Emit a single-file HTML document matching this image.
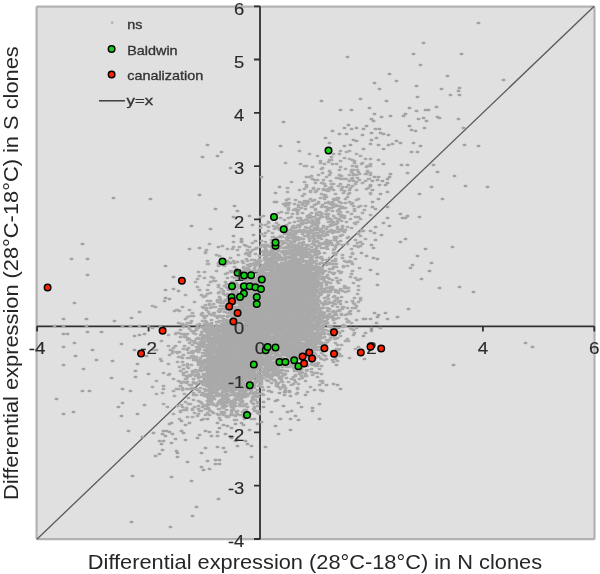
<!DOCTYPE html>
<html><head><meta charset="utf-8"><style>
html,body{margin:0;padding:0;background:#fff;width:600px;height:574px;overflow:hidden}
svg{display:block;will-change:transform}
text{font-family:"Liberation Sans", sans-serif}
</style></head><body>
<svg width="600" height="574" viewBox="0 0 600 574">
<rect x="36.6" y="6.6" width="557.9" height="532.6" rx="1" fill="#e0e0e0" stroke="#b2b2b2" stroke-width="2.2"/>
<g stroke="#303030" stroke-width="1.8" fill="none">
<path d="M260 6.3V539.2M254 539.0H260M254 485.7H260M254 432.4H260M254 379.2H260M254 325.9H260M254 272.6H260M254 219.4H260M254 166.1H260M254 112.8H260M254 59.5H260M254 6.3H260"/>
<path d="M36.9 326.3H594.2M37.1 326.3V331.5M148.6 326.3V331.5M260.0 326.3V331.5M371.4 326.3V331.5M482.9 326.3V331.5M594.3 326.3V331.5"/>
</g>
<path d="M36.9 539.2L594.2 6.3" stroke="#5a5a5a" stroke-width="1.3"/>
<path d="M298.9 151h1.2M339.9 151h1.2M348.9 151h1.2M327.9 152h1.2M345.9 152h1.2M308.9 154h1.2M332.9 154h1.2M338.9 154h1.2M355.9 154h1.2M316.9 156h1.2M359.9 156h1.2M330.9 157h1.2M343.9 158h1.2M348.9 159h1.2M364.9 159h1.2M369.9 159h1.2M328.9 160h1.2M330.9 160h1.2M351.9 160h1.2M319.9 161h1.2M339.9 161h1.2M353.9 161h1.2M327.9 162h1.2M353.9 162h1.2M284.9 163h1.2M319.9 163h1.2M353.9 163h1.2M361.9 163h1.2M299.9 164h1.2M323.9 164h1.2M331.9 164h1.2M335.9 164h1.2M360.9 164h1.2M369.9 164h1.2M303.9 166h1.2M305.9 166h1.2M351.9 166h1.2M355.9 166h1.2M366.9 166h1.2M368.9 166h1.2M369.9 166h1.2M311.9 167h1.2M339.9 167h1.2M355.9 167h1.2M365.9 167h1.2M321.9 168h1.2M320.9 169h1.2M344.9 169h1.2M338.9 170h1.2M350.9 170h1.2M352.9 170h1.2M356.9 170h1.2M328.9 171h1.2M366.9 171h1.2M350.9 172h1.2M357.9 172h1.2M366.9 172h1.2M321.9 173h1.2M329.9 173h1.2M369.9 173h1.2M352.9 174h1.2M358.9 174h1.2M364.9 174h1.2M365.9 174h1.2M317.9 175h1.2M328.9 175h1.2M338.9 175h1.2M348.9 175h1.2M352.9 175h1.2M355.9 175h1.2M369.9 175h1.2M310.9 176h1.2M340.9 176h1.2M305.9 177h1.2M308.9 177h1.2M325.9 177h1.2M335.9 178h1.2M337.9 178h1.2M351.9 178h1.2M356.9 178h1.2M311.9 179h1.2M339.9 179h1.2M342.9 179h1.2M344.9 179h1.2M345.9 179h1.2M350.9 179h1.2M351.9 179h1.2M367.9 179h1.2M368.9 179h1.2M313.9 180h1.2M316.9 180h1.2M322.9 180h1.2M358.9 180h1.2M329.9 181h1.2M348.9 181h1.2M352.9 181h1.2M364.9 181h1.2M290.9 182h1.2M303.9 182h1.2M355.9 182h1.2M314.9 183h1.2M320.9 183h1.2M321.9 183h1.2M361.9 183h1.2M323.9 184h1.2M330.9 184h1.2M332.9 184h1.2M339.9 184h1.2M354.9 184h1.2M305.9 185h1.2M347.9 185h1.2M369.9 185h1.2M305.9 186h1.2M324.9 186h1.2M337.9 186h1.2M351.9 186h1.2M305.9 187h1.2M330.9 187h1.2M341.9 187h1.2M345.9 187h1.2M286.9 188h1.2M312.9 188h1.2M328.9 188h1.2M329.9 188h1.2M349.9 188h1.2M367.9 188h1.2M303.9 189h1.2M312.9 189h1.2M317.9 189h1.2M322.9 189h1.2M327.9 189h1.2M330.9 189h1.2M340.9 189h1.2M365.9 189h1.2M298.9 190h1.2M322.9 190h1.2M325.9 190h1.2M332.9 190h1.2M340.9 190h1.2M348.9 190h1.2M355.9 190h1.2M309.9 191h1.2M315.9 191h1.2M326.9 191h1.2M327.9 191h1.2M343.9 191h1.2M286.9 192h1.2M309.9 192h1.2M314.9 192h1.2M342.9 193h1.2M348.9 193h1.2M369.9 193h1.2M303.9 194h1.2M320.9 194h1.2M334.9 194h1.2M347.9 194h1.2M369.9 194h1.2M323.9 195h1.2M324.9 195h1.2M301.9 196h1.2M323.9 197h1.2M325.9 197h1.2M346.9 197h1.2M319.9 198h1.2M336.9 198h1.2M337.9 198h1.2M287.9 199h1.2M309.9 199h1.2M323.9 199h1.2M332.9 199h1.2M334.9 199h1.2M344.9 199h1.2M357.9 199h1.2M285.9 200h1.2M294.9 200h1.2M313.9 200h1.2M333.9 200h1.2M335.9 200h1.2M336.9 200h1.2M355.9 200h1.2M303.9 201h1.2M306.9 201h1.2M311.9 201h1.2M298.9 202h1.2M307.9 202h1.2M317.9 202h1.2M327.9 202h1.2M331.9 202h1.2M338.9 202h1.2M348.9 202h1.2M285.9 203h1.2M288.9 203h1.2M301.9 203h1.2M303.9 203h1.2M306.9 203h1.2M317.9 203h1.2M324.9 203h1.2M327.9 203h1.2M328.9 203h1.2M340.9 203h1.2M344.9 203h1.2M351.9 203h1.2M282.9 204h1.2M293.9 204h1.2M306.9 204h1.2M315.9 204h1.2M329.9 204h1.2M330.9 204h1.2M332.9 204h1.2M350.9 204h1.2M284.9 205h1.2M287.9 205h1.2M297.9 205h1.2M301.9 205h1.2M313.9 205h1.2M321.9 205h1.2M331.9 205h1.2M335.9 205h1.2M284.9 206h1.2M304.9 206h1.2M321.9 206h1.2M335.9 206h1.2M338.9 206h1.2M352.9 206h1.2M359.9 206h1.2M364.9 206h1.2M297.9 207h1.2M310.9 207h1.2M311.9 207h1.2M320.9 207h1.2M324.9 207h1.2M325.9 207h1.2M332.9 207h1.2M341.9 207h1.2M357.9 207h1.2M287.9 208h1.2M300.9 208h1.2M326.9 208h1.2M327.9 208h1.2M330.9 208h1.2M340.9 208h1.2M342.9 208h1.2M344.9 208h1.2M294.9 209h1.2M304.9 209h1.2M314.9 209h1.2M338.9 209h1.2M353.9 209h1.2M287.9 210h1.2M292.9 210h1.2M294.9 210h1.2M297.9 210h1.2M314.9 210h1.2M326.9 210h1.2M327.9 210h1.2M337.9 210h1.2M363.9 210h1.2M325.9 211h1.2M331.9 211h1.2M336.9 211h1.2M353.9 211h1.2M280.9 212h1.2M296.9 212h1.2M318.9 212h1.2M339.9 212h1.2M346.9 212h1.2M277.9 213h1.2M285.9 213h1.2M286.9 213h1.2M301.9 213h1.2M310.9 213h1.2M315.9 213h1.2M320.9 213h1.2M361.9 213h1.2M291.9 214h1.2M296.9 214h1.2M324.9 214h1.2M325.9 214h1.2M327.9 214h1.2M337.9 214h1.2M350.9 214h1.2M274.9 215h1.2M308.9 215h1.2M315.9 215h1.2M318.9 215h1.2M320.9 215h1.2M340.9 215h1.2M369.9 215h1.2M262.9 216h1.2M306.9 216h1.2M307.9 216h1.2M309.9 216h1.2M326.9 216h1.2M332.9 216h1.2M339.9 216h1.2M342.9 216h1.2M343.9 216h1.2M259.9 217h1.2M271.9 217h1.2M272.9 217h1.2M290.9 217h1.2M310.9 217h1.2M313.9 217h1.2M320.9 217h1.2M321.9 217h1.2M325.9 217h1.2M341.9 217h1.2M354.9 217h1.2M357.9 217h1.2M279.9 218h1.2M287.9 218h1.2M296.9 218h1.2M299.9 218h1.2M306.9 218h1.2M308.9 218h1.2M318.9 218h1.2M327.9 218h1.2M334.9 218h1.2M343.9 218h1.2M315.9 219h1.2M326.9 219h1.2M329.9 219h1.2M337.9 219h1.2M338.9 219h1.2M349.9 219h1.2M359.9 219h1.2M283.9 220h1.2M300.9 220h1.2M304.9 220h1.2M305.9 220h1.2M311.9 220h1.2M317.9 220h1.2M330.9 220h1.2M297.9 221h1.2M301.9 221h1.2M307.9 221h1.2M315.9 221h1.2M336.9 221h1.2M340.9 221h1.2M267.9 222h1.2M293.9 222h1.2M308.9 222h1.2M312.9 222h1.2M317.9 222h1.2M327.9 222h1.2M329.9 222h1.2M332.9 222h1.2M345.9 222h1.2M356.9 222h1.2M267.9 223h1.2M275.9 223h1.2M288.9 223h1.2M300.9 223h1.2M303.9 223h1.2M305.9 223h1.2M310.9 223h1.2M316.9 223h1.2M317.9 223h1.2M331.9 223h1.2M336.9 223h1.2M353.9 223h1.2M259.9 224h1.2M301.9 224h1.2M312.9 224h1.2M314.9 224h1.2M315.9 224h1.2M335.9 224h1.2M354.9 224h1.2M260.9 225h1.2M264.9 225h1.2M277.9 225h1.2M285.9 225h1.2M297.9 225h1.2M299.9 225h1.2M314.9 225h1.2M316.9 225h1.2M329.9 225h1.2M332.9 225h1.2M272.9 226h1.2M284.9 226h1.2M285.9 226h1.2M292.9 226h1.2M296.9 226h1.2M310.9 226h1.2M322.9 226h1.2M329.9 226h1.2M341.9 226h1.2M267.9 227h1.2M275.9 227h1.2M291.9 227h1.2M298.9 227h1.2M304.9 227h1.2M316.9 227h1.2M322.9 227h1.2M326.9 227h1.2M336.9 227h1.2M346.9 227h1.2M259.9 228h1.2M274.9 228h1.2M277.9 228h1.2M280.9 228h1.2M283.9 228h1.2M294.9 228h1.2M305.9 228h1.2M307.9 228h1.2M308.9 228h1.2M313.9 228h1.2M341.9 228h1.2M350.9 228h1.2M273.9 229h1.2M279.9 229h1.2M283.9 229h1.2M285.9 229h1.2M290.9 229h1.2M316.9 229h1.2M317.9 229h1.2M320.9 229h1.2M325.9 229h1.2M336.9 229h1.2M340.9 229h1.2M278.9 230h1.2M280.9 230h1.2M289.9 230h1.2M298.9 230h1.2M302.9 230h1.2M310.9 230h1.2M312.9 230h1.2M315.9 230h1.2M318.9 230h1.2M330.9 230h1.2M338.9 230h1.2M344.9 230h1.2M360.9 230h1.2M267.9 231h1.2M286.9 231h1.2M291.9 231h1.2M292.9 231h1.2M294.9 231h1.2M296.9 231h1.2M299.9 231h1.2M305.9 231h1.2M307.9 231h1.2M310.9 231h1.2M311.9 231h1.2M322.9 231h1.2M328.9 231h1.2M331.9 231h1.2M333.9 231h1.2M341.9 231h1.2M360.9 231h1.2M362.9 231h1.2M284.9 232h1.2M285.9 232h1.2M293.9 232h1.2M294.9 232h1.2M297.9 232h1.2M301.9 232h1.2M302.9 232h1.2M304.9 232h1.2M308.9 232h1.2M319.9 232h1.2M326.9 232h1.2M327.9 232h1.2M334.9 232h1.2M337.9 232h1.2M343.9 232h1.2M264.9 233h1.2M271.9 233h1.2M289.9 233h1.2M306.9 233h1.2M308.9 233h1.2M310.9 233h1.2M314.9 233h1.2M316.9 233h1.2M322.9 233h1.2M331.9 233h1.2M357.9 233h1.2M260.9 234h1.2M283.9 234h1.2M286.9 234h1.2M287.9 234h1.2M288.9 234h1.2M290.9 234h1.2M292.9 234h1.2M294.9 234h1.2M301.9 234h1.2M312.9 234h1.2M325.9 234h1.2M357.9 234h1.2M287.9 235h1.2M290.9 235h1.2M293.9 235h1.2M307.9 235h1.2M317.9 235h1.2M320.9 235h1.2M326.9 235h1.2M340.9 235h1.2M341.9 235h1.2M263.9 236h1.2M279.9 236h1.2M291.9 236h1.2M303.9 236h1.2M304.9 236h1.2M311.9 236h1.2M312.9 236h1.2M313.9 236h1.2M314.9 236h1.2M323.9 236h1.2M339.9 236h1.2M359.9 236h1.2M271.9 237h1.2M272.9 237h1.2M278.9 237h1.2M281.9 237h1.2M286.9 237h1.2M291.9 237h1.2M294.9 237h1.2M296.9 237h1.2M307.9 237h1.2M311.9 237h1.2M317.9 237h1.2M319.9 237h1.2M333.9 237h1.2M334.9 237h1.2M335.9 237h1.2M347.9 237h1.2M275.9 238h1.2M285.9 238h1.2M287.9 238h1.2M288.9 238h1.2M289.9 238h1.2M298.9 238h1.2M299.9 238h1.2M311.9 238h1.2M312.9 238h1.2M317.9 238h1.2M333.9 238h1.2M335.9 238h1.2M346.9 238h1.2M292.9 239h1.2M294.9 239h1.2M296.9 239h1.2M298.9 239h1.2M299.9 239h1.2M300.9 239h1.2M302.9 239h1.2M308.9 239h1.2M313.9 239h1.2M320.9 239h1.2M364.9 239h1.2M270.9 240h1.2M275.9 240h1.2M276.9 240h1.2M285.9 240h1.2M286.9 240h1.2M295.9 240h1.2M297.9 240h1.2M325.9 240h1.2M333.9 240h1.2M334.9 240h1.2M354.9 240h1.2M240.9 241h1.2M260.9 241h1.2M279.9 241h1.2M280.9 241h1.2M281.9 241h1.2M287.9 241h1.2M288.9 241h1.2M292.9 241h1.2M293.9 241h1.2M308.9 241h1.2M312.9 241h1.2M316.9 241h1.2M328.9 241h1.2M329.9 241h1.2M339.9 241h1.2M232.9 242h1.2M264.9 242h1.2M272.9 242h1.2M273.9 242h1.2M281.9 242h1.2M282.9 242h1.2M293.9 242h1.2M302.9 242h1.2M313.9 242h1.2M314.9 242h1.2M315.9 242h1.2M324.9 242h1.2M326.9 242h1.2M336.9 242h1.2M359.9 242h1.2M251.9 243h1.2M270.9 243h1.2M271.9 243h1.2M274.9 243h1.2M277.9 243h1.2M284.9 243h1.2M290.9 243h1.2M298.9 243h1.2M299.9 243h1.2M312.9 243h1.2M318.9 243h1.2M322.9 243h1.2M327.9 243h1.2M330.9 243h1.2M356.9 243h1.2M208.9 244h1.2M281.9 244h1.2M287.9 244h1.2M302.9 244h1.2M311.9 244h1.2M312.9 244h1.2M321.9 244h1.2M324.9 244h1.2M326.9 244h1.2M329.9 244h1.2M337.9 244h1.2M345.9 244h1.2M346.9 244h1.2M361.9 244h1.2M260.9 245h1.2M262.9 245h1.2M265.9 245h1.2M266.9 245h1.2M274.9 245h1.2M287.9 245h1.2M288.9 245h1.2M292.9 245h1.2M293.9 245h1.2M295.9 245h1.2M296.9 245h1.2M301.9 245h1.2M305.9 245h1.2M307.9 245h1.2M313.9 245h1.2M318.9 245h1.2M331.9 245h1.2M335.9 245h1.2M341.9 245h1.2M221.9 246h1.2M245.9 246h1.2M267.9 246h1.2M269.9 246h1.2M270.9 246h1.2M273.9 246h1.2M274.9 246h1.2M279.9 246h1.2M289.9 246h1.2M293.9 246h1.2M297.9 246h1.2M300.9 246h1.2M306.9 246h1.2M315.9 246h1.2M318.9 246h1.2M326.9 246h1.2M353.9 246h1.2M355.9 246h1.2M359.9 246h1.2M232.9 247h1.2M238.9 247h1.2M248.9 247h1.2M259.9 247h1.2M263.9 247h1.2M264.9 247h1.2M269.9 247h1.2M276.9 247h1.2M277.9 247h1.2M284.9 247h1.2M286.9 247h1.2M291.9 247h1.2M292.9 247h1.2M300.9 247h1.2M305.9 247h1.2M310.9 247h1.2M325.9 247h1.2M334.9 247h1.2M357.9 247h1.2M255.9 248h1.2M264.9 248h1.2M275.9 248h1.2M277.9 248h1.2M278.9 248h1.2M282.9 248h1.2M285.9 248h1.2M287.9 248h1.2M288.9 248h1.2M292.9 248h1.2M295.9 248h1.2M298.9 248h1.2M300.9 248h1.2M302.9 248h1.2M304.9 248h1.2M315.9 248h1.2M320.9 248h1.2M323.9 248h1.2M325.9 248h1.2M226.9 249h1.2M231.9 249h1.2M254.9 249h1.2M271.9 249h1.2M273.9 249h1.2M277.9 249h1.2M293.9 249h1.2M298.9 249h1.2M301.9 249h1.2M304.9 249h1.2M307.9 249h1.2M314.9 249h1.2M326.9 249h1.2M333.9 249h1.2M350.9 249h1.2M205.9 250h1.2M236.9 250h1.2M246.9 250h1.2M251.9 250h1.2M264.9 250h1.2M265.9 250h1.2M270.9 250h1.2M274.9 250h1.2M289.9 250h1.2M291.9 250h1.2M292.9 250h1.2M293.9 250h1.2M294.9 250h1.2M295.9 250h1.2M302.9 250h1.2M305.9 250h1.2M309.9 250h1.2M310.9 250h1.2M312.9 250h1.2M332.9 250h1.2M262.9 251h1.2M272.9 251h1.2M277.9 251h1.2M281.9 251h1.2M284.9 251h1.2M285.9 251h1.2M287.9 251h1.2M288.9 251h1.2M290.9 251h1.2M292.9 251h1.2M293.9 251h1.2M295.9 251h1.2M298.9 251h1.2M301.9 251h1.2M313.9 251h1.2M316.9 251h1.2M317.9 251h1.2M204.9 252h1.2M249.9 252h1.2M261.9 252h1.2M262.9 252h1.2M263.9 252h1.2M265.9 252h1.2M266.9 252h1.2M268.9 252h1.2M269.9 252h1.2M270.9 252h1.2M280.9 252h1.2M281.9 252h1.2M285.9 252h1.2M286.9 252h1.2M287.9 252h1.2M292.9 252h1.2M297.9 252h1.2M301.9 252h1.2M304.9 252h1.2M305.9 252h1.2M309.9 252h1.2M312.9 252h1.2M313.9 252h1.2M316.9 252h1.2M204.9 253h1.2M245.9 253h1.2M246.9 253h1.2M263.9 253h1.2M267.9 253h1.2M270.9 253h1.2M273.9 253h1.2M274.9 253h1.2M275.9 253h1.2M282.9 253h1.2M285.9 253h1.2M286.9 253h1.2M287.9 253h1.2M288.9 253h1.2M291.9 253h1.2M292.9 253h1.2M293.9 253h1.2M294.9 253h1.2M296.9 253h1.2M300.9 253h1.2M303.9 253h1.2M306.9 253h1.2M307.9 253h1.2M314.9 253h1.2M317.9 253h1.2M318.9 253h1.2M323.9 253h1.2M332.9 253h1.2M335.9 253h1.2M351.9 253h1.2M244.9 254h1.2M248.9 254h1.2M254.9 254h1.2M269.9 254h1.2M272.9 254h1.2M273.9 254h1.2M276.9 254h1.2M284.9 254h1.2M286.9 254h1.2M287.9 254h1.2M288.9 254h1.2M290.9 254h1.2M291.9 254h1.2M294.9 254h1.2M298.9 254h1.2M306.9 254h1.2M314.9 254h1.2M316.9 254h1.2M317.9 254h1.2M351.9 254h1.2M215.9 255h1.2M237.9 255h1.2M247.9 255h1.2M262.9 255h1.2M264.9 255h1.2M265.9 255h1.2M267.9 255h1.2M270.9 255h1.2M271.9 255h1.2M273.9 255h1.2M278.9 255h1.2M283.9 255h1.2M292.9 255h1.2M295.9 255h1.2M297.9 255h1.2M300.9 255h1.2M303.9 255h1.2M307.9 255h1.2M309.9 255h1.2M313.9 255h1.2M315.9 255h1.2M334.9 255h1.2M341.9 255h1.2M218.9 256h1.2M248.9 256h1.2M258.9 256h1.2M264.9 256h1.2M271.9 256h1.2M274.9 256h1.2M278.9 256h1.2M290.9 256h1.2M294.9 256h1.2M299.9 256h1.2M301.9 256h1.2M303.9 256h1.2M304.9 256h1.2M305.9 256h1.2M306.9 256h1.2M265.9 257h1.2M273.9 257h1.2M275.9 257h1.2M277.9 257h1.2M278.9 257h1.2M279.9 257h1.2M284.9 257h1.2M286.9 257h1.2M288.9 257h1.2M291.9 257h1.2M292.9 257h1.2M294.9 257h1.2M300.9 257h1.2M303.9 257h1.2M304.9 257h1.2M305.9 257h1.2M306.9 257h1.2M310.9 257h1.2M311.9 257h1.2M316.9 257h1.2M320.9 257h1.2M349.9 257h1.2M229.9 258h1.2M263.9 258h1.2M265.9 258h1.2M269.9 258h1.2M272.9 258h1.2M276.9 258h1.2M279.9 258h1.2M282.9 258h1.2M284.9 258h1.2M285.9 258h1.2M286.9 258h1.2M287.9 258h1.2M288.9 258h1.2M291.9 258h1.2M300.9 258h1.2M309.9 258h1.2M310.9 258h1.2M315.9 258h1.2M319.9 258h1.2M328.9 258h1.2M341.9 258h1.2M245.9 259h1.2M258.9 259h1.2M264.9 259h1.2M266.9 259h1.2M268.9 259h1.2M269.9 259h1.2M275.9 259h1.2M278.9 259h1.2M280.9 259h1.2M281.9 259h1.2M283.9 259h1.2M291.9 259h1.2M292.9 259h1.2M294.9 259h1.2M296.9 259h1.2M299.9 259h1.2M301.9 259h1.2M309.9 259h1.2M321.9 259h1.2M334.9 259h1.2M354.9 259h1.2M250.9 260h1.2M251.9 260h1.2M253.9 260h1.2M258.9 260h1.2M263.9 260h1.2M266.9 260h1.2M267.9 260h1.2M268.9 260h1.2M269.9 260h1.2M272.9 260h1.2M277.9 260h1.2M278.9 260h1.2M279.9 260h1.2M281.9 260h1.2M283.9 260h1.2M284.9 260h1.2M290.9 260h1.2M291.9 260h1.2M292.9 260h1.2M295.9 260h1.2M296.9 260h1.2M297.9 260h1.2M299.9 260h1.2M300.9 260h1.2M311.9 260h1.2M321.9 260h1.2M325.9 260h1.2M206.9 261h1.2M223.9 261h1.2M226.9 261h1.2M232.9 261h1.2M241.9 261h1.2M246.9 261h1.2M255.9 261h1.2M258.9 261h1.2M259.9 261h1.2M265.9 261h1.2M267.9 261h1.2M268.9 261h1.2M270.9 261h1.2M273.9 261h1.2M288.9 261h1.2M289.9 261h1.2M291.9 261h1.2M294.9 261h1.2M295.9 261h1.2M299.9 261h1.2M303.9 261h1.2M304.9 261h1.2M307.9 261h1.2M310.9 261h1.2M315.9 261h1.2M331.9 261h1.2M334.9 261h1.2M343.9 261h1.2M348.9 261h1.2M227.9 262h1.2M236.9 262h1.2M241.9 262h1.2M257.9 262h1.2M267.9 262h1.2M272.9 262h1.2M274.9 262h1.2M275.9 262h1.2M285.9 262h1.2M288.9 262h1.2M292.9 262h1.2M293.9 262h1.2M294.9 262h1.2M295.9 262h1.2M297.9 262h1.2M298.9 262h1.2M299.9 262h1.2M301.9 262h1.2M306.9 262h1.2M313.9 262h1.2M345.9 262h1.2M348.9 262h1.2M350.9 262h1.2M217.9 263h1.2M229.9 263h1.2M233.9 263h1.2M242.9 263h1.2M253.9 263h1.2M256.9 263h1.2M258.9 263h1.2M264.9 263h1.2M266.9 263h1.2M269.9 263h1.2M270.9 263h1.2M272.9 263h1.2M273.9 263h1.2M274.9 263h1.2M280.9 263h1.2M282.9 263h1.2M284.9 263h1.2M285.9 263h1.2M288.9 263h1.2M290.9 263h1.2M291.9 263h1.2M293.9 263h1.2M294.9 263h1.2M296.9 263h1.2M297.9 263h1.2M299.9 263h1.2M305.9 263h1.2M306.9 263h1.2M309.9 263h1.2M310.9 263h1.2M311.9 263h1.2M319.9 263h1.2M321.9 263h1.2M322.9 263h1.2M328.9 263h1.2M206.9 264h1.2M207.9 264h1.2M223.9 264h1.2M225.9 264h1.2M249.9 264h1.2M251.9 264h1.2M271.9 264h1.2M275.9 264h1.2M276.9 264h1.2M281.9 264h1.2M282.9 264h1.2M283.9 264h1.2M284.9 264h1.2M285.9 264h1.2M286.9 264h1.2M288.9 264h1.2M290.9 264h1.2M294.9 264h1.2M295.9 264h1.2M298.9 264h1.2M305.9 264h1.2M309.9 264h1.2M310.9 264h1.2M315.9 264h1.2M316.9 264h1.2M317.9 264h1.2M318.9 264h1.2M326.9 264h1.2M329.9 264h1.2M330.9 264h1.2M332.9 264h1.2M333.9 264h1.2M335.9 264h1.2M351.9 264h1.2M217.9 265h1.2M246.9 265h1.2M248.9 265h1.2M253.9 265h1.2M254.9 265h1.2M257.9 265h1.2M261.9 265h1.2M264.9 265h1.2M266.9 265h1.2M269.9 265h1.2M275.9 265h1.2M277.9 265h1.2M280.9 265h1.2M283.9 265h1.2M286.9 265h1.2M287.9 265h1.2M290.9 265h1.2M292.9 265h1.2M294.9 265h1.2M297.9 265h1.2M299.9 265h1.2M302.9 265h1.2M306.9 265h1.2M307.9 265h1.2M308.9 265h1.2M309.9 265h1.2M310.9 265h1.2M325.9 265h1.2M217.9 266h1.2M223.9 266h1.2M248.9 266h1.2M249.9 266h1.2M254.9 266h1.2M261.9 266h1.2M263.9 266h1.2M264.9 266h1.2M268.9 266h1.2M269.9 266h1.2M270.9 266h1.2M271.9 266h1.2M274.9 266h1.2M275.9 266h1.2M276.9 266h1.2M277.9 266h1.2M279.9 266h1.2M283.9 266h1.2M284.9 266h1.2M285.9 266h1.2M286.9 266h1.2M287.9 266h1.2M291.9 266h1.2M297.9 266h1.2M299.9 266h1.2M300.9 266h1.2M303.9 266h1.2M305.9 266h1.2M308.9 266h1.2M309.9 266h1.2M310.9 266h1.2M314.9 266h1.2M342.9 266h1.2M346.9 266h1.2M233.9 267h1.2M242.9 267h1.2M260.9 267h1.2M262.9 267h1.2M265.9 267h1.2M267.9 267h1.2M268.9 267h1.2M269.9 267h1.2M279.9 267h1.2M281.9 267h1.2M282.9 267h1.2M283.9 267h1.2M284.9 267h1.2M285.9 267h1.2M287.9 267h1.2M288.9 267h1.2M292.9 267h1.2M293.9 267h1.2M294.9 267h1.2M296.9 267h1.2M297.9 267h1.2M298.9 267h1.2M302.9 267h1.2M303.9 267h1.2M304.9 267h1.2M306.9 267h1.2M310.9 267h1.2M313.9 267h1.2M315.9 267h1.2M317.9 267h1.2M321.9 267h1.2M332.9 267h1.2M335.9 267h1.2M342.9 267h1.2M242.9 268h1.2M244.9 268h1.2M245.9 268h1.2M247.9 268h1.2M253.9 268h1.2M258.9 268h1.2M261.9 268h1.2M262.9 268h1.2M264.9 268h1.2M268.9 268h1.2M269.9 268h1.2M270.9 268h1.2M271.9 268h1.2M275.9 268h1.2M277.9 268h1.2M278.9 268h1.2M279.9 268h1.2M280.9 268h1.2M281.9 268h1.2M284.9 268h1.2M286.9 268h1.2M288.9 268h1.2M290.9 268h1.2M292.9 268h1.2M293.9 268h1.2M295.9 268h1.2M297.9 268h1.2M299.9 268h1.2M300.9 268h1.2M301.9 268h1.2M302.9 268h1.2M305.9 268h1.2M308.9 268h1.2M310.9 268h1.2M314.9 268h1.2M316.9 268h1.2M319.9 268h1.2M320.9 268h1.2M358.9 268h1.2M235.9 269h1.2M244.9 269h1.2M246.9 269h1.2M247.9 269h1.2M253.9 269h1.2M258.9 269h1.2M264.9 269h1.2M265.9 269h1.2M267.9 269h1.2M269.9 269h1.2M270.9 269h1.2M272.9 269h1.2M276.9 269h1.2M277.9 269h1.2M278.9 269h1.2M282.9 269h1.2M284.9 269h1.2M286.9 269h1.2M288.9 269h1.2M289.9 269h1.2M291.9 269h1.2M292.9 269h1.2M294.9 269h1.2M295.9 269h1.2M297.9 269h1.2M299.9 269h1.2M300.9 269h1.2M301.9 269h1.2M302.9 269h1.2M304.9 269h1.2M307.9 269h1.2M309.9 269h1.2M310.9 269h1.2M311.9 269h1.2M312.9 269h1.2M313.9 269h1.2M328.9 269h1.2M331.9 269h1.2M235.9 270h1.2M244.9 270h1.2M246.9 270h1.2M247.9 270h1.2M248.9 270h1.2M253.9 270h1.2M259.9 270h1.2M262.9 270h1.2M263.9 270h1.2M264.9 270h1.2M267.9 270h1.2M270.9 270h1.2M280.9 270h1.2M281.9 270h1.2M282.9 270h1.2M284.9 270h1.2M286.9 270h1.2M288.9 270h1.2M290.9 270h1.2M292.9 270h1.2M294.9 270h1.2M296.9 270h1.2M298.9 270h1.2M303.9 270h1.2M310.9 270h1.2M312.9 270h1.2M316.9 270h1.2M317.9 270h1.2M319.9 270h1.2M321.9 270h1.2M215.9 271h1.2M229.9 271h1.2M230.9 271h1.2M238.9 271h1.2M241.9 271h1.2M248.9 271h1.2M250.9 271h1.2M253.9 271h1.2M256.9 271h1.2M259.9 271h1.2M262.9 271h1.2M274.9 271h1.2M275.9 271h1.2M276.9 271h1.2M279.9 271h1.2M281.9 271h1.2M282.9 271h1.2M283.9 271h1.2M284.9 271h1.2M285.9 271h1.2M286.9 271h1.2M289.9 271h1.2M291.9 271h1.2M293.9 271h1.2M295.9 271h1.2M300.9 271h1.2M302.9 271h1.2M304.9 271h1.2M306.9 271h1.2M308.9 271h1.2M315.9 271h1.2M316.9 271h1.2M322.9 271h1.2M324.9 271h1.2M337.9 271h1.2M351.9 271h1.2M197.9 272h1.2M203.9 272h1.2M230.9 272h1.2M236.9 272h1.2M246.9 272h1.2M248.9 272h1.2M249.9 272h1.2M251.9 272h1.2M259.9 272h1.2M261.9 272h1.2M270.9 272h1.2M272.9 272h1.2M273.9 272h1.2M274.9 272h1.2M275.9 272h1.2M276.9 272h1.2M277.9 272h1.2M279.9 272h1.2M280.9 272h1.2M282.9 272h1.2M283.9 272h1.2M285.9 272h1.2M286.9 272h1.2M287.9 272h1.2M288.9 272h1.2M289.9 272h1.2M290.9 272h1.2M293.9 272h1.2M294.9 272h1.2M297.9 272h1.2M298.9 272h1.2M299.9 272h1.2M301.9 272h1.2M302.9 272h1.2M303.9 272h1.2M305.9 272h1.2M309.9 272h1.2M315.9 272h1.2M316.9 272h1.2M319.9 272h1.2M322.9 272h1.2M328.9 272h1.2M340.9 272h1.2M226.9 273h1.2M234.9 273h1.2M247.9 273h1.2M248.9 273h1.2M258.9 273h1.2M263.9 273h1.2M265.9 273h1.2M266.9 273h1.2M268.9 273h1.2M269.9 273h1.2M272.9 273h1.2M273.9 273h1.2M274.9 273h1.2M275.9 273h1.2M277.9 273h1.2M278.9 273h1.2M280.9 273h1.2M281.9 273h1.2M282.9 273h1.2M283.9 273h1.2M284.9 273h1.2M285.9 273h1.2M286.9 273h1.2M292.9 273h1.2M295.9 273h1.2M297.9 273h1.2M298.9 273h1.2M299.9 273h1.2M300.9 273h1.2M304.9 273h1.2M305.9 273h1.2M307.9 273h1.2M308.9 273h1.2M309.9 273h1.2M310.9 273h1.2M311.9 273h1.2M313.9 273h1.2M315.9 273h1.2M316.9 273h1.2M319.9 273h1.2M331.9 273h1.2M333.9 273h1.2M339.9 273h1.2M224.9 274h1.2M240.9 274h1.2M246.9 274h1.2M247.9 274h1.2M250.9 274h1.2M256.9 274h1.2M262.9 274h1.2M264.9 274h1.2M266.9 274h1.2M269.9 274h1.2M270.9 274h1.2M271.9 274h1.2M276.9 274h1.2M277.9 274h1.2M278.9 274h1.2M281.9 274h1.2M283.9 274h1.2M284.9 274h1.2M286.9 274h1.2M287.9 274h1.2M288.9 274h1.2M289.9 274h1.2M290.9 274h1.2M291.9 274h1.2M293.9 274h1.2M294.9 274h1.2M295.9 274h1.2M296.9 274h1.2M297.9 274h1.2M298.9 274h1.2M300.9 274h1.2M301.9 274h1.2M303.9 274h1.2M305.9 274h1.2M308.9 274h1.2M312.9 274h1.2M313.9 274h1.2M315.9 274h1.2M321.9 274h1.2M332.9 274h1.2M350.9 274h1.2M235.9 275h1.2M243.9 275h1.2M245.9 275h1.2M246.9 275h1.2M258.9 275h1.2M261.9 275h1.2M263.9 275h1.2M266.9 275h1.2M271.9 275h1.2M272.9 275h1.2M277.9 275h1.2M278.9 275h1.2M280.9 275h1.2M281.9 275h1.2M282.9 275h1.2M283.9 275h1.2M284.9 275h1.2M286.9 275h1.2M287.9 275h1.2M288.9 275h1.2M289.9 275h1.2M290.9 275h1.2M292.9 275h1.2M293.9 275h1.2M296.9 275h1.2M298.9 275h1.2M300.9 275h1.2M302.9 275h1.2M304.9 275h1.2M311.9 275h1.2M312.9 275h1.2M313.9 275h1.2M314.9 275h1.2M316.9 275h1.2M326.9 275h1.2M198.9 276h1.2M246.9 276h1.2M248.9 276h1.2M256.9 276h1.2M262.9 276h1.2M265.9 276h1.2M267.9 276h1.2M269.9 276h1.2M270.9 276h1.2M271.9 276h1.2M273.9 276h1.2M274.9 276h1.2M276.9 276h1.2M279.9 276h1.2M280.9 276h1.2M282.9 276h1.2M287.9 276h1.2M288.9 276h1.2M290.9 276h1.2M291.9 276h1.2M293.9 276h1.2M294.9 276h1.2M295.9 276h1.2M296.9 276h1.2M297.9 276h1.2M298.9 276h1.2M300.9 276h1.2M301.9 276h1.2M302.9 276h1.2M303.9 276h1.2M304.9 276h1.2M305.9 276h1.2M306.9 276h1.2M309.9 276h1.2M310.9 276h1.2M311.9 276h1.2M312.9 276h1.2M313.9 276h1.2M314.9 276h1.2M318.9 276h1.2M210.9 277h1.2M231.9 277h1.2M245.9 277h1.2M248.9 277h1.2M256.9 277h1.2M259.9 277h1.2M261.9 277h1.2M262.9 277h1.2M267.9 277h1.2M268.9 277h1.2M270.9 277h1.2M272.9 277h1.2M274.9 277h1.2M275.9 277h1.2M278.9 277h1.2M280.9 277h1.2M282.9 277h1.2M283.9 277h1.2M284.9 277h1.2M291.9 277h1.2M292.9 277h1.2M294.9 277h1.2M295.9 277h1.2M296.9 277h1.2M297.9 277h1.2M298.9 277h1.2M299.9 277h1.2M300.9 277h1.2M301.9 277h1.2M302.9 277h1.2M303.9 277h1.2M306.9 277h1.2M307.9 277h1.2M308.9 277h1.2M310.9 277h1.2M312.9 277h1.2M313.9 277h1.2M314.9 277h1.2M321.9 277h1.2M322.9 277h1.2M325.9 277h1.2M349.9 277h1.2M203.9 278h1.2M212.9 278h1.2M226.9 278h1.2M233.9 278h1.2M237.9 278h1.2M240.9 278h1.2M253.9 278h1.2M259.9 278h1.2M262.9 278h1.2M266.9 278h1.2M270.9 278h1.2M271.9 278h1.2M274.9 278h1.2M275.9 278h1.2M276.9 278h1.2M278.9 278h1.2M279.9 278h1.2M281.9 278h1.2M282.9 278h1.2M283.9 278h1.2M284.9 278h1.2M285.9 278h1.2M287.9 278h1.2M288.9 278h1.2M289.9 278h1.2M291.9 278h1.2M292.9 278h1.2M293.9 278h1.2M294.9 278h1.2M295.9 278h1.2M299.9 278h1.2M300.9 278h1.2M302.9 278h1.2M303.9 278h1.2M304.9 278h1.2M306.9 278h1.2M307.9 278h1.2M308.9 278h1.2M309.9 278h1.2M310.9 278h1.2M314.9 278h1.2M316.9 278h1.2M321.9 278h1.2M323.9 278h1.2M327.9 278h1.2M335.9 278h1.2M354.9 278h1.2M196.9 279h1.2M240.9 279h1.2M245.9 279h1.2M250.9 279h1.2M251.9 279h1.2M253.9 279h1.2M256.9 279h1.2M262.9 279h1.2M263.9 279h1.2M264.9 279h1.2M265.9 279h1.2M266.9 279h1.2M271.9 279h1.2M272.9 279h1.2M273.9 279h1.2M275.9 279h1.2M276.9 279h1.2M279.9 279h1.2M280.9 279h1.2M281.9 279h1.2M283.9 279h1.2M284.9 279h1.2M285.9 279h1.2M286.9 279h1.2M287.9 279h1.2M288.9 279h1.2M289.9 279h1.2M291.9 279h1.2M292.9 279h1.2M294.9 279h1.2M295.9 279h1.2M296.9 279h1.2M302.9 279h1.2M303.9 279h1.2M304.9 279h1.2M305.9 279h1.2M306.9 279h1.2M308.9 279h1.2M309.9 279h1.2M310.9 279h1.2M311.9 279h1.2M313.9 279h1.2M315.9 279h1.2M319.9 279h1.2M320.9 279h1.2M328.9 279h1.2M359.9 279h1.2M239.9 280h1.2M240.9 280h1.2M244.9 280h1.2M245.9 280h1.2M248.9 280h1.2M249.9 280h1.2M256.9 280h1.2M257.9 280h1.2M260.9 280h1.2M268.9 280h1.2M269.9 280h1.2M270.9 280h1.2M273.9 280h1.2M274.9 280h1.2M275.9 280h1.2M276.9 280h1.2M278.9 280h1.2M280.9 280h1.2M282.9 280h1.2M285.9 280h1.2M286.9 280h1.2M287.9 280h1.2M288.9 280h1.2M291.9 280h1.2M292.9 280h1.2M294.9 280h1.2M295.9 280h1.2M297.9 280h1.2M298.9 280h1.2M300.9 280h1.2M303.9 280h1.2M304.9 280h1.2M305.9 280h1.2M307.9 280h1.2M310.9 280h1.2M311.9 280h1.2M312.9 280h1.2M313.9 280h1.2M322.9 280h1.2M331.9 280h1.2M339.9 280h1.2M356.9 280h1.2M357.9 280h1.2M212.9 281h1.2M214.9 281h1.2M245.9 281h1.2M251.9 281h1.2M252.9 281h1.2M255.9 281h1.2M257.9 281h1.2M260.9 281h1.2M261.9 281h1.2M264.9 281h1.2M265.9 281h1.2M267.9 281h1.2M268.9 281h1.2M270.9 281h1.2M272.9 281h1.2M273.9 281h1.2M274.9 281h1.2M278.9 281h1.2M279.9 281h1.2M281.9 281h1.2M282.9 281h1.2M284.9 281h1.2M287.9 281h1.2M288.9 281h1.2M289.9 281h1.2M290.9 281h1.2M291.9 281h1.2M294.9 281h1.2M295.9 281h1.2M296.9 281h1.2M297.9 281h1.2M299.9 281h1.2M300.9 281h1.2M301.9 281h1.2M302.9 281h1.2M303.9 281h1.2M304.9 281h1.2M305.9 281h1.2M306.9 281h1.2M307.9 281h1.2M308.9 281h1.2M313.9 281h1.2M316.9 281h1.2M323.9 281h1.2M336.9 281h1.2M194.9 282h1.2M209.9 282h1.2M224.9 282h1.2M230.9 282h1.2M232.9 282h1.2M245.9 282h1.2M251.9 282h1.2M253.9 282h1.2M254.9 282h1.2M256.9 282h1.2M257.9 282h1.2M259.9 282h1.2M260.9 282h1.2M265.9 282h1.2M266.9 282h1.2M269.9 282h1.2M271.9 282h1.2M272.9 282h1.2M273.9 282h1.2M275.9 282h1.2M277.9 282h1.2M278.9 282h1.2M281.9 282h1.2M283.9 282h1.2M284.9 282h1.2M287.9 282h1.2M290.9 282h1.2M291.9 282h1.2M293.9 282h1.2M297.9 282h1.2M298.9 282h1.2M299.9 282h1.2M300.9 282h1.2M302.9 282h1.2M303.9 282h1.2M304.9 282h1.2M305.9 282h1.2M306.9 282h1.2M307.9 282h1.2M308.9 282h1.2M309.9 282h1.2M310.9 282h1.2M311.9 282h1.2M313.9 282h1.2M316.9 282h1.2M317.9 282h1.2M324.9 282h1.2M326.9 282h1.2M233.9 283h1.2M235.9 283h1.2M245.9 283h1.2M251.9 283h1.2M252.9 283h1.2M254.9 283h1.2M255.9 283h1.2M256.9 283h1.2M257.9 283h1.2M258.9 283h1.2M259.9 283h1.2M262.9 283h1.2M265.9 283h1.2M271.9 283h1.2M272.9 283h1.2M276.9 283h1.2M277.9 283h1.2M279.9 283h1.2M280.9 283h1.2M283.9 283h1.2M285.9 283h1.2M287.9 283h1.2M288.9 283h1.2M291.9 283h1.2M294.9 283h1.2M296.9 283h1.2M298.9 283h1.2M299.9 283h1.2M300.9 283h1.2M301.9 283h1.2M302.9 283h1.2M304.9 283h1.2M306.9 283h1.2M307.9 283h1.2M308.9 283h1.2M310.9 283h1.2M314.9 283h1.2M317.9 283h1.2M320.9 283h1.2M325.9 283h1.2M329.9 283h1.2M337.9 283h1.2M352.9 283h1.2M225.9 284h1.2M244.9 284h1.2M247.9 284h1.2M248.9 284h1.2M249.9 284h1.2M254.9 284h1.2M256.9 284h1.2M257.9 284h1.2M259.9 284h1.2M260.9 284h1.2M261.9 284h1.2M263.9 284h1.2M264.9 284h1.2M265.9 284h1.2M266.9 284h1.2M268.9 284h1.2M269.9 284h1.2M270.9 284h1.2M271.9 284h1.2M276.9 284h1.2M278.9 284h1.2M283.9 284h1.2M284.9 284h1.2M285.9 284h1.2M286.9 284h1.2M288.9 284h1.2M289.9 284h1.2M290.9 284h1.2M291.9 284h1.2M292.9 284h1.2M293.9 284h1.2M294.9 284h1.2M295.9 284h1.2M297.9 284h1.2M298.9 284h1.2M299.9 284h1.2M301.9 284h1.2M302.9 284h1.2M305.9 284h1.2M306.9 284h1.2M310.9 284h1.2M311.9 284h1.2M312.9 284h1.2M314.9 284h1.2M316.9 284h1.2M320.9 284h1.2M325.9 284h1.2M207.9 285h1.2M217.9 285h1.2M235.9 285h1.2M236.9 285h1.2M239.9 285h1.2M240.9 285h1.2M243.9 285h1.2M255.9 285h1.2M256.9 285h1.2M257.9 285h1.2M264.9 285h1.2M265.9 285h1.2M267.9 285h1.2M271.9 285h1.2M272.9 285h1.2M273.9 285h1.2M274.9 285h1.2M275.9 285h1.2M277.9 285h1.2M278.9 285h1.2M280.9 285h1.2M282.9 285h1.2M283.9 285h1.2M284.9 285h1.2M286.9 285h1.2M287.9 285h1.2M291.9 285h1.2M295.9 285h1.2M297.9 285h1.2M298.9 285h1.2M299.9 285h1.2M301.9 285h1.2M302.9 285h1.2M304.9 285h1.2M305.9 285h1.2M308.9 285h1.2M313.9 285h1.2M317.9 285h1.2M325.9 285h1.2M223.9 286h1.2M229.9 286h1.2M231.9 286h1.2M235.9 286h1.2M247.9 286h1.2M248.9 286h1.2M250.9 286h1.2M253.9 286h1.2M256.9 286h1.2M257.9 286h1.2M258.9 286h1.2M259.9 286h1.2M261.9 286h1.2M263.9 286h1.2M264.9 286h1.2M265.9 286h1.2M266.9 286h1.2M268.9 286h1.2M269.9 286h1.2M270.9 286h1.2M273.9 286h1.2M274.9 286h1.2M276.9 286h1.2M277.9 286h1.2M278.9 286h1.2M280.9 286h1.2M281.9 286h1.2M282.9 286h1.2M283.9 286h1.2M286.9 286h1.2M288.9 286h1.2M290.9 286h1.2M291.9 286h1.2M292.9 286h1.2M293.9 286h1.2M295.9 286h1.2M296.9 286h1.2M297.9 286h1.2M298.9 286h1.2M300.9 286h1.2M301.9 286h1.2M302.9 286h1.2M303.9 286h1.2M304.9 286h1.2M306.9 286h1.2M309.9 286h1.2M311.9 286h1.2M314.9 286h1.2M315.9 286h1.2M320.9 286h1.2M343.9 286h1.2M357.9 286h1.2M196.9 287h1.2M217.9 287h1.2M225.9 287h1.2M229.9 287h1.2M236.9 287h1.2M239.9 287h1.2M240.9 287h1.2M244.9 287h1.2M248.9 287h1.2M249.9 287h1.2M250.9 287h1.2M251.9 287h1.2M252.9 287h1.2M254.9 287h1.2M256.9 287h1.2M257.9 287h1.2M258.9 287h1.2M261.9 287h1.2M262.9 287h1.2M263.9 287h1.2M264.9 287h1.2M267.9 287h1.2M268.9 287h1.2M270.9 287h1.2M271.9 287h1.2M272.9 287h1.2M273.9 287h1.2M276.9 287h1.2M277.9 287h1.2M279.9 287h1.2M282.9 287h1.2M284.9 287h1.2M286.9 287h1.2M287.9 287h1.2M288.9 287h1.2M289.9 287h1.2M290.9 287h1.2M291.9 287h1.2M293.9 287h1.2M295.9 287h1.2M296.9 287h1.2M298.9 287h1.2M300.9 287h1.2M301.9 287h1.2M304.9 287h1.2M310.9 287h1.2M312.9 287h1.2M315.9 287h1.2M316.9 287h1.2M329.9 287h1.2M331.9 287h1.2M344.9 287h1.2M226.9 288h1.2M237.9 288h1.2M241.9 288h1.2M246.9 288h1.2M248.9 288h1.2M251.9 288h1.2M252.9 288h1.2M253.9 288h1.2M254.9 288h1.2M257.9 288h1.2M258.9 288h1.2M259.9 288h1.2M261.9 288h1.2M264.9 288h1.2M265.9 288h1.2M266.9 288h1.2M267.9 288h1.2M269.9 288h1.2M273.9 288h1.2M276.9 288h1.2M277.9 288h1.2M278.9 288h1.2M279.9 288h1.2M280.9 288h1.2M282.9 288h1.2M283.9 288h1.2M284.9 288h1.2M285.9 288h1.2M286.9 288h1.2M291.9 288h1.2M292.9 288h1.2M293.9 288h1.2M294.9 288h1.2M299.9 288h1.2M301.9 288h1.2M302.9 288h1.2M303.9 288h1.2M305.9 288h1.2M307.9 288h1.2M310.9 288h1.2M311.9 288h1.2M313.9 288h1.2M314.9 288h1.2M320.9 288h1.2M325.9 288h1.2M327.9 288h1.2M343.9 288h1.2M346.9 288h1.2M347.9 288h1.2M220.9 289h1.2M228.9 289h1.2M242.9 289h1.2M243.9 289h1.2M248.9 289h1.2M249.9 289h1.2M250.9 289h1.2M251.9 289h1.2M252.9 289h1.2M254.9 289h1.2M255.9 289h1.2M258.9 289h1.2M260.9 289h1.2M261.9 289h1.2M263.9 289h1.2M264.9 289h1.2M266.9 289h1.2M267.9 289h1.2M268.9 289h1.2M270.9 289h1.2M271.9 289h1.2M272.9 289h1.2M274.9 289h1.2M277.9 289h1.2M278.9 289h1.2M281.9 289h1.2M282.9 289h1.2M284.9 289h1.2M285.9 289h1.2M286.9 289h1.2M288.9 289h1.2M289.9 289h1.2M294.9 289h1.2M295.9 289h1.2M296.9 289h1.2M299.9 289h1.2M301.9 289h1.2M302.9 289h1.2M303.9 289h1.2M304.9 289h1.2M305.9 289h1.2M307.9 289h1.2M308.9 289h1.2M309.9 289h1.2M310.9 289h1.2M312.9 289h1.2M313.9 289h1.2M314.9 289h1.2M319.9 289h1.2M323.9 289h1.2M329.9 289h1.2M330.9 289h1.2M331.9 289h1.2M339.9 289h1.2M198.9 290h1.2M206.9 290h1.2M227.9 290h1.2M234.9 290h1.2M235.9 290h1.2M240.9 290h1.2M241.9 290h1.2M245.9 290h1.2M248.9 290h1.2M250.9 290h1.2M253.9 290h1.2M255.9 290h1.2M257.9 290h1.2M259.9 290h1.2M260.9 290h1.2M264.9 290h1.2M265.9 290h1.2M267.9 290h1.2M268.9 290h1.2M269.9 290h1.2M271.9 290h1.2M272.9 290h1.2M273.9 290h1.2M274.9 290h1.2M276.9 290h1.2M278.9 290h1.2M279.9 290h1.2M280.9 290h1.2M281.9 290h1.2M282.9 290h1.2M283.9 290h1.2M284.9 290h1.2M287.9 290h1.2M288.9 290h1.2M289.9 290h1.2M290.9 290h1.2M291.9 290h1.2M292.9 290h1.2M293.9 290h1.2M297.9 290h1.2M299.9 290h1.2M300.9 290h1.2M301.9 290h1.2M302.9 290h1.2M305.9 290h1.2M306.9 290h1.2M307.9 290h1.2M308.9 290h1.2M311.9 290h1.2M316.9 290h1.2M321.9 290h1.2M323.9 290h1.2M330.9 290h1.2M334.9 290h1.2M357.9 290h1.2M222.9 291h1.2M231.9 291h1.2M233.9 291h1.2M242.9 291h1.2M244.9 291h1.2M245.9 291h1.2M247.9 291h1.2M248.9 291h1.2M252.9 291h1.2M260.9 291h1.2M261.9 291h1.2M262.9 291h1.2M263.9 291h1.2M267.9 291h1.2M268.9 291h1.2M271.9 291h1.2M272.9 291h1.2M274.9 291h1.2M275.9 291h1.2M276.9 291h1.2M278.9 291h1.2M279.9 291h1.2M281.9 291h1.2M282.9 291h1.2M283.9 291h1.2M286.9 291h1.2M290.9 291h1.2M291.9 291h1.2M292.9 291h1.2M293.9 291h1.2M296.9 291h1.2M298.9 291h1.2M299.9 291h1.2M300.9 291h1.2M302.9 291h1.2M303.9 291h1.2M304.9 291h1.2M307.9 291h1.2M308.9 291h1.2M310.9 291h1.2M312.9 291h1.2M313.9 291h1.2M322.9 291h1.2M325.9 291h1.2M328.9 291h1.2M337.9 291h1.2M341.9 291h1.2M347.9 291h1.2M218.9 292h1.2M231.9 292h1.2M234.9 292h1.2M235.9 292h1.2M236.9 292h1.2M248.9 292h1.2M252.9 292h1.2M253.9 292h1.2M255.9 292h1.2M258.9 292h1.2M259.9 292h1.2M261.9 292h1.2M262.9 292h1.2M265.9 292h1.2M267.9 292h1.2M271.9 292h1.2M272.9 292h1.2M273.9 292h1.2M274.9 292h1.2M275.9 292h1.2M277.9 292h1.2M278.9 292h1.2M281.9 292h1.2M283.9 292h1.2M287.9 292h1.2M288.9 292h1.2M289.9 292h1.2M290.9 292h1.2M292.9 292h1.2M294.9 292h1.2M295.9 292h1.2M296.9 292h1.2M297.9 292h1.2M299.9 292h1.2M300.9 292h1.2M302.9 292h1.2M303.9 292h1.2M304.9 292h1.2M305.9 292h1.2M306.9 292h1.2M307.9 292h1.2M308.9 292h1.2M311.9 292h1.2M313.9 292h1.2M315.9 292h1.2M316.9 292h1.2M319.9 292h1.2M322.9 292h1.2M324.9 292h1.2M327.9 292h1.2M329.9 292h1.2M334.9 292h1.2M344.9 292h1.2M209.9 293h1.2M217.9 293h1.2M222.9 293h1.2M234.9 293h1.2M237.9 293h1.2M240.9 293h1.2M241.9 293h1.2M245.9 293h1.2M246.9 293h1.2M247.9 293h1.2M249.9 293h1.2M250.9 293h1.2M252.9 293h1.2M253.9 293h1.2M254.9 293h1.2M255.9 293h1.2M256.9 293h1.2M257.9 293h1.2M258.9 293h1.2M259.9 293h1.2M260.9 293h1.2M262.9 293h1.2M263.9 293h1.2M267.9 293h1.2M269.9 293h1.2M270.9 293h1.2M271.9 293h1.2M272.9 293h1.2M277.9 293h1.2M278.9 293h1.2M279.9 293h1.2M283.9 293h1.2M284.9 293h1.2M285.9 293h1.2M286.9 293h1.2M287.9 293h1.2M288.9 293h1.2M290.9 293h1.2M291.9 293h1.2M294.9 293h1.2M296.9 293h1.2M297.9 293h1.2M298.9 293h1.2M300.9 293h1.2M301.9 293h1.2M302.9 293h1.2M303.9 293h1.2M304.9 293h1.2M305.9 293h1.2M307.9 293h1.2M308.9 293h1.2M310.9 293h1.2M314.9 293h1.2M318.9 293h1.2M337.9 293h1.2M206.9 294h1.2M222.9 294h1.2M226.9 294h1.2M232.9 294h1.2M242.9 294h1.2M244.9 294h1.2M246.9 294h1.2M247.9 294h1.2M249.9 294h1.2M250.9 294h1.2M251.9 294h1.2M252.9 294h1.2M254.9 294h1.2M255.9 294h1.2M257.9 294h1.2M258.9 294h1.2M259.9 294h1.2M261.9 294h1.2M262.9 294h1.2M264.9 294h1.2M265.9 294h1.2M267.9 294h1.2M268.9 294h1.2M269.9 294h1.2M270.9 294h1.2M271.9 294h1.2M272.9 294h1.2M273.9 294h1.2M277.9 294h1.2M278.9 294h1.2M281.9 294h1.2M282.9 294h1.2M284.9 294h1.2M286.9 294h1.2M287.9 294h1.2M288.9 294h1.2M290.9 294h1.2M294.9 294h1.2M295.9 294h1.2M296.9 294h1.2M297.9 294h1.2M298.9 294h1.2M299.9 294h1.2M300.9 294h1.2M302.9 294h1.2M303.9 294h1.2M304.9 294h1.2M305.9 294h1.2M306.9 294h1.2M308.9 294h1.2M311.9 294h1.2M320.9 294h1.2M356.9 294h1.2M184.9 295h1.2M200.9 295h1.2M224.9 295h1.2M228.9 295h1.2M232.9 295h1.2M235.9 295h1.2M241.9 295h1.2M246.9 295h1.2M247.9 295h1.2M250.9 295h1.2M252.9 295h1.2M253.9 295h1.2M254.9 295h1.2M255.9 295h1.2M256.9 295h1.2M259.9 295h1.2M261.9 295h1.2M264.9 295h1.2M266.9 295h1.2M267.9 295h1.2M268.9 295h1.2M270.9 295h1.2M274.9 295h1.2M275.9 295h1.2M276.9 295h1.2M277.9 295h1.2M278.9 295h1.2M280.9 295h1.2M281.9 295h1.2M285.9 295h1.2M286.9 295h1.2M287.9 295h1.2M289.9 295h1.2M293.9 295h1.2M295.9 295h1.2M298.9 295h1.2M300.9 295h1.2M302.9 295h1.2M303.9 295h1.2M304.9 295h1.2M306.9 295h1.2M307.9 295h1.2M308.9 295h1.2M310.9 295h1.2M311.9 295h1.2M313.9 295h1.2M314.9 295h1.2M318.9 295h1.2M319.9 295h1.2M327.9 295h1.2M204.9 296h1.2M226.9 296h1.2M235.9 296h1.2M237.9 296h1.2M238.9 296h1.2M241.9 296h1.2M247.9 296h1.2M252.9 296h1.2M253.9 296h1.2M254.9 296h1.2M255.9 296h1.2M257.9 296h1.2M258.9 296h1.2M259.9 296h1.2M260.9 296h1.2M261.9 296h1.2M262.9 296h1.2M263.9 296h1.2M265.9 296h1.2M266.9 296h1.2M267.9 296h1.2M270.9 296h1.2M271.9 296h1.2M274.9 296h1.2M276.9 296h1.2M277.9 296h1.2M278.9 296h1.2M279.9 296h1.2M280.9 296h1.2M281.9 296h1.2M282.9 296h1.2M283.9 296h1.2M284.9 296h1.2M285.9 296h1.2M286.9 296h1.2M288.9 296h1.2M289.9 296h1.2M290.9 296h1.2M291.9 296h1.2M292.9 296h1.2M295.9 296h1.2M297.9 296h1.2M299.9 296h1.2M301.9 296h1.2M303.9 296h1.2M306.9 296h1.2M307.9 296h1.2M308.9 296h1.2M312.9 296h1.2M313.9 296h1.2M333.9 296h1.2M202.9 297h1.2M218.9 297h1.2M234.9 297h1.2M236.9 297h1.2M244.9 297h1.2M247.9 297h1.2M248.9 297h1.2M250.9 297h1.2M251.9 297h1.2M252.9 297h1.2M253.9 297h1.2M254.9 297h1.2M255.9 297h1.2M256.9 297h1.2M258.9 297h1.2M259.9 297h1.2M260.9 297h1.2M261.9 297h1.2M262.9 297h1.2M263.9 297h1.2M264.9 297h1.2M267.9 297h1.2M268.9 297h1.2M269.9 297h1.2M270.9 297h1.2M271.9 297h1.2M272.9 297h1.2M274.9 297h1.2M276.9 297h1.2M277.9 297h1.2M280.9 297h1.2M281.9 297h1.2M284.9 297h1.2M285.9 297h1.2M286.9 297h1.2M287.9 297h1.2M288.9 297h1.2M289.9 297h1.2M291.9 297h1.2M292.9 297h1.2M295.9 297h1.2M296.9 297h1.2M297.9 297h1.2M299.9 297h1.2M302.9 297h1.2M303.9 297h1.2M305.9 297h1.2M306.9 297h1.2M307.9 297h1.2M308.9 297h1.2M310.9 297h1.2M316.9 297h1.2M317.9 297h1.2M326.9 297h1.2M332.9 297h1.2M340.9 297h1.2M235.9 298h1.2M241.9 298h1.2M242.9 298h1.2M245.9 298h1.2M247.9 298h1.2M249.9 298h1.2M256.9 298h1.2M257.9 298h1.2M260.9 298h1.2M263.9 298h1.2M264.9 298h1.2M265.9 298h1.2M266.9 298h1.2M267.9 298h1.2M268.9 298h1.2M269.9 298h1.2M271.9 298h1.2M274.9 298h1.2M275.9 298h1.2M276.9 298h1.2M277.9 298h1.2M278.9 298h1.2M279.9 298h1.2M280.9 298h1.2M281.9 298h1.2M283.9 298h1.2M284.9 298h1.2M285.9 298h1.2M286.9 298h1.2M287.9 298h1.2M288.9 298h1.2M289.9 298h1.2M290.9 298h1.2M292.9 298h1.2M294.9 298h1.2M295.9 298h1.2M296.9 298h1.2M299.9 298h1.2M301.9 298h1.2M303.9 298h1.2M304.9 298h1.2M305.9 298h1.2M309.9 298h1.2M312.9 298h1.2M316.9 298h1.2M323.9 298h1.2M336.9 298h1.2M353.9 298h1.2M359.9 298h1.2M219.9 299h1.2M226.9 299h1.2M229.9 299h1.2M234.9 299h1.2M241.9 299h1.2M244.9 299h1.2M246.9 299h1.2M250.9 299h1.2M252.9 299h1.2M253.9 299h1.2M254.9 299h1.2M256.9 299h1.2M258.9 299h1.2M259.9 299h1.2M263.9 299h1.2M265.9 299h1.2M268.9 299h1.2M269.9 299h1.2M270.9 299h1.2M274.9 299h1.2M275.9 299h1.2M276.9 299h1.2M277.9 299h1.2M280.9 299h1.2M281.9 299h1.2M282.9 299h1.2M283.9 299h1.2M284.9 299h1.2M286.9 299h1.2M289.9 299h1.2M290.9 299h1.2M291.9 299h1.2M292.9 299h1.2M293.9 299h1.2M294.9 299h1.2M295.9 299h1.2M296.9 299h1.2M297.9 299h1.2M298.9 299h1.2M301.9 299h1.2M303.9 299h1.2M304.9 299h1.2M305.9 299h1.2M308.9 299h1.2M311.9 299h1.2M313.9 299h1.2M327.9 299h1.2M335.9 299h1.2M216.9 300h1.2M224.9 300h1.2M226.9 300h1.2M231.9 300h1.2M232.9 300h1.2M234.9 300h1.2M237.9 300h1.2M242.9 300h1.2M245.9 300h1.2M248.9 300h1.2M249.9 300h1.2M252.9 300h1.2M254.9 300h1.2M256.9 300h1.2M257.9 300h1.2M258.9 300h1.2M259.9 300h1.2M260.9 300h1.2M265.9 300h1.2M266.9 300h1.2M267.9 300h1.2M269.9 300h1.2M271.9 300h1.2M273.9 300h1.2M274.9 300h1.2M275.9 300h1.2M278.9 300h1.2M280.9 300h1.2M283.9 300h1.2M284.9 300h1.2M285.9 300h1.2M286.9 300h1.2M287.9 300h1.2M289.9 300h1.2M291.9 300h1.2M292.9 300h1.2M294.9 300h1.2M295.9 300h1.2M296.9 300h1.2M297.9 300h1.2M298.9 300h1.2M299.9 300h1.2M302.9 300h1.2M303.9 300h1.2M305.9 300h1.2M307.9 300h1.2M312.9 300h1.2M314.9 300h1.2M317.9 300h1.2M359.9 300h1.2M163.9 301h1.2M206.9 301h1.2M209.9 301h1.2M219.9 301h1.2M223.9 301h1.2M224.9 301h1.2M244.9 301h1.2M247.9 301h1.2M249.9 301h1.2M251.9 301h1.2M252.9 301h1.2M254.9 301h1.2M255.9 301h1.2M258.9 301h1.2M261.9 301h1.2M263.9 301h1.2M265.9 301h1.2M267.9 301h1.2M268.9 301h1.2M269.9 301h1.2M271.9 301h1.2M272.9 301h1.2M273.9 301h1.2M275.9 301h1.2M277.9 301h1.2M281.9 301h1.2M282.9 301h1.2M283.9 301h1.2M286.9 301h1.2M287.9 301h1.2M292.9 301h1.2M293.9 301h1.2M294.9 301h1.2M296.9 301h1.2M300.9 301h1.2M302.9 301h1.2M306.9 301h1.2M307.9 301h1.2M310.9 301h1.2M315.9 301h1.2M318.9 301h1.2M324.9 301h1.2M333.9 301h1.2M337.9 301h1.2M339.9 301h1.2M351.9 301h1.2M193.9 302h1.2M216.9 302h1.2M227.9 302h1.2M229.9 302h1.2M233.9 302h1.2M234.9 302h1.2M235.9 302h1.2M237.9 302h1.2M240.9 302h1.2M243.9 302h1.2M244.9 302h1.2M245.9 302h1.2M248.9 302h1.2M249.9 302h1.2M251.9 302h1.2M252.9 302h1.2M254.9 302h1.2M255.9 302h1.2M256.9 302h1.2M257.9 302h1.2M262.9 302h1.2M263.9 302h1.2M266.9 302h1.2M269.9 302h1.2M271.9 302h1.2M276.9 302h1.2M279.9 302h1.2M281.9 302h1.2M284.9 302h1.2M285.9 302h1.2M286.9 302h1.2M287.9 302h1.2M288.9 302h1.2M291.9 302h1.2M292.9 302h1.2M293.9 302h1.2M294.9 302h1.2M295.9 302h1.2M297.9 302h1.2M298.9 302h1.2M299.9 302h1.2M300.9 302h1.2M301.9 302h1.2M302.9 302h1.2M307.9 302h1.2M310.9 302h1.2M312.9 302h1.2M314.9 302h1.2M324.9 302h1.2M328.9 302h1.2M337.9 302h1.2M338.9 302h1.2M345.9 302h1.2M357.9 302h1.2M219.9 303h1.2M222.9 303h1.2M232.9 303h1.2M235.9 303h1.2M236.9 303h1.2M237.9 303h1.2M239.9 303h1.2M242.9 303h1.2M243.9 303h1.2M246.9 303h1.2M250.9 303h1.2M253.9 303h1.2M255.9 303h1.2M257.9 303h1.2M258.9 303h1.2M260.9 303h1.2M261.9 303h1.2M262.9 303h1.2M264.9 303h1.2M265.9 303h1.2M266.9 303h1.2M267.9 303h1.2M270.9 303h1.2M271.9 303h1.2M272.9 303h1.2M273.9 303h1.2M274.9 303h1.2M275.9 303h1.2M277.9 303h1.2M278.9 303h1.2M279.9 303h1.2M280.9 303h1.2M288.9 303h1.2M290.9 303h1.2M291.9 303h1.2M293.9 303h1.2M295.9 303h1.2M296.9 303h1.2M299.9 303h1.2M300.9 303h1.2M303.9 303h1.2M304.9 303h1.2M306.9 303h1.2M307.9 303h1.2M308.9 303h1.2M309.9 303h1.2M311.9 303h1.2M314.9 303h1.2M316.9 303h1.2M320.9 303h1.2M322.9 303h1.2M328.9 303h1.2M331.9 303h1.2M332.9 303h1.2M352.9 303h1.2M208.9 304h1.2M212.9 304h1.2M230.9 304h1.2M233.9 304h1.2M238.9 304h1.2M240.9 304h1.2M241.9 304h1.2M243.9 304h1.2M245.9 304h1.2M247.9 304h1.2M248.9 304h1.2M249.9 304h1.2M251.9 304h1.2M252.9 304h1.2M253.9 304h1.2M254.9 304h1.2M256.9 304h1.2M257.9 304h1.2M260.9 304h1.2M261.9 304h1.2M263.9 304h1.2M265.9 304h1.2M269.9 304h1.2M270.9 304h1.2M273.9 304h1.2M275.9 304h1.2M279.9 304h1.2M280.9 304h1.2M281.9 304h1.2M282.9 304h1.2M285.9 304h1.2M290.9 304h1.2M291.9 304h1.2M293.9 304h1.2M294.9 304h1.2M295.9 304h1.2M297.9 304h1.2M298.9 304h1.2M302.9 304h1.2M304.9 304h1.2M305.9 304h1.2M306.9 304h1.2M307.9 304h1.2M308.9 304h1.2M309.9 304h1.2M311.9 304h1.2M316.9 304h1.2M322.9 304h1.2M323.9 304h1.2M325.9 304h1.2M326.9 304h1.2M333.9 304h1.2M334.9 304h1.2M339.9 304h1.2M353.9 304h1.2M204.9 305h1.2M208.9 305h1.2M229.9 305h1.2M238.9 305h1.2M239.9 305h1.2M240.9 305h1.2M242.9 305h1.2M243.9 305h1.2M248.9 305h1.2M250.9 305h1.2M251.9 305h1.2M252.9 305h1.2M253.9 305h1.2M256.9 305h1.2M257.9 305h1.2M259.9 305h1.2M260.9 305h1.2M262.9 305h1.2M263.9 305h1.2M264.9 305h1.2M265.9 305h1.2M266.9 305h1.2M267.9 305h1.2M268.9 305h1.2M269.9 305h1.2M270.9 305h1.2M276.9 305h1.2M277.9 305h1.2M279.9 305h1.2M283.9 305h1.2M284.9 305h1.2M285.9 305h1.2M287.9 305h1.2M288.9 305h1.2M293.9 305h1.2M294.9 305h1.2M296.9 305h1.2M298.9 305h1.2M299.9 305h1.2M300.9 305h1.2M301.9 305h1.2M303.9 305h1.2M304.9 305h1.2M305.9 305h1.2M306.9 305h1.2M307.9 305h1.2M309.9 305h1.2M310.9 305h1.2M311.9 305h1.2M314.9 305h1.2M316.9 305h1.2M317.9 305h1.2M322.9 305h1.2M151.9 306h1.2M219.9 306h1.2M222.9 306h1.2M225.9 306h1.2M241.9 306h1.2M244.9 306h1.2M246.9 306h1.2M248.9 306h1.2M252.9 306h1.2M253.9 306h1.2M255.9 306h1.2M256.9 306h1.2M258.9 306h1.2M261.9 306h1.2M262.9 306h1.2M264.9 306h1.2M266.9 306h1.2M268.9 306h1.2M269.9 306h1.2M270.9 306h1.2M272.9 306h1.2M273.9 306h1.2M277.9 306h1.2M279.9 306h1.2M280.9 306h1.2M283.9 306h1.2M284.9 306h1.2M285.9 306h1.2M286.9 306h1.2M287.9 306h1.2M288.9 306h1.2M290.9 306h1.2M292.9 306h1.2M294.9 306h1.2M296.9 306h1.2M297.9 306h1.2M298.9 306h1.2M299.9 306h1.2M300.9 306h1.2M301.9 306h1.2M303.9 306h1.2M305.9 306h1.2M308.9 306h1.2M309.9 306h1.2M310.9 306h1.2M313.9 306h1.2M317.9 306h1.2M331.9 306h1.2M355.9 306h1.2M154.9 307h1.2M181.9 307h1.2M201.9 307h1.2M211.9 307h1.2M214.9 307h1.2M225.9 307h1.2M231.9 307h1.2M232.9 307h1.2M234.9 307h1.2M235.9 307h1.2M238.9 307h1.2M242.9 307h1.2M246.9 307h1.2M248.9 307h1.2M250.9 307h1.2M252.9 307h1.2M253.9 307h1.2M254.9 307h1.2M257.9 307h1.2M258.9 307h1.2M260.9 307h1.2M261.9 307h1.2M262.9 307h1.2M263.9 307h1.2M265.9 307h1.2M268.9 307h1.2M271.9 307h1.2M274.9 307h1.2M276.9 307h1.2M277.9 307h1.2M280.9 307h1.2M281.9 307h1.2M282.9 307h1.2M283.9 307h1.2M284.9 307h1.2M286.9 307h1.2M287.9 307h1.2M289.9 307h1.2M291.9 307h1.2M292.9 307h1.2M293.9 307h1.2M297.9 307h1.2M298.9 307h1.2M300.9 307h1.2M302.9 307h1.2M303.9 307h1.2M305.9 307h1.2M308.9 307h1.2M309.9 307h1.2M310.9 307h1.2M311.9 307h1.2M312.9 307h1.2M336.9 307h1.2M341.9 307h1.2M342.9 307h1.2M202.9 308h1.2M203.9 308h1.2M205.9 308h1.2M209.9 308h1.2M224.9 308h1.2M232.9 308h1.2M235.9 308h1.2M237.9 308h1.2M238.9 308h1.2M239.9 308h1.2M240.9 308h1.2M242.9 308h1.2M246.9 308h1.2M251.9 308h1.2M253.9 308h1.2M254.9 308h1.2M255.9 308h1.2M256.9 308h1.2M257.9 308h1.2M259.9 308h1.2M260.9 308h1.2M262.9 308h1.2M264.9 308h1.2M265.9 308h1.2M266.9 308h1.2M267.9 308h1.2M268.9 308h1.2M269.9 308h1.2M271.9 308h1.2M273.9 308h1.2M276.9 308h1.2M277.9 308h1.2M279.9 308h1.2M280.9 308h1.2M281.9 308h1.2M284.9 308h1.2M286.9 308h1.2M287.9 308h1.2M288.9 308h1.2M290.9 308h1.2M292.9 308h1.2M293.9 308h1.2M295.9 308h1.2M296.9 308h1.2M299.9 308h1.2M300.9 308h1.2M301.9 308h1.2M302.9 308h1.2M303.9 308h1.2M305.9 308h1.2M306.9 308h1.2M308.9 308h1.2M312.9 308h1.2M315.9 308h1.2M316.9 308h1.2M318.9 308h1.2M320.9 308h1.2M322.9 308h1.2M326.9 308h1.2M346.9 308h1.2M351.9 308h1.2M354.9 308h1.2M218.9 309h1.2M219.9 309h1.2M221.9 309h1.2M222.9 309h1.2M225.9 309h1.2M228.9 309h1.2M230.9 309h1.2M232.9 309h1.2M236.9 309h1.2M237.9 309h1.2M246.9 309h1.2M247.9 309h1.2M248.9 309h1.2M250.9 309h1.2M251.9 309h1.2M255.9 309h1.2M257.9 309h1.2M259.9 309h1.2M260.9 309h1.2M263.9 309h1.2M264.9 309h1.2M266.9 309h1.2M268.9 309h1.2M269.9 309h1.2M270.9 309h1.2M271.9 309h1.2M272.9 309h1.2M273.9 309h1.2M278.9 309h1.2M281.9 309h1.2M282.9 309h1.2M283.9 309h1.2M284.9 309h1.2M285.9 309h1.2M287.9 309h1.2M290.9 309h1.2M292.9 309h1.2M293.9 309h1.2M294.9 309h1.2M295.9 309h1.2M296.9 309h1.2M298.9 309h1.2M299.9 309h1.2M300.9 309h1.2M301.9 309h1.2M302.9 309h1.2M303.9 309h1.2M307.9 309h1.2M309.9 309h1.2M311.9 309h1.2M319.9 309h1.2M327.9 309h1.2M328.9 309h1.2M341.9 309h1.2M175.9 310h1.2M176.9 310h1.2M188.9 310h1.2M205.9 310h1.2M226.9 310h1.2M229.9 310h1.2M230.9 310h1.2M232.9 310h1.2M236.9 310h1.2M238.9 310h1.2M239.9 310h1.2M240.9 310h1.2M242.9 310h1.2M244.9 310h1.2M245.9 310h1.2M247.9 310h1.2M249.9 310h1.2M250.9 310h1.2M251.9 310h1.2M252.9 310h1.2M253.9 310h1.2M254.9 310h1.2M255.9 310h1.2M257.9 310h1.2M259.9 310h1.2M260.9 310h1.2M261.9 310h1.2M262.9 310h1.2M264.9 310h1.2M267.9 310h1.2M268.9 310h1.2M269.9 310h1.2M270.9 310h1.2M271.9 310h1.2M275.9 310h1.2M276.9 310h1.2M277.9 310h1.2M279.9 310h1.2M280.9 310h1.2M282.9 310h1.2M284.9 310h1.2M285.9 310h1.2M287.9 310h1.2M288.9 310h1.2M291.9 310h1.2M292.9 310h1.2M293.9 310h1.2M294.9 310h1.2M296.9 310h1.2M299.9 310h1.2M300.9 310h1.2M302.9 310h1.2M303.9 310h1.2M306.9 310h1.2M308.9 310h1.2M309.9 310h1.2M311.9 310h1.2M313.9 310h1.2M315.9 310h1.2M317.9 310h1.2M318.9 310h1.2M338.9 310h1.2M173.9 311h1.2M178.9 311h1.2M217.9 311h1.2M219.9 311h1.2M230.9 311h1.2M234.9 311h1.2M242.9 311h1.2M243.9 311h1.2M244.9 311h1.2M245.9 311h1.2M246.9 311h1.2M247.9 311h1.2M248.9 311h1.2M251.9 311h1.2M252.9 311h1.2M253.9 311h1.2M254.9 311h1.2M255.9 311h1.2M256.9 311h1.2M257.9 311h1.2M258.9 311h1.2M259.9 311h1.2M260.9 311h1.2M261.9 311h1.2M262.9 311h1.2M263.9 311h1.2M265.9 311h1.2M266.9 311h1.2M268.9 311h1.2M269.9 311h1.2M270.9 311h1.2M274.9 311h1.2M275.9 311h1.2M276.9 311h1.2M278.9 311h1.2M281.9 311h1.2M285.9 311h1.2M286.9 311h1.2M287.9 311h1.2M288.9 311h1.2M289.9 311h1.2M291.9 311h1.2M295.9 311h1.2M296.9 311h1.2M297.9 311h1.2M298.9 311h1.2M299.9 311h1.2M300.9 311h1.2M301.9 311h1.2M302.9 311h1.2M303.9 311h1.2M305.9 311h1.2M306.9 311h1.2M307.9 311h1.2M308.9 311h1.2M309.9 311h1.2M312.9 311h1.2M315.9 311h1.2M326.9 311h1.2M327.9 311h1.2M332.9 311h1.2M336.9 311h1.2M338.9 311h1.2M349.9 311h1.2M357.9 311h1.2M207.9 312h1.2M218.9 312h1.2M223.9 312h1.2M229.9 312h1.2M231.9 312h1.2M234.9 312h1.2M238.9 312h1.2M240.9 312h1.2M241.9 312h1.2M242.9 312h1.2M244.9 312h1.2M245.9 312h1.2M246.9 312h1.2M249.9 312h1.2M251.9 312h1.2M254.9 312h1.2M256.9 312h1.2M257.9 312h1.2M258.9 312h1.2M260.9 312h1.2M261.9 312h1.2M264.9 312h1.2M265.9 312h1.2M266.9 312h1.2M267.9 312h1.2M269.9 312h1.2M270.9 312h1.2M271.9 312h1.2M272.9 312h1.2M274.9 312h1.2M279.9 312h1.2M281.9 312h1.2M282.9 312h1.2M283.9 312h1.2M284.9 312h1.2M286.9 312h1.2M288.9 312h1.2M291.9 312h1.2M292.9 312h1.2M293.9 312h1.2M294.9 312h1.2M296.9 312h1.2M297.9 312h1.2M298.9 312h1.2M300.9 312h1.2M301.9 312h1.2M304.9 312h1.2M305.9 312h1.2M306.9 312h1.2M308.9 312h1.2M309.9 312h1.2M310.9 312h1.2M311.9 312h1.2M314.9 312h1.2M319.9 312h1.2M320.9 312h1.2M321.9 312h1.2M331.9 312h1.2M333.9 312h1.2M348.9 312h1.2M191.9 313h1.2M201.9 313h1.2M212.9 313h1.2M213.9 313h1.2M226.9 313h1.2M229.9 313h1.2M230.9 313h1.2M233.9 313h1.2M235.9 313h1.2M236.9 313h1.2M240.9 313h1.2M241.9 313h1.2M242.9 313h1.2M243.9 313h1.2M245.9 313h1.2M246.9 313h1.2M247.9 313h1.2M248.9 313h1.2M249.9 313h1.2M251.9 313h1.2M253.9 313h1.2M254.9 313h1.2M256.9 313h1.2M257.9 313h1.2M258.9 313h1.2M259.9 313h1.2M260.9 313h1.2M261.9 313h1.2M262.9 313h1.2M263.9 313h1.2M264.9 313h1.2M266.9 313h1.2M267.9 313h1.2M268.9 313h1.2M269.9 313h1.2M270.9 313h1.2M271.9 313h1.2M272.9 313h1.2M273.9 313h1.2M275.9 313h1.2M276.9 313h1.2M277.9 313h1.2M279.9 313h1.2M280.9 313h1.2M281.9 313h1.2M284.9 313h1.2M285.9 313h1.2M288.9 313h1.2M289.9 313h1.2M290.9 313h1.2M291.9 313h1.2M292.9 313h1.2M295.9 313h1.2M296.9 313h1.2M297.9 313h1.2M298.9 313h1.2M299.9 313h1.2M300.9 313h1.2M302.9 313h1.2M304.9 313h1.2M305.9 313h1.2M306.9 313h1.2M307.9 313h1.2M308.9 313h1.2M309.9 313h1.2M310.9 313h1.2M312.9 313h1.2M313.9 313h1.2M314.9 313h1.2M315.9 313h1.2M316.9 313h1.2M321.9 313h1.2M323.9 313h1.2M334.9 313h1.2M200.9 314h1.2M208.9 314h1.2M212.9 314h1.2M230.9 314h1.2M232.9 314h1.2M236.9 314h1.2M238.9 314h1.2M241.9 314h1.2M242.9 314h1.2M243.9 314h1.2M246.9 314h1.2M247.9 314h1.2M248.9 314h1.2M249.9 314h1.2M250.9 314h1.2M251.9 314h1.2M252.9 314h1.2M253.9 314h1.2M254.9 314h1.2M255.9 314h1.2M256.9 314h1.2M257.9 314h1.2M258.9 314h1.2M260.9 314h1.2M262.9 314h1.2M268.9 314h1.2M269.9 314h1.2M271.9 314h1.2M272.9 314h1.2M273.9 314h1.2M277.9 314h1.2M278.9 314h1.2M281.9 314h1.2M282.9 314h1.2M284.9 314h1.2M285.9 314h1.2M286.9 314h1.2M287.9 314h1.2M288.9 314h1.2M289.9 314h1.2M291.9 314h1.2M292.9 314h1.2M293.9 314h1.2M294.9 314h1.2M296.9 314h1.2M298.9 314h1.2M301.9 314h1.2M302.9 314h1.2M304.9 314h1.2M305.9 314h1.2M307.9 314h1.2M309.9 314h1.2M310.9 314h1.2M311.9 314h1.2M319.9 314h1.2M328.9 314h1.2M340.9 314h1.2M346.9 314h1.2M348.9 314h1.2M349.9 314h1.2M200.9 315h1.2M210.9 315h1.2M211.9 315h1.2M233.9 315h1.2M242.9 315h1.2M246.9 315h1.2M248.9 315h1.2M250.9 315h1.2M251.9 315h1.2M254.9 315h1.2M255.9 315h1.2M256.9 315h1.2M257.9 315h1.2M258.9 315h1.2M260.9 315h1.2M261.9 315h1.2M262.9 315h1.2M264.9 315h1.2M265.9 315h1.2M266.9 315h1.2M267.9 315h1.2M268.9 315h1.2M269.9 315h1.2M270.9 315h1.2M272.9 315h1.2M276.9 315h1.2M278.9 315h1.2M279.9 315h1.2M281.9 315h1.2M282.9 315h1.2M283.9 315h1.2M284.9 315h1.2M288.9 315h1.2M289.9 315h1.2M290.9 315h1.2M291.9 315h1.2M293.9 315h1.2M297.9 315h1.2M299.9 315h1.2M300.9 315h1.2M302.9 315h1.2M304.9 315h1.2M306.9 315h1.2M309.9 315h1.2M313.9 315h1.2M318.9 315h1.2M320.9 315h1.2M322.9 315h1.2M327.9 315h1.2M333.9 315h1.2M335.9 315h1.2M340.9 315h1.2M344.9 315h1.2M189.9 316h1.2M192.9 316h1.2M202.9 316h1.2M205.9 316h1.2M214.9 316h1.2M217.9 316h1.2M219.9 316h1.2M222.9 316h1.2M226.9 316h1.2M228.9 316h1.2M233.9 316h1.2M234.9 316h1.2M238.9 316h1.2M239.9 316h1.2M240.9 316h1.2M241.9 316h1.2M244.9 316h1.2M245.9 316h1.2M246.9 316h1.2M248.9 316h1.2M249.9 316h1.2M252.9 316h1.2M254.9 316h1.2M256.9 316h1.2M258.9 316h1.2M260.9 316h1.2M261.9 316h1.2M263.9 316h1.2M264.9 316h1.2M266.9 316h1.2M267.9 316h1.2M269.9 316h1.2M270.9 316h1.2M271.9 316h1.2M272.9 316h1.2M273.9 316h1.2M274.9 316h1.2M275.9 316h1.2M276.9 316h1.2M277.9 316h1.2M281.9 316h1.2M283.9 316h1.2M286.9 316h1.2M290.9 316h1.2M293.9 316h1.2M294.9 316h1.2M295.9 316h1.2M297.9 316h1.2M298.9 316h1.2M299.9 316h1.2M300.9 316h1.2M301.9 316h1.2M303.9 316h1.2M304.9 316h1.2M305.9 316h1.2M306.9 316h1.2M308.9 316h1.2M309.9 316h1.2M310.9 316h1.2M313.9 316h1.2M316.9 316h1.2M318.9 316h1.2M319.9 316h1.2M321.9 316h1.2M322.9 316h1.2M325.9 316h1.2M331.9 316h1.2M186.9 317h1.2M203.9 317h1.2M220.9 317h1.2M226.9 317h1.2M231.9 317h1.2M232.9 317h1.2M238.9 317h1.2M249.9 317h1.2M250.9 317h1.2M251.9 317h1.2M252.9 317h1.2M253.9 317h1.2M254.9 317h1.2M255.9 317h1.2M256.9 317h1.2M257.9 317h1.2M258.9 317h1.2M259.9 317h1.2M261.9 317h1.2M262.9 317h1.2M264.9 317h1.2M265.9 317h1.2M266.9 317h1.2M270.9 317h1.2M271.9 317h1.2M272.9 317h1.2M273.9 317h1.2M274.9 317h1.2M275.9 317h1.2M277.9 317h1.2M278.9 317h1.2M280.9 317h1.2M281.9 317h1.2M282.9 317h1.2M283.9 317h1.2M285.9 317h1.2M286.9 317h1.2M290.9 317h1.2M291.9 317h1.2M292.9 317h1.2M293.9 317h1.2M295.9 317h1.2M299.9 317h1.2M301.9 317h1.2M305.9 317h1.2M306.9 317h1.2M307.9 317h1.2M310.9 317h1.2M317.9 317h1.2M322.9 317h1.2M324.9 317h1.2M326.9 317h1.2M328.9 317h1.2M203.9 318h1.2M216.9 318h1.2M232.9 318h1.2M236.9 318h1.2M237.9 318h1.2M241.9 318h1.2M244.9 318h1.2M245.9 318h1.2M248.9 318h1.2M251.9 318h1.2M252.9 318h1.2M253.9 318h1.2M256.9 318h1.2M258.9 318h1.2M259.9 318h1.2M260.9 318h1.2M263.9 318h1.2M267.9 318h1.2M268.9 318h1.2M269.9 318h1.2M271.9 318h1.2M272.9 318h1.2M273.9 318h1.2M276.9 318h1.2M277.9 318h1.2M279.9 318h1.2M280.9 318h1.2M281.9 318h1.2M282.9 318h1.2M284.9 318h1.2M285.9 318h1.2M286.9 318h1.2M289.9 318h1.2M290.9 318h1.2M291.9 318h1.2M292.9 318h1.2M293.9 318h1.2M295.9 318h1.2M296.9 318h1.2M298.9 318h1.2M301.9 318h1.2M302.9 318h1.2M304.9 318h1.2M306.9 318h1.2M312.9 318h1.2M313.9 318h1.2M314.9 318h1.2M315.9 318h1.2M317.9 318h1.2M318.9 318h1.2M322.9 318h1.2M331.9 318h1.2M332.9 318h1.2M337.9 318h1.2M184.9 319h1.2M222.9 319h1.2M233.9 319h1.2M236.9 319h1.2M241.9 319h1.2M243.9 319h1.2M244.9 319h1.2M246.9 319h1.2M247.9 319h1.2M249.9 319h1.2M254.9 319h1.2M256.9 319h1.2M257.9 319h1.2M258.9 319h1.2M259.9 319h1.2M260.9 319h1.2M262.9 319h1.2M267.9 319h1.2M268.9 319h1.2M269.9 319h1.2M271.9 319h1.2M272.9 319h1.2M273.9 319h1.2M274.9 319h1.2M275.9 319h1.2M277.9 319h1.2M278.9 319h1.2M279.9 319h1.2M280.9 319h1.2M281.9 319h1.2M284.9 319h1.2M285.9 319h1.2M288.9 319h1.2M291.9 319h1.2M292.9 319h1.2M295.9 319h1.2M296.9 319h1.2M297.9 319h1.2M298.9 319h1.2M299.9 319h1.2M301.9 319h1.2M302.9 319h1.2M303.9 319h1.2M304.9 319h1.2M305.9 319h1.2M306.9 319h1.2M307.9 319h1.2M308.9 319h1.2M312.9 319h1.2M314.9 319h1.2M316.9 319h1.2M317.9 319h1.2M319.9 319h1.2M326.9 319h1.2M334.9 319h1.2M345.9 319h1.2M210.9 320h1.2M224.9 320h1.2M225.9 320h1.2M229.9 320h1.2M231.9 320h1.2M236.9 320h1.2M237.9 320h1.2M239.9 320h1.2M240.9 320h1.2M241.9 320h1.2M244.9 320h1.2M245.9 320h1.2M246.9 320h1.2M247.9 320h1.2M251.9 320h1.2M252.9 320h1.2M253.9 320h1.2M254.9 320h1.2M256.9 320h1.2M257.9 320h1.2M258.9 320h1.2M260.9 320h1.2M261.9 320h1.2M263.9 320h1.2M264.9 320h1.2M265.9 320h1.2M270.9 320h1.2M271.9 320h1.2M273.9 320h1.2M274.9 320h1.2M275.9 320h1.2M277.9 320h1.2M278.9 320h1.2M279.9 320h1.2M281.9 320h1.2M283.9 320h1.2M285.9 320h1.2M288.9 320h1.2M290.9 320h1.2M291.9 320h1.2M292.9 320h1.2M293.9 320h1.2M295.9 320h1.2M296.9 320h1.2M297.9 320h1.2M299.9 320h1.2M302.9 320h1.2M305.9 320h1.2M306.9 320h1.2M308.9 320h1.2M309.9 320h1.2M312.9 320h1.2M316.9 320h1.2M320.9 320h1.2M332.9 320h1.2M355.9 320h1.2M190.9 321h1.2M201.9 321h1.2M204.9 321h1.2M218.9 321h1.2M221.9 321h1.2M225.9 321h1.2M226.9 321h1.2M229.9 321h1.2M230.9 321h1.2M232.9 321h1.2M233.9 321h1.2M234.9 321h1.2M235.9 321h1.2M237.9 321h1.2M239.9 321h1.2M240.9 321h1.2M242.9 321h1.2M248.9 321h1.2M249.9 321h1.2M254.9 321h1.2M255.9 321h1.2M256.9 321h1.2M258.9 321h1.2M259.9 321h1.2M260.9 321h1.2M261.9 321h1.2M262.9 321h1.2M265.9 321h1.2M266.9 321h1.2M268.9 321h1.2M270.9 321h1.2M271.9 321h1.2M272.9 321h1.2M273.9 321h1.2M274.9 321h1.2M276.9 321h1.2M277.9 321h1.2M278.9 321h1.2M279.9 321h1.2M280.9 321h1.2M281.9 321h1.2M282.9 321h1.2M286.9 321h1.2M287.9 321h1.2M288.9 321h1.2M290.9 321h1.2M291.9 321h1.2M292.9 321h1.2M293.9 321h1.2M294.9 321h1.2M295.9 321h1.2M296.9 321h1.2M297.9 321h1.2M298.9 321h1.2M299.9 321h1.2M300.9 321h1.2M301.9 321h1.2M302.9 321h1.2M303.9 321h1.2M305.9 321h1.2M308.9 321h1.2M309.9 321h1.2M310.9 321h1.2M311.9 321h1.2M312.9 321h1.2M313.9 321h1.2M314.9 321h1.2M315.9 321h1.2M316.9 321h1.2M318.9 321h1.2M319.9 321h1.2M322.9 321h1.2M325.9 321h1.2M347.9 321h1.2M205.9 322h1.2M215.9 322h1.2M217.9 322h1.2M227.9 322h1.2M228.9 322h1.2M236.9 322h1.2M237.9 322h1.2M244.9 322h1.2M247.9 322h1.2M249.9 322h1.2M250.9 322h1.2M251.9 322h1.2M254.9 322h1.2M255.9 322h1.2M257.9 322h1.2M259.9 322h1.2M261.9 322h1.2M262.9 322h1.2M267.9 322h1.2M269.9 322h1.2M270.9 322h1.2M271.9 322h1.2M272.9 322h1.2M273.9 322h1.2M274.9 322h1.2M276.9 322h1.2M279.9 322h1.2M282.9 322h1.2M283.9 322h1.2M287.9 322h1.2M291.9 322h1.2M292.9 322h1.2M295.9 322h1.2M296.9 322h1.2M297.9 322h1.2M300.9 322h1.2M301.9 322h1.2M302.9 322h1.2M303.9 322h1.2M306.9 322h1.2M308.9 322h1.2M310.9 322h1.2M315.9 322h1.2M317.9 322h1.2M320.9 322h1.2M321.9 322h1.2M323.9 322h1.2M346.9 322h1.2M177.9 323h1.2M186.9 323h1.2M189.9 323h1.2M205.9 323h1.2M210.9 323h1.2M223.9 323h1.2M225.9 323h1.2M227.9 323h1.2M228.9 323h1.2M229.9 323h1.2M230.9 323h1.2M232.9 323h1.2M235.9 323h1.2M236.9 323h1.2M237.9 323h1.2M239.9 323h1.2M245.9 323h1.2M246.9 323h1.2M247.9 323h1.2M249.9 323h1.2M251.9 323h1.2M252.9 323h1.2M253.9 323h1.2M254.9 323h1.2M255.9 323h1.2M257.9 323h1.2M259.9 323h1.2M260.9 323h1.2M261.9 323h1.2M262.9 323h1.2M263.9 323h1.2M266.9 323h1.2M267.9 323h1.2M269.9 323h1.2M271.9 323h1.2M273.9 323h1.2M274.9 323h1.2M275.9 323h1.2M278.9 323h1.2M283.9 323h1.2M286.9 323h1.2M287.9 323h1.2M288.9 323h1.2M289.9 323h1.2M290.9 323h1.2M295.9 323h1.2M296.9 323h1.2M297.9 323h1.2M298.9 323h1.2M299.9 323h1.2M301.9 323h1.2M303.9 323h1.2M305.9 323h1.2M306.9 323h1.2M308.9 323h1.2M309.9 323h1.2M318.9 323h1.2M319.9 323h1.2M325.9 323h1.2M326.9 323h1.2M333.9 323h1.2M350.9 323h1.2M180.9 324h1.2M181.9 324h1.2M198.9 324h1.2M203.9 324h1.2M207.9 324h1.2M209.9 324h1.2M210.9 324h1.2M220.9 324h1.2M223.9 324h1.2M224.9 324h1.2M226.9 324h1.2M227.9 324h1.2M228.9 324h1.2M231.9 324h1.2M232.9 324h1.2M234.9 324h1.2M235.9 324h1.2M237.9 324h1.2M239.9 324h1.2M240.9 324h1.2M241.9 324h1.2M244.9 324h1.2M245.9 324h1.2M247.9 324h1.2M248.9 324h1.2M249.9 324h1.2M250.9 324h1.2M251.9 324h1.2M253.9 324h1.2M254.9 324h1.2M255.9 324h1.2M256.9 324h1.2M258.9 324h1.2M259.9 324h1.2M262.9 324h1.2M263.9 324h1.2M264.9 324h1.2M266.9 324h1.2M267.9 324h1.2M269.9 324h1.2M270.9 324h1.2M272.9 324h1.2M273.9 324h1.2M274.9 324h1.2M276.9 324h1.2M278.9 324h1.2M280.9 324h1.2M281.9 324h1.2M283.9 324h1.2M284.9 324h1.2M289.9 324h1.2M291.9 324h1.2M292.9 324h1.2M293.9 324h1.2M294.9 324h1.2M295.9 324h1.2M297.9 324h1.2M298.9 324h1.2M299.9 324h1.2M300.9 324h1.2M301.9 324h1.2M303.9 324h1.2M304.9 324h1.2M306.9 324h1.2M308.9 324h1.2M309.9 324h1.2M311.9 324h1.2M313.9 324h1.2M314.9 324h1.2M317.9 324h1.2M324.9 324h1.2M184.9 325h1.2M196.9 325h1.2M205.9 325h1.2M207.9 325h1.2M215.9 325h1.2M221.9 325h1.2M227.9 325h1.2M228.9 325h1.2M230.9 325h1.2M233.9 325h1.2M235.9 325h1.2M236.9 325h1.2M249.9 325h1.2M250.9 325h1.2M254.9 325h1.2M255.9 325h1.2M258.9 325h1.2M259.9 325h1.2M260.9 325h1.2M261.9 325h1.2M262.9 325h1.2M265.9 325h1.2M267.9 325h1.2M268.9 325h1.2M269.9 325h1.2M271.9 325h1.2M274.9 325h1.2M277.9 325h1.2M278.9 325h1.2M281.9 325h1.2M284.9 325h1.2M287.9 325h1.2M288.9 325h1.2M289.9 325h1.2M290.9 325h1.2M291.9 325h1.2M293.9 325h1.2M294.9 325h1.2M295.9 325h1.2M296.9 325h1.2M297.9 325h1.2M298.9 325h1.2M299.9 325h1.2M300.9 325h1.2M302.9 325h1.2M304.9 325h1.2M308.9 325h1.2M310.9 325h1.2M311.9 325h1.2M312.9 325h1.2M313.9 325h1.2M315.9 325h1.2M322.9 325h1.2M342.9 325h1.2M205.9 326h1.2M206.9 326h1.2M209.9 326h1.2M211.9 326h1.2M215.9 326h1.2M219.9 326h1.2M221.9 326h1.2M224.9 326h1.2M225.9 326h1.2M226.9 326h1.2M228.9 326h1.2M230.9 326h1.2M231.9 326h1.2M235.9 326h1.2M237.9 326h1.2M239.9 326h1.2M240.9 326h1.2M242.9 326h1.2M249.9 326h1.2M250.9 326h1.2M251.9 326h1.2M252.9 326h1.2M253.9 326h1.2M255.9 326h1.2M256.9 326h1.2M258.9 326h1.2M260.9 326h1.2M261.9 326h1.2M262.9 326h1.2M263.9 326h1.2M264.9 326h1.2M265.9 326h1.2M267.9 326h1.2M268.9 326h1.2M269.9 326h1.2M270.9 326h1.2M271.9 326h1.2M274.9 326h1.2M276.9 326h1.2M277.9 326h1.2M278.9 326h1.2M279.9 326h1.2M280.9 326h1.2M283.9 326h1.2M284.9 326h1.2M285.9 326h1.2M288.9 326h1.2M290.9 326h1.2M291.9 326h1.2M293.9 326h1.2M296.9 326h1.2M297.9 326h1.2M298.9 326h1.2M300.9 326h1.2M301.9 326h1.2M302.9 326h1.2M303.9 326h1.2M305.9 326h1.2M308.9 326h1.2M312.9 326h1.2M313.9 326h1.2M314.9 326h1.2M315.9 326h1.2M316.9 326h1.2M318.9 326h1.2M319.9 326h1.2M320.9 326h1.2M322.9 326h1.2M327.9 326h1.2M329.9 326h1.2M344.9 326h1.2M159.9 327h1.2M182.9 327h1.2M187.9 327h1.2M196.9 327h1.2M200.9 327h1.2M202.9 327h1.2M210.9 327h1.2M217.9 327h1.2M218.9 327h1.2M223.9 327h1.2M224.9 327h1.2M228.9 327h1.2M230.9 327h1.2M231.9 327h1.2M237.9 327h1.2M238.9 327h1.2M239.9 327h1.2M240.9 327h1.2M243.9 327h1.2M244.9 327h1.2M246.9 327h1.2M248.9 327h1.2M249.9 327h1.2M250.9 327h1.2M251.9 327h1.2M252.9 327h1.2M253.9 327h1.2M254.9 327h1.2M255.9 327h1.2M259.9 327h1.2M260.9 327h1.2M261.9 327h1.2M263.9 327h1.2M264.9 327h1.2M265.9 327h1.2M266.9 327h1.2M270.9 327h1.2M272.9 327h1.2M273.9 327h1.2M274.9 327h1.2M275.9 327h1.2M276.9 327h1.2M277.9 327h1.2M278.9 327h1.2M279.9 327h1.2M281.9 327h1.2M282.9 327h1.2M286.9 327h1.2M288.9 327h1.2M289.9 327h1.2M290.9 327h1.2M291.9 327h1.2M292.9 327h1.2M293.9 327h1.2M295.9 327h1.2M296.9 327h1.2M298.9 327h1.2M299.9 327h1.2M303.9 327h1.2M306.9 327h1.2M308.9 327h1.2M309.9 327h1.2M316.9 327h1.2M321.9 327h1.2M330.9 327h1.2M341.9 327h1.2M151.9 328h1.2M197.9 328h1.2M216.9 328h1.2M218.9 328h1.2M220.9 328h1.2M222.9 328h1.2M224.9 328h1.2M225.9 328h1.2M228.9 328h1.2M230.9 328h1.2M231.9 328h1.2M233.9 328h1.2M235.9 328h1.2M238.9 328h1.2M239.9 328h1.2M242.9 328h1.2M243.9 328h1.2M244.9 328h1.2M247.9 328h1.2M249.9 328h1.2M251.9 328h1.2M253.9 328h1.2M256.9 328h1.2M258.9 328h1.2M259.9 328h1.2M263.9 328h1.2M265.9 328h1.2M266.9 328h1.2M267.9 328h1.2M269.9 328h1.2M270.9 328h1.2M271.9 328h1.2M274.9 328h1.2M275.9 328h1.2M276.9 328h1.2M280.9 328h1.2M281.9 328h1.2M282.9 328h1.2M283.9 328h1.2M284.9 328h1.2M286.9 328h1.2M287.9 328h1.2M288.9 328h1.2M289.9 328h1.2M290.9 328h1.2M291.9 328h1.2M292.9 328h1.2M295.9 328h1.2M296.9 328h1.2M297.9 328h1.2M299.9 328h1.2M300.9 328h1.2M301.9 328h1.2M302.9 328h1.2M303.9 328h1.2M304.9 328h1.2M305.9 328h1.2M312.9 328h1.2M314.9 328h1.2M315.9 328h1.2M333.9 328h1.2M335.9 328h1.2M337.9 328h1.2M349.9 328h1.2M355.9 328h1.2M188.9 329h1.2M195.9 329h1.2M202.9 329h1.2M205.9 329h1.2M206.9 329h1.2M209.9 329h1.2M211.9 329h1.2M213.9 329h1.2M215.9 329h1.2M217.9 329h1.2M218.9 329h1.2M219.9 329h1.2M220.9 329h1.2M224.9 329h1.2M225.9 329h1.2M226.9 329h1.2M235.9 329h1.2M236.9 329h1.2M239.9 329h1.2M241.9 329h1.2M242.9 329h1.2M244.9 329h1.2M245.9 329h1.2M247.9 329h1.2M249.9 329h1.2M251.9 329h1.2M252.9 329h1.2M255.9 329h1.2M256.9 329h1.2M257.9 329h1.2M258.9 329h1.2M259.9 329h1.2M260.9 329h1.2M262.9 329h1.2M263.9 329h1.2M265.9 329h1.2M266.9 329h1.2M268.9 329h1.2M269.9 329h1.2M271.9 329h1.2M272.9 329h1.2M273.9 329h1.2M274.9 329h1.2M276.9 329h1.2M277.9 329h1.2M278.9 329h1.2M280.9 329h1.2M281.9 329h1.2M282.9 329h1.2M287.9 329h1.2M288.9 329h1.2M290.9 329h1.2M292.9 329h1.2M293.9 329h1.2M294.9 329h1.2M295.9 329h1.2M296.9 329h1.2M298.9 329h1.2M299.9 329h1.2M300.9 329h1.2M302.9 329h1.2M303.9 329h1.2M308.9 329h1.2M309.9 329h1.2M314.9 329h1.2M319.9 329h1.2M321.9 329h1.2M330.9 329h1.2M331.9 329h1.2M350.9 329h1.2M179.9 330h1.2M195.9 330h1.2M205.9 330h1.2M212.9 330h1.2M214.9 330h1.2M217.9 330h1.2M218.9 330h1.2M220.9 330h1.2M222.9 330h1.2M223.9 330h1.2M224.9 330h1.2M225.9 330h1.2M227.9 330h1.2M228.9 330h1.2M229.9 330h1.2M232.9 330h1.2M235.9 330h1.2M236.9 330h1.2M237.9 330h1.2M239.9 330h1.2M240.9 330h1.2M242.9 330h1.2M244.9 330h1.2M245.9 330h1.2M246.9 330h1.2M249.9 330h1.2M250.9 330h1.2M252.9 330h1.2M255.9 330h1.2M256.9 330h1.2M257.9 330h1.2M260.9 330h1.2M261.9 330h1.2M262.9 330h1.2M266.9 330h1.2M267.9 330h1.2M270.9 330h1.2M272.9 330h1.2M273.9 330h1.2M274.9 330h1.2M278.9 330h1.2M280.9 330h1.2M281.9 330h1.2M283.9 330h1.2M290.9 330h1.2M291.9 330h1.2M292.9 330h1.2M294.9 330h1.2M298.9 330h1.2M300.9 330h1.2M301.9 330h1.2M306.9 330h1.2M307.9 330h1.2M309.9 330h1.2M311.9 330h1.2M312.9 330h1.2M316.9 330h1.2M318.9 330h1.2M324.9 330h1.2M352.9 330h1.2M190.9 331h1.2M193.9 331h1.2M203.9 331h1.2M207.9 331h1.2M211.9 331h1.2M213.9 331h1.2M222.9 331h1.2M223.9 331h1.2M225.9 331h1.2M227.9 331h1.2M229.9 331h1.2M232.9 331h1.2M233.9 331h1.2M234.9 331h1.2M235.9 331h1.2M236.9 331h1.2M240.9 331h1.2M241.9 331h1.2M243.9 331h1.2M245.9 331h1.2M248.9 331h1.2M249.9 331h1.2M251.9 331h1.2M252.9 331h1.2M253.9 331h1.2M255.9 331h1.2M258.9 331h1.2M259.9 331h1.2M260.9 331h1.2M263.9 331h1.2M265.9 331h1.2M267.9 331h1.2M268.9 331h1.2M270.9 331h1.2M271.9 331h1.2M272.9 331h1.2M274.9 331h1.2M277.9 331h1.2M278.9 331h1.2M280.9 331h1.2M281.9 331h1.2M284.9 331h1.2M286.9 331h1.2M287.9 331h1.2M289.9 331h1.2M290.9 331h1.2M291.9 331h1.2M292.9 331h1.2M294.9 331h1.2M295.9 331h1.2M296.9 331h1.2M299.9 331h1.2M301.9 331h1.2M302.9 331h1.2M304.9 331h1.2M308.9 331h1.2M309.9 331h1.2M310.9 331h1.2M322.9 331h1.2M327.9 331h1.2M330.9 331h1.2M332.9 331h1.2M341.9 331h1.2M200.9 332h1.2M205.9 332h1.2M207.9 332h1.2M209.9 332h1.2M214.9 332h1.2M216.9 332h1.2M217.9 332h1.2M220.9 332h1.2M221.9 332h1.2M222.9 332h1.2M224.9 332h1.2M225.9 332h1.2M228.9 332h1.2M230.9 332h1.2M232.9 332h1.2M234.9 332h1.2M235.9 332h1.2M236.9 332h1.2M237.9 332h1.2M238.9 332h1.2M239.9 332h1.2M240.9 332h1.2M242.9 332h1.2M243.9 332h1.2M244.9 332h1.2M245.9 332h1.2M246.9 332h1.2M248.9 332h1.2M249.9 332h1.2M250.9 332h1.2M251.9 332h1.2M253.9 332h1.2M254.9 332h1.2M255.9 332h1.2M257.9 332h1.2M258.9 332h1.2M259.9 332h1.2M261.9 332h1.2M262.9 332h1.2M263.9 332h1.2M264.9 332h1.2M265.9 332h1.2M267.9 332h1.2M268.9 332h1.2M269.9 332h1.2M270.9 332h1.2M271.9 332h1.2M272.9 332h1.2M275.9 332h1.2M277.9 332h1.2M278.9 332h1.2M279.9 332h1.2M280.9 332h1.2M281.9 332h1.2M283.9 332h1.2M284.9 332h1.2M285.9 332h1.2M286.9 332h1.2M289.9 332h1.2M290.9 332h1.2M292.9 332h1.2M293.9 332h1.2M297.9 332h1.2M299.9 332h1.2M300.9 332h1.2M302.9 332h1.2M303.9 332h1.2M305.9 332h1.2M307.9 332h1.2M308.9 332h1.2M309.9 332h1.2M310.9 332h1.2M316.9 332h1.2M321.9 332h1.2M337.9 332h1.2M175.9 333h1.2M177.9 333h1.2M192.9 333h1.2M211.9 333h1.2M213.9 333h1.2M214.9 333h1.2M216.9 333h1.2M217.9 333h1.2M223.9 333h1.2M224.9 333h1.2M227.9 333h1.2M228.9 333h1.2M230.9 333h1.2M231.9 333h1.2M232.9 333h1.2M235.9 333h1.2M237.9 333h1.2M238.9 333h1.2M239.9 333h1.2M240.9 333h1.2M241.9 333h1.2M242.9 333h1.2M243.9 333h1.2M248.9 333h1.2M250.9 333h1.2M252.9 333h1.2M253.9 333h1.2M254.9 333h1.2M258.9 333h1.2M259.9 333h1.2M260.9 333h1.2M261.9 333h1.2M262.9 333h1.2M264.9 333h1.2M265.9 333h1.2M266.9 333h1.2M270.9 333h1.2M271.9 333h1.2M275.9 333h1.2M277.9 333h1.2M278.9 333h1.2M279.9 333h1.2M280.9 333h1.2M282.9 333h1.2M283.9 333h1.2M284.9 333h1.2M285.9 333h1.2M286.9 333h1.2M287.9 333h1.2M288.9 333h1.2M289.9 333h1.2M290.9 333h1.2M291.9 333h1.2M293.9 333h1.2M296.9 333h1.2M298.9 333h1.2M299.9 333h1.2M300.9 333h1.2M303.9 333h1.2M308.9 333h1.2M312.9 333h1.2M314.9 333h1.2M318.9 333h1.2M321.9 333h1.2M323.9 333h1.2M338.9 333h1.2M353.9 333h1.2M174.9 334h1.2M180.9 334h1.2M183.9 334h1.2M186.9 334h1.2M194.9 334h1.2M200.9 334h1.2M206.9 334h1.2M208.9 334h1.2M213.9 334h1.2M215.9 334h1.2M222.9 334h1.2M224.9 334h1.2M226.9 334h1.2M228.9 334h1.2M229.9 334h1.2M230.9 334h1.2M231.9 334h1.2M235.9 334h1.2M238.9 334h1.2M240.9 334h1.2M241.9 334h1.2M242.9 334h1.2M243.9 334h1.2M246.9 334h1.2M247.9 334h1.2M248.9 334h1.2M249.9 334h1.2M251.9 334h1.2M254.9 334h1.2M255.9 334h1.2M256.9 334h1.2M257.9 334h1.2M259.9 334h1.2M260.9 334h1.2M261.9 334h1.2M262.9 334h1.2M263.9 334h1.2M264.9 334h1.2M265.9 334h1.2M266.9 334h1.2M267.9 334h1.2M270.9 334h1.2M273.9 334h1.2M274.9 334h1.2M275.9 334h1.2M276.9 334h1.2M278.9 334h1.2M280.9 334h1.2M284.9 334h1.2M285.9 334h1.2M290.9 334h1.2M294.9 334h1.2M295.9 334h1.2M296.9 334h1.2M297.9 334h1.2M298.9 334h1.2M299.9 334h1.2M300.9 334h1.2M301.9 334h1.2M302.9 334h1.2M304.9 334h1.2M305.9 334h1.2M306.9 334h1.2M307.9 334h1.2M309.9 334h1.2M313.9 334h1.2M316.9 334h1.2M321.9 334h1.2M323.9 334h1.2M327.9 334h1.2M333.9 334h1.2M167.9 335h1.2M183.9 335h1.2M199.9 335h1.2M202.9 335h1.2M206.9 335h1.2M209.9 335h1.2M212.9 335h1.2M214.9 335h1.2M216.9 335h1.2M217.9 335h1.2M219.9 335h1.2M222.9 335h1.2M223.9 335h1.2M227.9 335h1.2M231.9 335h1.2M232.9 335h1.2M233.9 335h1.2M234.9 335h1.2M235.9 335h1.2M236.9 335h1.2M237.9 335h1.2M238.9 335h1.2M240.9 335h1.2M241.9 335h1.2M242.9 335h1.2M243.9 335h1.2M245.9 335h1.2M248.9 335h1.2M249.9 335h1.2M250.9 335h1.2M251.9 335h1.2M252.9 335h1.2M255.9 335h1.2M256.9 335h1.2M257.9 335h1.2M259.9 335h1.2M260.9 335h1.2M262.9 335h1.2M265.9 335h1.2M267.9 335h1.2M268.9 335h1.2M273.9 335h1.2M274.9 335h1.2M275.9 335h1.2M277.9 335h1.2M279.9 335h1.2M280.9 335h1.2M281.9 335h1.2M283.9 335h1.2M284.9 335h1.2M286.9 335h1.2M287.9 335h1.2M288.9 335h1.2M291.9 335h1.2M295.9 335h1.2M297.9 335h1.2M300.9 335h1.2M302.9 335h1.2M304.9 335h1.2M308.9 335h1.2M311.9 335h1.2M313.9 335h1.2M314.9 335h1.2M319.9 335h1.2M329.9 335h1.2M333.9 335h1.2M352.9 335h1.2M184.9 336h1.2M203.9 336h1.2M205.9 336h1.2M208.9 336h1.2M215.9 336h1.2M218.9 336h1.2M219.9 336h1.2M220.9 336h1.2M225.9 336h1.2M227.9 336h1.2M229.9 336h1.2M232.9 336h1.2M233.9 336h1.2M235.9 336h1.2M237.9 336h1.2M239.9 336h1.2M240.9 336h1.2M242.9 336h1.2M246.9 336h1.2M247.9 336h1.2M250.9 336h1.2M253.9 336h1.2M254.9 336h1.2M255.9 336h1.2M256.9 336h1.2M257.9 336h1.2M260.9 336h1.2M261.9 336h1.2M263.9 336h1.2M264.9 336h1.2M265.9 336h1.2M266.9 336h1.2M267.9 336h1.2M274.9 336h1.2M276.9 336h1.2M280.9 336h1.2M281.9 336h1.2M282.9 336h1.2M283.9 336h1.2M284.9 336h1.2M285.9 336h1.2M286.9 336h1.2M287.9 336h1.2M288.9 336h1.2M289.9 336h1.2M290.9 336h1.2M292.9 336h1.2M293.9 336h1.2M296.9 336h1.2M297.9 336h1.2M298.9 336h1.2M299.9 336h1.2M300.9 336h1.2M303.9 336h1.2M308.9 336h1.2M311.9 336h1.2M313.9 336h1.2M318.9 336h1.2M319.9 336h1.2M331.9 336h1.2M339.9 336h1.2M179.9 337h1.2M183.9 337h1.2M201.9 337h1.2M204.9 337h1.2M206.9 337h1.2M213.9 337h1.2M215.9 337h1.2M216.9 337h1.2M217.9 337h1.2M222.9 337h1.2M223.9 337h1.2M226.9 337h1.2M227.9 337h1.2M229.9 337h1.2M230.9 337h1.2M231.9 337h1.2M232.9 337h1.2M233.9 337h1.2M235.9 337h1.2M237.9 337h1.2M239.9 337h1.2M240.9 337h1.2M241.9 337h1.2M244.9 337h1.2M245.9 337h1.2M246.9 337h1.2M247.9 337h1.2M249.9 337h1.2M250.9 337h1.2M251.9 337h1.2M252.9 337h1.2M255.9 337h1.2M257.9 337h1.2M258.9 337h1.2M259.9 337h1.2M260.9 337h1.2M262.9 337h1.2M264.9 337h1.2M265.9 337h1.2M266.9 337h1.2M268.9 337h1.2M269.9 337h1.2M270.9 337h1.2M271.9 337h1.2M273.9 337h1.2M274.9 337h1.2M275.9 337h1.2M276.9 337h1.2M277.9 337h1.2M278.9 337h1.2M279.9 337h1.2M280.9 337h1.2M281.9 337h1.2M282.9 337h1.2M284.9 337h1.2M285.9 337h1.2M288.9 337h1.2M290.9 337h1.2M291.9 337h1.2M292.9 337h1.2M293.9 337h1.2M294.9 337h1.2M298.9 337h1.2M299.9 337h1.2M301.9 337h1.2M305.9 337h1.2M306.9 337h1.2M309.9 337h1.2M310.9 337h1.2M312.9 337h1.2M315.9 337h1.2M317.9 337h1.2M323.9 337h1.2M333.9 337h1.2M186.9 338h1.2M196.9 338h1.2M197.9 338h1.2M201.9 338h1.2M204.9 338h1.2M208.9 338h1.2M211.9 338h1.2M214.9 338h1.2M215.9 338h1.2M216.9 338h1.2M217.9 338h1.2M219.9 338h1.2M221.9 338h1.2M224.9 338h1.2M226.9 338h1.2M227.9 338h1.2M228.9 338h1.2M229.9 338h1.2M230.9 338h1.2M231.9 338h1.2M232.9 338h1.2M234.9 338h1.2M235.9 338h1.2M236.9 338h1.2M237.9 338h1.2M238.9 338h1.2M239.9 338h1.2M241.9 338h1.2M242.9 338h1.2M243.9 338h1.2M244.9 338h1.2M245.9 338h1.2M246.9 338h1.2M247.9 338h1.2M248.9 338h1.2M255.9 338h1.2M258.9 338h1.2M259.9 338h1.2M261.9 338h1.2M263.9 338h1.2M264.9 338h1.2M265.9 338h1.2M267.9 338h1.2M269.9 338h1.2M271.9 338h1.2M274.9 338h1.2M276.9 338h1.2M280.9 338h1.2M281.9 338h1.2M282.9 338h1.2M284.9 338h1.2M286.9 338h1.2M287.9 338h1.2M288.9 338h1.2M290.9 338h1.2M293.9 338h1.2M294.9 338h1.2M295.9 338h1.2M298.9 338h1.2M301.9 338h1.2M303.9 338h1.2M306.9 338h1.2M310.9 338h1.2M313.9 338h1.2M319.9 338h1.2M321.9 338h1.2M329.9 338h1.2M336.9 338h1.2M188.9 339h1.2M195.9 339h1.2M198.9 339h1.2M200.9 339h1.2M206.9 339h1.2M207.9 339h1.2M208.9 339h1.2M209.9 339h1.2M211.9 339h1.2M212.9 339h1.2M215.9 339h1.2M220.9 339h1.2M221.9 339h1.2M223.9 339h1.2M224.9 339h1.2M231.9 339h1.2M233.9 339h1.2M234.9 339h1.2M235.9 339h1.2M236.9 339h1.2M239.9 339h1.2M240.9 339h1.2M242.9 339h1.2M245.9 339h1.2M246.9 339h1.2M247.9 339h1.2M248.9 339h1.2M251.9 339h1.2M252.9 339h1.2M253.9 339h1.2M254.9 339h1.2M256.9 339h1.2M257.9 339h1.2M258.9 339h1.2M261.9 339h1.2M262.9 339h1.2M264.9 339h1.2M265.9 339h1.2M269.9 339h1.2M270.9 339h1.2M271.9 339h1.2M275.9 339h1.2M276.9 339h1.2M281.9 339h1.2M282.9 339h1.2M284.9 339h1.2M285.9 339h1.2M286.9 339h1.2M287.9 339h1.2M288.9 339h1.2M289.9 339h1.2M290.9 339h1.2M292.9 339h1.2M294.9 339h1.2M296.9 339h1.2M297.9 339h1.2M298.9 339h1.2M301.9 339h1.2M303.9 339h1.2M306.9 339h1.2M310.9 339h1.2M317.9 339h1.2M333.9 339h1.2M334.9 339h1.2M346.9 339h1.2M186.9 340h1.2M201.9 340h1.2M206.9 340h1.2M208.9 340h1.2M210.9 340h1.2M211.9 340h1.2M212.9 340h1.2M215.9 340h1.2M216.9 340h1.2M217.9 340h1.2M218.9 340h1.2M219.9 340h1.2M220.9 340h1.2M221.9 340h1.2M222.9 340h1.2M224.9 340h1.2M225.9 340h1.2M226.9 340h1.2M228.9 340h1.2M229.9 340h1.2M234.9 340h1.2M241.9 340h1.2M244.9 340h1.2M245.9 340h1.2M246.9 340h1.2M248.9 340h1.2M249.9 340h1.2M251.9 340h1.2M252.9 340h1.2M253.9 340h1.2M254.9 340h1.2M256.9 340h1.2M257.9 340h1.2M258.9 340h1.2M260.9 340h1.2M263.9 340h1.2M265.9 340h1.2M269.9 340h1.2M270.9 340h1.2M271.9 340h1.2M272.9 340h1.2M274.9 340h1.2M276.9 340h1.2M277.9 340h1.2M278.9 340h1.2M280.9 340h1.2M281.9 340h1.2M284.9 340h1.2M286.9 340h1.2M287.9 340h1.2M290.9 340h1.2M291.9 340h1.2M293.9 340h1.2M296.9 340h1.2M298.9 340h1.2M299.9 340h1.2M302.9 340h1.2M303.9 340h1.2M305.9 340h1.2M307.9 340h1.2M309.9 340h1.2M311.9 340h1.2M312.9 340h1.2M313.9 340h1.2M315.9 340h1.2M318.9 340h1.2M325.9 340h1.2M328.9 340h1.2M160.9 341h1.2M190.9 341h1.2M193.9 341h1.2M201.9 341h1.2M203.9 341h1.2M212.9 341h1.2M216.9 341h1.2M217.9 341h1.2M218.9 341h1.2M219.9 341h1.2M220.9 341h1.2M221.9 341h1.2M222.9 341h1.2M225.9 341h1.2M227.9 341h1.2M228.9 341h1.2M229.9 341h1.2M230.9 341h1.2M231.9 341h1.2M233.9 341h1.2M234.9 341h1.2M236.9 341h1.2M239.9 341h1.2M241.9 341h1.2M243.9 341h1.2M245.9 341h1.2M247.9 341h1.2M248.9 341h1.2M250.9 341h1.2M255.9 341h1.2M256.9 341h1.2M257.9 341h1.2M261.9 341h1.2M262.9 341h1.2M263.9 341h1.2M264.9 341h1.2M265.9 341h1.2M266.9 341h1.2M267.9 341h1.2M269.9 341h1.2M270.9 341h1.2M271.9 341h1.2M274.9 341h1.2M276.9 341h1.2M278.9 341h1.2M280.9 341h1.2M281.9 341h1.2M282.9 341h1.2M283.9 341h1.2M284.9 341h1.2M285.9 341h1.2M287.9 341h1.2M290.9 341h1.2M291.9 341h1.2M292.9 341h1.2M296.9 341h1.2M297.9 341h1.2M298.9 341h1.2M305.9 341h1.2M308.9 341h1.2M314.9 341h1.2M317.9 341h1.2M344.9 341h1.2M347.9 341h1.2M178.9 342h1.2M199.9 342h1.2M201.9 342h1.2M202.9 342h1.2M207.9 342h1.2M208.9 342h1.2M210.9 342h1.2M211.9 342h1.2M214.9 342h1.2M219.9 342h1.2M221.9 342h1.2M222.9 342h1.2M223.9 342h1.2M224.9 342h1.2M225.9 342h1.2M226.9 342h1.2M227.9 342h1.2M229.9 342h1.2M230.9 342h1.2M231.9 342h1.2M232.9 342h1.2M233.9 342h1.2M234.9 342h1.2M236.9 342h1.2M238.9 342h1.2M239.9 342h1.2M240.9 342h1.2M241.9 342h1.2M242.9 342h1.2M243.9 342h1.2M245.9 342h1.2M246.9 342h1.2M247.9 342h1.2M248.9 342h1.2M249.9 342h1.2M250.9 342h1.2M251.9 342h1.2M252.9 342h1.2M254.9 342h1.2M256.9 342h1.2M257.9 342h1.2M258.9 342h1.2M259.9 342h1.2M260.9 342h1.2M261.9 342h1.2M262.9 342h1.2M263.9 342h1.2M266.9 342h1.2M267.9 342h1.2M269.9 342h1.2M270.9 342h1.2M272.9 342h1.2M273.9 342h1.2M277.9 342h1.2M278.9 342h1.2M279.9 342h1.2M281.9 342h1.2M283.9 342h1.2M284.9 342h1.2M285.9 342h1.2M286.9 342h1.2M287.9 342h1.2M288.9 342h1.2M291.9 342h1.2M292.9 342h1.2M293.9 342h1.2M294.9 342h1.2M306.9 342h1.2M307.9 342h1.2M308.9 342h1.2M309.9 342h1.2M311.9 342h1.2M312.9 342h1.2M314.9 342h1.2M319.9 342h1.2M326.9 342h1.2M188.9 343h1.2M193.9 343h1.2M195.9 343h1.2M203.9 343h1.2M209.9 343h1.2M210.9 343h1.2M213.9 343h1.2M217.9 343h1.2M218.9 343h1.2M219.9 343h1.2M220.9 343h1.2M222.9 343h1.2M225.9 343h1.2M230.9 343h1.2M234.9 343h1.2M236.9 343h1.2M237.9 343h1.2M238.9 343h1.2M239.9 343h1.2M240.9 343h1.2M241.9 343h1.2M242.9 343h1.2M244.9 343h1.2M245.9 343h1.2M249.9 343h1.2M250.9 343h1.2M251.9 343h1.2M254.9 343h1.2M256.9 343h1.2M257.9 343h1.2M258.9 343h1.2M259.9 343h1.2M260.9 343h1.2M261.9 343h1.2M262.9 343h1.2M263.9 343h1.2M265.9 343h1.2M266.9 343h1.2M267.9 343h1.2M269.9 343h1.2M270.9 343h1.2M271.9 343h1.2M274.9 343h1.2M275.9 343h1.2M276.9 343h1.2M277.9 343h1.2M283.9 343h1.2M285.9 343h1.2M286.9 343h1.2M288.9 343h1.2M289.9 343h1.2M290.9 343h1.2M294.9 343h1.2M296.9 343h1.2M298.9 343h1.2M299.9 343h1.2M300.9 343h1.2M301.9 343h1.2M304.9 343h1.2M309.9 343h1.2M311.9 343h1.2M313.9 343h1.2M316.9 343h1.2M320.9 343h1.2M322.9 343h1.2M334.9 343h1.2M197.9 344h1.2M200.9 344h1.2M201.9 344h1.2M203.9 344h1.2M208.9 344h1.2M214.9 344h1.2M215.9 344h1.2M216.9 344h1.2M217.9 344h1.2M218.9 344h1.2M219.9 344h1.2M220.9 344h1.2M222.9 344h1.2M223.9 344h1.2M226.9 344h1.2M227.9 344h1.2M229.9 344h1.2M231.9 344h1.2M232.9 344h1.2M234.9 344h1.2M235.9 344h1.2M236.9 344h1.2M238.9 344h1.2M243.9 344h1.2M244.9 344h1.2M245.9 344h1.2M246.9 344h1.2M247.9 344h1.2M248.9 344h1.2M251.9 344h1.2M252.9 344h1.2M253.9 344h1.2M254.9 344h1.2M255.9 344h1.2M256.9 344h1.2M257.9 344h1.2M260.9 344h1.2M262.9 344h1.2M263.9 344h1.2M265.9 344h1.2M268.9 344h1.2M269.9 344h1.2M270.9 344h1.2M271.9 344h1.2M273.9 344h1.2M274.9 344h1.2M279.9 344h1.2M280.9 344h1.2M283.9 344h1.2M284.9 344h1.2M285.9 344h1.2M286.9 344h1.2M287.9 344h1.2M288.9 344h1.2M289.9 344h1.2M294.9 344h1.2M296.9 344h1.2M299.9 344h1.2M304.9 344h1.2M306.9 344h1.2M308.9 344h1.2M312.9 344h1.2M314.9 344h1.2M315.9 344h1.2M319.9 344h1.2M324.9 344h1.2M191.9 345h1.2M198.9 345h1.2M206.9 345h1.2M207.9 345h1.2M209.9 345h1.2M211.9 345h1.2M212.9 345h1.2M219.9 345h1.2M221.9 345h1.2M223.9 345h1.2M224.9 345h1.2M225.9 345h1.2M227.9 345h1.2M228.9 345h1.2M229.9 345h1.2M230.9 345h1.2M232.9 345h1.2M235.9 345h1.2M237.9 345h1.2M239.9 345h1.2M240.9 345h1.2M242.9 345h1.2M245.9 345h1.2M246.9 345h1.2M247.9 345h1.2M248.9 345h1.2M249.9 345h1.2M250.9 345h1.2M252.9 345h1.2M254.9 345h1.2M255.9 345h1.2M258.9 345h1.2M260.9 345h1.2M262.9 345h1.2M264.9 345h1.2M265.9 345h1.2M266.9 345h1.2M267.9 345h1.2M269.9 345h1.2M270.9 345h1.2M271.9 345h1.2M272.9 345h1.2M275.9 345h1.2M276.9 345h1.2M277.9 345h1.2M278.9 345h1.2M280.9 345h1.2M281.9 345h1.2M283.9 345h1.2M284.9 345h1.2M286.9 345h1.2M287.9 345h1.2M288.9 345h1.2M291.9 345h1.2M298.9 345h1.2M299.9 345h1.2M303.9 345h1.2M305.9 345h1.2M308.9 345h1.2M311.9 345h1.2M312.9 345h1.2M314.9 345h1.2M336.9 345h1.2M340.9 345h1.2M167.9 346h1.2M174.9 346h1.2M183.9 346h1.2M198.9 346h1.2M200.9 346h1.2M202.9 346h1.2M211.9 346h1.2M212.9 346h1.2M213.9 346h1.2M217.9 346h1.2M218.9 346h1.2M219.9 346h1.2M222.9 346h1.2M224.9 346h1.2M225.9 346h1.2M226.9 346h1.2M228.9 346h1.2M230.9 346h1.2M232.9 346h1.2M233.9 346h1.2M235.9 346h1.2M236.9 346h1.2M237.9 346h1.2M238.9 346h1.2M239.9 346h1.2M242.9 346h1.2M243.9 346h1.2M245.9 346h1.2M248.9 346h1.2M249.9 346h1.2M252.9 346h1.2M256.9 346h1.2M257.9 346h1.2M258.9 346h1.2M259.9 346h1.2M263.9 346h1.2M264.9 346h1.2M267.9 346h1.2M268.9 346h1.2M271.9 346h1.2M272.9 346h1.2M273.9 346h1.2M276.9 346h1.2M277.9 346h1.2M279.9 346h1.2M281.9 346h1.2M282.9 346h1.2M283.9 346h1.2M289.9 346h1.2M290.9 346h1.2M292.9 346h1.2M293.9 346h1.2M294.9 346h1.2M298.9 346h1.2M301.9 346h1.2M304.9 346h1.2M310.9 346h1.2M195.9 347h1.2M198.9 347h1.2M201.9 347h1.2M204.9 347h1.2M208.9 347h1.2M210.9 347h1.2M211.9 347h1.2M217.9 347h1.2M219.9 347h1.2M221.9 347h1.2M224.9 347h1.2M226.9 347h1.2M227.9 347h1.2M228.9 347h1.2M230.9 347h1.2M232.9 347h1.2M234.9 347h1.2M235.9 347h1.2M238.9 347h1.2M239.9 347h1.2M242.9 347h1.2M243.9 347h1.2M244.9 347h1.2M247.9 347h1.2M249.9 347h1.2M251.9 347h1.2M252.9 347h1.2M254.9 347h1.2M255.9 347h1.2M258.9 347h1.2M260.9 347h1.2M261.9 347h1.2M262.9 347h1.2M263.9 347h1.2M265.9 347h1.2M266.9 347h1.2M267.9 347h1.2M269.9 347h1.2M270.9 347h1.2M272.9 347h1.2M273.9 347h1.2M274.9 347h1.2M275.9 347h1.2M276.9 347h1.2M278.9 347h1.2M279.9 347h1.2M280.9 347h1.2M284.9 347h1.2M285.9 347h1.2M286.9 347h1.2M287.9 347h1.2M290.9 347h1.2M293.9 347h1.2M294.9 347h1.2M296.9 347h1.2M299.9 347h1.2M301.9 347h1.2M304.9 347h1.2M307.9 347h1.2M311.9 347h1.2M314.9 347h1.2M315.9 347h1.2M318.9 347h1.2M357.9 347h1.2M172.9 348h1.2M187.9 348h1.2M206.9 348h1.2M210.9 348h1.2M211.9 348h1.2M213.9 348h1.2M214.9 348h1.2M215.9 348h1.2M219.9 348h1.2M220.9 348h1.2M221.9 348h1.2M222.9 348h1.2M223.9 348h1.2M224.9 348h1.2M225.9 348h1.2M226.9 348h1.2M227.9 348h1.2M228.9 348h1.2M230.9 348h1.2M231.9 348h1.2M234.9 348h1.2M235.9 348h1.2M237.9 348h1.2M239.9 348h1.2M243.9 348h1.2M244.9 348h1.2M245.9 348h1.2M246.9 348h1.2M247.9 348h1.2M248.9 348h1.2M250.9 348h1.2M251.9 348h1.2M252.9 348h1.2M254.9 348h1.2M255.9 348h1.2M256.9 348h1.2M257.9 348h1.2M258.9 348h1.2M259.9 348h1.2M260.9 348h1.2M261.9 348h1.2M262.9 348h1.2M265.9 348h1.2M266.9 348h1.2M267.9 348h1.2M269.9 348h1.2M270.9 348h1.2M271.9 348h1.2M272.9 348h1.2M273.9 348h1.2M274.9 348h1.2M275.9 348h1.2M277.9 348h1.2M279.9 348h1.2M280.9 348h1.2M282.9 348h1.2M284.9 348h1.2M285.9 348h1.2M286.9 348h1.2M287.9 348h1.2M288.9 348h1.2M289.9 348h1.2M290.9 348h1.2M293.9 348h1.2M298.9 348h1.2M299.9 348h1.2M306.9 348h1.2M314.9 348h1.2M182.9 349h1.2M186.9 349h1.2M197.9 349h1.2M198.9 349h1.2M206.9 349h1.2M210.9 349h1.2M211.9 349h1.2M213.9 349h1.2M214.9 349h1.2M215.9 349h1.2M216.9 349h1.2M218.9 349h1.2M219.9 349h1.2M220.9 349h1.2M221.9 349h1.2M222.9 349h1.2M227.9 349h1.2M229.9 349h1.2M231.9 349h1.2M232.9 349h1.2M233.9 349h1.2M234.9 349h1.2M235.9 349h1.2M238.9 349h1.2M239.9 349h1.2M240.9 349h1.2M242.9 349h1.2M244.9 349h1.2M246.9 349h1.2M248.9 349h1.2M249.9 349h1.2M251.9 349h1.2M253.9 349h1.2M254.9 349h1.2M255.9 349h1.2M260.9 349h1.2M263.9 349h1.2M265.9 349h1.2M266.9 349h1.2M268.9 349h1.2M269.9 349h1.2M271.9 349h1.2M272.9 349h1.2M274.9 349h1.2M276.9 349h1.2M277.9 349h1.2M279.9 349h1.2M281.9 349h1.2M284.9 349h1.2M285.9 349h1.2M286.9 349h1.2M289.9 349h1.2M291.9 349h1.2M293.9 349h1.2M295.9 349h1.2M296.9 349h1.2M298.9 349h1.2M300.9 349h1.2M301.9 349h1.2M305.9 349h1.2M306.9 349h1.2M311.9 349h1.2M314.9 349h1.2M321.9 349h1.2M335.9 349h1.2M338.9 349h1.2M354.9 349h1.2M152.9 350h1.2M155.9 350h1.2M169.9 350h1.2M186.9 350h1.2M195.9 350h1.2M196.9 350h1.2M198.9 350h1.2M203.9 350h1.2M206.9 350h1.2M208.9 350h1.2M210.9 350h1.2M213.9 350h1.2M218.9 350h1.2M224.9 350h1.2M225.9 350h1.2M226.9 350h1.2M227.9 350h1.2M230.9 350h1.2M231.9 350h1.2M232.9 350h1.2M233.9 350h1.2M235.9 350h1.2M236.9 350h1.2M239.9 350h1.2M240.9 350h1.2M241.9 350h1.2M242.9 350h1.2M243.9 350h1.2M246.9 350h1.2M247.9 350h1.2M248.9 350h1.2M249.9 350h1.2M250.9 350h1.2M252.9 350h1.2M256.9 350h1.2M257.9 350h1.2M260.9 350h1.2M262.9 350h1.2M263.9 350h1.2M265.9 350h1.2M266.9 350h1.2M267.9 350h1.2M269.9 350h1.2M270.9 350h1.2M271.9 350h1.2M272.9 350h1.2M273.9 350h1.2M277.9 350h1.2M278.9 350h1.2M282.9 350h1.2M283.9 350h1.2M285.9 350h1.2M290.9 350h1.2M293.9 350h1.2M298.9 350h1.2M299.9 350h1.2M302.9 350h1.2M303.9 350h1.2M307.9 350h1.2M311.9 350h1.2M314.9 350h1.2M316.9 350h1.2M318.9 350h1.2M319.9 350h1.2M320.9 350h1.2M322.9 350h1.2M337.9 350h1.2M171.9 351h1.2M191.9 351h1.2M195.9 351h1.2M196.9 351h1.2M205.9 351h1.2M208.9 351h1.2M209.9 351h1.2M212.9 351h1.2M214.9 351h1.2M215.9 351h1.2M216.9 351h1.2M217.9 351h1.2M219.9 351h1.2M220.9 351h1.2M223.9 351h1.2M224.9 351h1.2M225.9 351h1.2M226.9 351h1.2M227.9 351h1.2M228.9 351h1.2M229.9 351h1.2M230.9 351h1.2M231.9 351h1.2M233.9 351h1.2M234.9 351h1.2M235.9 351h1.2M239.9 351h1.2M240.9 351h1.2M242.9 351h1.2M243.9 351h1.2M245.9 351h1.2M247.9 351h1.2M248.9 351h1.2M250.9 351h1.2M251.9 351h1.2M252.9 351h1.2M253.9 351h1.2M254.9 351h1.2M255.9 351h1.2M258.9 351h1.2M263.9 351h1.2M265.9 351h1.2M266.9 351h1.2M268.9 351h1.2M269.9 351h1.2M271.9 351h1.2M272.9 351h1.2M273.9 351h1.2M274.9 351h1.2M278.9 351h1.2M280.9 351h1.2M281.9 351h1.2M282.9 351h1.2M284.9 351h1.2M285.9 351h1.2M287.9 351h1.2M291.9 351h1.2M294.9 351h1.2M297.9 351h1.2M298.9 351h1.2M299.9 351h1.2M304.9 351h1.2M308.9 351h1.2M309.9 351h1.2M311.9 351h1.2M322.9 351h1.2M175.9 352h1.2M178.9 352h1.2M190.9 352h1.2M191.9 352h1.2M192.9 352h1.2M197.9 352h1.2M205.9 352h1.2M207.9 352h1.2M215.9 352h1.2M216.9 352h1.2M220.9 352h1.2M221.9 352h1.2M222.9 352h1.2M223.9 352h1.2M225.9 352h1.2M228.9 352h1.2M229.9 352h1.2M231.9 352h1.2M233.9 352h1.2M241.9 352h1.2M242.9 352h1.2M244.9 352h1.2M247.9 352h1.2M248.9 352h1.2M249.9 352h1.2M251.9 352h1.2M253.9 352h1.2M254.9 352h1.2M258.9 352h1.2M259.9 352h1.2M260.9 352h1.2M263.9 352h1.2M264.9 352h1.2M265.9 352h1.2M266.9 352h1.2M267.9 352h1.2M268.9 352h1.2M269.9 352h1.2M270.9 352h1.2M273.9 352h1.2M275.9 352h1.2M280.9 352h1.2M281.9 352h1.2M282.9 352h1.2M283.9 352h1.2M284.9 352h1.2M285.9 352h1.2M286.9 352h1.2M289.9 352h1.2M292.9 352h1.2M293.9 352h1.2M295.9 352h1.2M299.9 352h1.2M301.9 352h1.2M302.9 352h1.2M310.9 352h1.2M171.9 353h1.2M176.9 353h1.2M187.9 353h1.2M191.9 353h1.2M201.9 353h1.2M202.9 353h1.2M208.9 353h1.2M209.9 353h1.2M211.9 353h1.2M213.9 353h1.2M214.9 353h1.2M215.9 353h1.2M216.9 353h1.2M218.9 353h1.2M219.9 353h1.2M221.9 353h1.2M223.9 353h1.2M225.9 353h1.2M229.9 353h1.2M230.9 353h1.2M231.9 353h1.2M232.9 353h1.2M233.9 353h1.2M237.9 353h1.2M240.9 353h1.2M241.9 353h1.2M242.9 353h1.2M246.9 353h1.2M247.9 353h1.2M249.9 353h1.2M250.9 353h1.2M251.9 353h1.2M253.9 353h1.2M255.9 353h1.2M256.9 353h1.2M257.9 353h1.2M258.9 353h1.2M259.9 353h1.2M260.9 353h1.2M262.9 353h1.2M263.9 353h1.2M264.9 353h1.2M265.9 353h1.2M268.9 353h1.2M270.9 353h1.2M273.9 353h1.2M274.9 353h1.2M276.9 353h1.2M283.9 353h1.2M284.9 353h1.2M285.9 353h1.2M290.9 353h1.2M292.9 353h1.2M293.9 353h1.2M297.9 353h1.2M300.9 353h1.2M305.9 353h1.2M307.9 353h1.2M313.9 353h1.2M320.9 353h1.2M336.9 353h1.2M204.9 354h1.2M206.9 354h1.2M207.9 354h1.2M209.9 354h1.2M210.9 354h1.2M215.9 354h1.2M216.9 354h1.2M217.9 354h1.2M218.9 354h1.2M220.9 354h1.2M222.9 354h1.2M225.9 354h1.2M226.9 354h1.2M230.9 354h1.2M234.9 354h1.2M235.9 354h1.2M236.9 354h1.2M237.9 354h1.2M238.9 354h1.2M239.9 354h1.2M240.9 354h1.2M241.9 354h1.2M243.9 354h1.2M244.9 354h1.2M245.9 354h1.2M246.9 354h1.2M247.9 354h1.2M248.9 354h1.2M249.9 354h1.2M250.9 354h1.2M251.9 354h1.2M252.9 354h1.2M253.9 354h1.2M255.9 354h1.2M256.9 354h1.2M257.9 354h1.2M258.9 354h1.2M260.9 354h1.2M263.9 354h1.2M265.9 354h1.2M270.9 354h1.2M274.9 354h1.2M275.9 354h1.2M281.9 354h1.2M282.9 354h1.2M283.9 354h1.2M284.9 354h1.2M287.9 354h1.2M288.9 354h1.2M289.9 354h1.2M290.9 354h1.2M292.9 354h1.2M295.9 354h1.2M296.9 354h1.2M300.9 354h1.2M301.9 354h1.2M307.9 354h1.2M310.9 354h1.2M311.9 354h1.2M314.9 354h1.2M335.9 354h1.2M338.9 354h1.2M168.9 355h1.2M182.9 355h1.2M204.9 355h1.2M206.9 355h1.2M215.9 355h1.2M216.9 355h1.2M221.9 355h1.2M222.9 355h1.2M224.9 355h1.2M225.9 355h1.2M228.9 355h1.2M229.9 355h1.2M230.9 355h1.2M231.9 355h1.2M235.9 355h1.2M238.9 355h1.2M239.9 355h1.2M240.9 355h1.2M241.9 355h1.2M243.9 355h1.2M244.9 355h1.2M245.9 355h1.2M247.9 355h1.2M250.9 355h1.2M251.9 355h1.2M252.9 355h1.2M253.9 355h1.2M254.9 355h1.2M255.9 355h1.2M257.9 355h1.2M262.9 355h1.2M265.9 355h1.2M266.9 355h1.2M274.9 355h1.2M278.9 355h1.2M280.9 355h1.2M281.9 355h1.2M283.9 355h1.2M285.9 355h1.2M286.9 355h1.2M287.9 355h1.2M290.9 355h1.2M291.9 355h1.2M292.9 355h1.2M301.9 355h1.2M309.9 355h1.2M322.9 355h1.2M190.9 356h1.2M192.9 356h1.2M201.9 356h1.2M204.9 356h1.2M206.9 356h1.2M208.9 356h1.2M209.9 356h1.2M210.9 356h1.2M211.9 356h1.2M212.9 356h1.2M214.9 356h1.2M215.9 356h1.2M218.9 356h1.2M219.9 356h1.2M221.9 356h1.2M222.9 356h1.2M223.9 356h1.2M225.9 356h1.2M227.9 356h1.2M228.9 356h1.2M230.9 356h1.2M231.9 356h1.2M232.9 356h1.2M234.9 356h1.2M235.9 356h1.2M236.9 356h1.2M240.9 356h1.2M241.9 356h1.2M242.9 356h1.2M243.9 356h1.2M244.9 356h1.2M246.9 356h1.2M251.9 356h1.2M252.9 356h1.2M253.9 356h1.2M256.9 356h1.2M258.9 356h1.2M259.9 356h1.2M260.9 356h1.2M265.9 356h1.2M267.9 356h1.2M268.9 356h1.2M275.9 356h1.2M277.9 356h1.2M278.9 356h1.2M285.9 356h1.2M287.9 356h1.2M291.9 356h1.2M295.9 356h1.2M297.9 356h1.2M302.9 356h1.2M303.9 356h1.2M305.9 356h1.2M310.9 356h1.2M311.9 356h1.2M317.9 356h1.2M324.9 356h1.2M338.9 356h1.2M340.9 356h1.2M177.9 357h1.2M179.9 357h1.2M191.9 357h1.2M192.9 357h1.2M195.9 357h1.2M207.9 357h1.2M208.9 357h1.2M209.9 357h1.2M210.9 357h1.2M214.9 357h1.2M215.9 357h1.2M216.9 357h1.2M218.9 357h1.2M221.9 357h1.2M223.9 357h1.2M225.9 357h1.2M226.9 357h1.2M228.9 357h1.2M229.9 357h1.2M230.9 357h1.2M231.9 357h1.2M232.9 357h1.2M234.9 357h1.2M235.9 357h1.2M236.9 357h1.2M237.9 357h1.2M238.9 357h1.2M239.9 357h1.2M240.9 357h1.2M241.9 357h1.2M242.9 357h1.2M243.9 357h1.2M246.9 357h1.2M247.9 357h1.2M249.9 357h1.2M250.9 357h1.2M251.9 357h1.2M252.9 357h1.2M253.9 357h1.2M254.9 357h1.2M255.9 357h1.2M256.9 357h1.2M257.9 357h1.2M258.9 357h1.2M266.9 357h1.2M267.9 357h1.2M271.9 357h1.2M272.9 357h1.2M273.9 357h1.2M279.9 357h1.2M287.9 357h1.2M288.9 357h1.2M290.9 357h1.2M292.9 357h1.2M295.9 357h1.2M298.9 357h1.2M299.9 357h1.2M302.9 357h1.2M306.9 357h1.2M311.9 357h1.2M312.9 357h1.2M334.9 357h1.2M181.9 358h1.2M186.9 358h1.2M188.9 358h1.2M192.9 358h1.2M199.9 358h1.2M207.9 358h1.2M211.9 358h1.2M215.9 358h1.2M217.9 358h1.2M219.9 358h1.2M221.9 358h1.2M222.9 358h1.2M223.9 358h1.2M224.9 358h1.2M226.9 358h1.2M227.9 358h1.2M228.9 358h1.2M231.9 358h1.2M232.9 358h1.2M234.9 358h1.2M235.9 358h1.2M236.9 358h1.2M237.9 358h1.2M240.9 358h1.2M241.9 358h1.2M242.9 358h1.2M244.9 358h1.2M247.9 358h1.2M248.9 358h1.2M252.9 358h1.2M254.9 358h1.2M255.9 358h1.2M256.9 358h1.2M258.9 358h1.2M260.9 358h1.2M262.9 358h1.2M264.9 358h1.2M265.9 358h1.2M269.9 358h1.2M270.9 358h1.2M271.9 358h1.2M272.9 358h1.2M279.9 358h1.2M281.9 358h1.2M289.9 358h1.2M291.9 358h1.2M295.9 358h1.2M296.9 358h1.2M307.9 358h1.2M314.9 358h1.2M319.9 358h1.2M348.9 358h1.2M159.9 359h1.2M195.9 359h1.2M206.9 359h1.2M209.9 359h1.2M210.9 359h1.2M213.9 359h1.2M214.9 359h1.2M215.9 359h1.2M223.9 359h1.2M224.9 359h1.2M225.9 359h1.2M226.9 359h1.2M228.9 359h1.2M229.9 359h1.2M231.9 359h1.2M232.9 359h1.2M233.9 359h1.2M234.9 359h1.2M235.9 359h1.2M236.9 359h1.2M237.9 359h1.2M247.9 359h1.2M250.9 359h1.2M253.9 359h1.2M255.9 359h1.2M256.9 359h1.2M264.9 359h1.2M271.9 359h1.2M272.9 359h1.2M273.9 359h1.2M274.9 359h1.2M277.9 359h1.2M279.9 359h1.2M280.9 359h1.2M282.9 359h1.2M290.9 359h1.2M295.9 359h1.2M297.9 359h1.2M307.9 359h1.2M310.9 359h1.2M320.9 359h1.2M325.9 359h1.2M334.9 359h1.2M192.9 360h1.2M194.9 360h1.2M198.9 360h1.2M203.9 360h1.2M204.9 360h1.2M207.9 360h1.2M208.9 360h1.2M209.9 360h1.2M211.9 360h1.2M212.9 360h1.2M213.9 360h1.2M214.9 360h1.2M216.9 360h1.2M217.9 360h1.2M218.9 360h1.2M221.9 360h1.2M222.9 360h1.2M223.9 360h1.2M224.9 360h1.2M225.9 360h1.2M226.9 360h1.2M228.9 360h1.2M230.9 360h1.2M231.9 360h1.2M232.9 360h1.2M233.9 360h1.2M234.9 360h1.2M236.9 360h1.2M237.9 360h1.2M239.9 360h1.2M240.9 360h1.2M241.9 360h1.2M243.9 360h1.2M244.9 360h1.2M245.9 360h1.2M246.9 360h1.2M247.9 360h1.2M248.9 360h1.2M249.9 360h1.2M250.9 360h1.2M251.9 360h1.2M255.9 360h1.2M256.9 360h1.2M258.9 360h1.2M260.9 360h1.2M262.9 360h1.2M264.9 360h1.2M267.9 360h1.2M269.9 360h1.2M275.9 360h1.2M295.9 360h1.2M300.9 360h1.2M303.9 360h1.2M308.9 360h1.2M323.9 360h1.2M331.9 360h1.2M160.9 361h1.2M196.9 361h1.2M200.9 361h1.2M205.9 361h1.2M207.9 361h1.2M210.9 361h1.2M211.9 361h1.2M212.9 361h1.2M213.9 361h1.2M214.9 361h1.2M215.9 361h1.2M217.9 361h1.2M219.9 361h1.2M220.9 361h1.2M223.9 361h1.2M224.9 361h1.2M225.9 361h1.2M226.9 361h1.2M228.9 361h1.2M230.9 361h1.2M231.9 361h1.2M232.9 361h1.2M237.9 361h1.2M238.9 361h1.2M239.9 361h1.2M240.9 361h1.2M241.9 361h1.2M243.9 361h1.2M244.9 361h1.2M245.9 361h1.2M246.9 361h1.2M247.9 361h1.2M248.9 361h1.2M252.9 361h1.2M254.9 361h1.2M256.9 361h1.2M257.9 361h1.2M258.9 361h1.2M262.9 361h1.2M263.9 361h1.2M275.9 361h1.2M276.9 361h1.2M278.9 361h1.2M279.9 361h1.2M281.9 361h1.2M285.9 361h1.2M287.9 361h1.2M305.9 361h1.2M336.9 361h1.2M176.9 362h1.2M181.9 362h1.2M197.9 362h1.2M198.9 362h1.2M201.9 362h1.2M204.9 362h1.2M205.9 362h1.2M213.9 362h1.2M214.9 362h1.2M215.9 362h1.2M216.9 362h1.2M217.9 362h1.2M219.9 362h1.2M221.9 362h1.2M223.9 362h1.2M224.9 362h1.2M226.9 362h1.2M229.9 362h1.2M230.9 362h1.2M231.9 362h1.2M232.9 362h1.2M233.9 362h1.2M234.9 362h1.2M241.9 362h1.2M242.9 362h1.2M244.9 362h1.2M245.9 362h1.2M246.9 362h1.2M247.9 362h1.2M248.9 362h1.2M250.9 362h1.2M251.9 362h1.2M258.9 362h1.2M260.9 362h1.2M266.9 362h1.2M267.9 362h1.2M268.9 362h1.2M271.9 362h1.2M273.9 362h1.2M277.9 362h1.2M281.9 362h1.2M284.9 362h1.2M292.9 362h1.2M304.9 362h1.2M310.9 362h1.2M332.9 362h1.2M198.9 363h1.2M199.9 363h1.2M200.9 363h1.2M202.9 363h1.2M204.9 363h1.2M205.9 363h1.2M206.9 363h1.2M209.9 363h1.2M210.9 363h1.2M212.9 363h1.2M213.9 363h1.2M216.9 363h1.2M217.9 363h1.2M225.9 363h1.2M226.9 363h1.2M227.9 363h1.2M228.9 363h1.2M229.9 363h1.2M232.9 363h1.2M233.9 363h1.2M234.9 363h1.2M237.9 363h1.2M239.9 363h1.2M240.9 363h1.2M241.9 363h1.2M243.9 363h1.2M244.9 363h1.2M245.9 363h1.2M248.9 363h1.2M251.9 363h1.2M253.9 363h1.2M258.9 363h1.2M260.9 363h1.2M261.9 363h1.2M262.9 363h1.2M263.9 363h1.2M264.9 363h1.2M267.9 363h1.2M270.9 363h1.2M273.9 363h1.2M276.9 363h1.2M279.9 363h1.2M287.9 363h1.2M301.9 363h1.2M316.9 363h1.2M317.9 363h1.2M167.9 364h1.2M186.9 364h1.2M197.9 364h1.2M198.9 364h1.2M206.9 364h1.2M208.9 364h1.2M209.9 364h1.2M211.9 364h1.2M212.9 364h1.2M214.9 364h1.2M216.9 364h1.2M218.9 364h1.2M219.9 364h1.2M220.9 364h1.2M221.9 364h1.2M223.9 364h1.2M225.9 364h1.2M226.9 364h1.2M227.9 364h1.2M228.9 364h1.2M229.9 364h1.2M230.9 364h1.2M232.9 364h1.2M239.9 364h1.2M240.9 364h1.2M241.9 364h1.2M242.9 364h1.2M244.9 364h1.2M245.9 364h1.2M247.9 364h1.2M248.9 364h1.2M249.9 364h1.2M250.9 364h1.2M251.9 364h1.2M254.9 364h1.2M256.9 364h1.2M259.9 364h1.2M262.9 364h1.2M264.9 364h1.2M267.9 364h1.2M268.9 364h1.2M269.9 364h1.2M270.9 364h1.2M272.9 364h1.2M273.9 364h1.2M274.9 364h1.2M276.9 364h1.2M278.9 364h1.2M280.9 364h1.2M282.9 364h1.2M288.9 364h1.2M290.9 364h1.2M299.9 364h1.2M310.9 364h1.2M314.9 364h1.2M316.9 364h1.2M182.9 365h1.2M190.9 365h1.2M197.9 365h1.2M201.9 365h1.2M206.9 365h1.2M207.9 365h1.2M213.9 365h1.2M215.9 365h1.2M216.9 365h1.2M218.9 365h1.2M220.9 365h1.2M221.9 365h1.2M223.9 365h1.2M229.9 365h1.2M230.9 365h1.2M232.9 365h1.2M233.9 365h1.2M235.9 365h1.2M238.9 365h1.2M243.9 365h1.2M244.9 365h1.2M246.9 365h1.2M247.9 365h1.2M249.9 365h1.2M250.9 365h1.2M253.9 365h1.2M255.9 365h1.2M258.9 365h1.2M259.9 365h1.2M262.9 365h1.2M265.9 365h1.2M270.9 365h1.2M271.9 365h1.2M272.9 365h1.2M280.9 365h1.2M291.9 365h1.2M306.9 365h1.2M311.9 365h1.2M312.9 365h1.2M315.9 365h1.2M186.9 366h1.2M200.9 366h1.2M204.9 366h1.2M206.9 366h1.2M208.9 366h1.2M209.9 366h1.2M212.9 366h1.2M214.9 366h1.2M216.9 366h1.2M217.9 366h1.2M218.9 366h1.2M220.9 366h1.2M221.9 366h1.2M223.9 366h1.2M225.9 366h1.2M226.9 366h1.2M228.9 366h1.2M229.9 366h1.2M230.9 366h1.2M231.9 366h1.2M232.9 366h1.2M233.9 366h1.2M234.9 366h1.2M235.9 366h1.2M238.9 366h1.2M239.9 366h1.2M240.9 366h1.2M242.9 366h1.2M244.9 366h1.2M245.9 366h1.2M246.9 366h1.2M247.9 366h1.2M248.9 366h1.2M249.9 366h1.2M250.9 366h1.2M251.9 366h1.2M253.9 366h1.2M255.9 366h1.2M257.9 366h1.2M258.9 366h1.2M267.9 366h1.2M273.9 366h1.2M274.9 366h1.2M276.9 366h1.2M281.9 366h1.2M290.9 366h1.2M292.9 366h1.2M296.9 366h1.2M300.9 366h1.2M301.9 366h1.2M306.9 366h1.2M314.9 366h1.2M316.9 366h1.2M320.9 366h1.2M178.9 367h1.2M186.9 367h1.2M200.9 367h1.2M208.9 367h1.2M209.9 367h1.2M211.9 367h1.2M212.9 367h1.2M216.9 367h1.2M217.9 367h1.2M218.9 367h1.2M220.9 367h1.2M222.9 367h1.2M223.9 367h1.2M224.9 367h1.2M225.9 367h1.2M226.9 367h1.2M229.9 367h1.2M230.9 367h1.2M231.9 367h1.2M232.9 367h1.2M233.9 367h1.2M236.9 367h1.2M237.9 367h1.2M238.9 367h1.2M239.9 367h1.2M241.9 367h1.2M242.9 367h1.2M246.9 367h1.2M247.9 367h1.2M248.9 367h1.2M250.9 367h1.2M251.9 367h1.2M252.9 367h1.2M256.9 367h1.2M257.9 367h1.2M258.9 367h1.2M259.9 367h1.2M264.9 367h1.2M265.9 367h1.2M269.9 367h1.2M270.9 367h1.2M272.9 367h1.2M277.9 367h1.2M281.9 367h1.2M285.9 367h1.2M288.9 367h1.2M300.9 367h1.2M187.9 368h1.2M199.9 368h1.2M203.9 368h1.2M205.9 368h1.2M207.9 368h1.2M210.9 368h1.2M211.9 368h1.2M213.9 368h1.2M219.9 368h1.2M220.9 368h1.2M225.9 368h1.2M227.9 368h1.2M228.9 368h1.2M230.9 368h1.2M232.9 368h1.2M233.9 368h1.2M234.9 368h1.2M235.9 368h1.2M236.9 368h1.2M240.9 368h1.2M241.9 368h1.2M243.9 368h1.2M245.9 368h1.2M246.9 368h1.2M247.9 368h1.2M248.9 368h1.2M249.9 368h1.2M250.9 368h1.2M251.9 368h1.2M260.9 368h1.2M265.9 368h1.2M269.9 368h1.2M271.9 368h1.2M275.9 368h1.2M276.9 368h1.2M292.9 368h1.2M295.9 368h1.2M298.9 368h1.2M300.9 368h1.2M182.9 369h1.2M199.9 369h1.2M203.9 369h1.2M208.9 369h1.2M209.9 369h1.2M212.9 369h1.2M215.9 369h1.2M217.9 369h1.2M219.9 369h1.2M220.9 369h1.2M221.9 369h1.2M222.9 369h1.2M223.9 369h1.2M224.9 369h1.2M226.9 369h1.2M228.9 369h1.2M230.9 369h1.2M231.9 369h1.2M233.9 369h1.2M237.9 369h1.2M239.9 369h1.2M241.9 369h1.2M242.9 369h1.2M244.9 369h1.2M245.9 369h1.2M247.9 369h1.2M248.9 369h1.2M250.9 369h1.2M252.9 369h1.2M255.9 369h1.2M256.9 369h1.2M257.9 369h1.2M263.9 369h1.2M268.9 369h1.2M274.9 369h1.2M300.9 369h1.2M310.9 369h1.2M318.9 369h1.2M194.9 370h1.2M198.9 370h1.2M199.9 370h1.2M203.9 370h1.2M206.9 370h1.2M210.9 370h1.2M211.9 370h1.2M212.9 370h1.2M213.9 370h1.2M214.9 370h1.2M215.9 370h1.2M216.9 370h1.2M218.9 370h1.2M219.9 370h1.2M221.9 370h1.2M222.9 370h1.2M223.9 370h1.2M226.9 370h1.2M227.9 370h1.2M233.9 370h1.2M234.9 370h1.2M235.9 370h1.2M236.9 370h1.2M240.9 370h1.2M243.9 370h1.2M244.9 370h1.2M246.9 370h1.2M247.9 370h1.2M253.9 370h1.2M254.9 370h1.2M264.9 370h1.2M265.9 370h1.2M267.9 370h1.2M271.9 370h1.2M273.9 370h1.2M278.9 370h1.2M279.9 370h1.2M281.9 370h1.2M293.9 370h1.2M305.9 370h1.2M306.9 370h1.2M179.9 371h1.2M191.9 371h1.2M192.9 371h1.2M198.9 371h1.2M200.9 371h1.2M208.9 371h1.2M210.9 371h1.2M215.9 371h1.2M216.9 371h1.2M221.9 371h1.2M224.9 371h1.2M225.9 371h1.2M228.9 371h1.2M229.9 371h1.2M232.9 371h1.2M234.9 371h1.2M235.9 371h1.2M237.9 371h1.2M238.9 371h1.2M239.9 371h1.2M240.9 371h1.2M242.9 371h1.2M243.9 371h1.2M244.9 371h1.2M245.9 371h1.2M247.9 371h1.2M250.9 371h1.2M251.9 371h1.2M252.9 371h1.2M253.9 371h1.2M260.9 371h1.2M264.9 371h1.2M266.9 371h1.2M268.9 371h1.2M272.9 371h1.2M274.9 371h1.2M275.9 371h1.2M284.9 371h1.2M285.9 371h1.2M286.9 371h1.2M293.9 371h1.2M295.9 371h1.2M299.9 371h1.2M300.9 371h1.2M305.9 371h1.2M185.9 372h1.2M193.9 372h1.2M195.9 372h1.2M206.9 372h1.2M210.9 372h1.2M213.9 372h1.2M214.9 372h1.2M216.9 372h1.2M218.9 372h1.2M221.9 372h1.2M222.9 372h1.2M224.9 372h1.2M225.9 372h1.2M228.9 372h1.2M229.9 372h1.2M230.9 372h1.2M231.9 372h1.2M232.9 372h1.2M233.9 372h1.2M235.9 372h1.2M237.9 372h1.2M238.9 372h1.2M239.9 372h1.2M248.9 372h1.2M249.9 372h1.2M251.9 372h1.2M257.9 372h1.2M259.9 372h1.2M261.9 372h1.2M263.9 372h1.2M266.9 372h1.2M279.9 372h1.2M310.9 372h1.2M162.9 373h1.2M182.9 373h1.2M191.9 373h1.2M207.9 373h1.2M211.9 373h1.2M212.9 373h1.2M213.9 373h1.2M214.9 373h1.2M217.9 373h1.2M219.9 373h1.2M221.9 373h1.2M222.9 373h1.2M225.9 373h1.2M226.9 373h1.2M227.9 373h1.2M229.9 373h1.2M230.9 373h1.2M232.9 373h1.2M235.9 373h1.2M236.9 373h1.2M237.9 373h1.2M240.9 373h1.2M241.9 373h1.2M242.9 373h1.2M244.9 373h1.2M249.9 373h1.2M250.9 373h1.2M252.9 373h1.2M253.9 373h1.2M263.9 373h1.2M266.9 373h1.2M271.9 373h1.2M275.9 373h1.2M277.9 373h1.2M279.9 373h1.2M280.9 373h1.2M298.9 373h1.2M301.9 373h1.2M313.9 373h1.2M315.9 373h1.2M316.9 373h1.2M168.9 374h1.2M197.9 374h1.2M202.9 374h1.2M204.9 374h1.2M205.9 374h1.2M206.9 374h1.2M208.9 374h1.2M209.9 374h1.2M210.9 374h1.2M211.9 374h1.2M213.9 374h1.2M215.9 374h1.2M216.9 374h1.2M220.9 374h1.2M223.9 374h1.2M224.9 374h1.2M226.9 374h1.2M227.9 374h1.2M228.9 374h1.2M231.9 374h1.2M232.9 374h1.2M236.9 374h1.2M237.9 374h1.2M238.9 374h1.2M239.9 374h1.2M241.9 374h1.2M242.9 374h1.2M243.9 374h1.2M246.9 374h1.2M247.9 374h1.2M250.9 374h1.2M252.9 374h1.2M256.9 374h1.2M257.9 374h1.2M263.9 374h1.2M266.9 374h1.2M267.9 374h1.2M273.9 374h1.2M277.9 374h1.2M282.9 374h1.2M284.9 374h1.2M298.9 374h1.2M304.9 374h1.2M320.9 374h1.2M167.9 375h1.2M182.9 375h1.2M188.9 375h1.2M190.9 375h1.2M194.9 375h1.2M196.9 375h1.2M202.9 375h1.2M205.9 375h1.2M206.9 375h1.2M207.9 375h1.2M208.9 375h1.2M209.9 375h1.2M210.9 375h1.2M213.9 375h1.2M214.9 375h1.2M218.9 375h1.2M220.9 375h1.2M221.9 375h1.2M222.9 375h1.2M223.9 375h1.2M224.9 375h1.2M226.9 375h1.2M228.9 375h1.2M232.9 375h1.2M233.9 375h1.2M235.9 375h1.2M236.9 375h1.2M237.9 375h1.2M239.9 375h1.2M240.9 375h1.2M241.9 375h1.2M244.9 375h1.2M247.9 375h1.2M249.9 375h1.2M251.9 375h1.2M253.9 375h1.2M256.9 375h1.2M258.9 375h1.2M260.9 375h1.2M261.9 375h1.2M262.9 375h1.2M265.9 375h1.2M266.9 375h1.2M270.9 375h1.2M272.9 375h1.2M273.9 375h1.2M274.9 375h1.2M275.9 375h1.2M283.9 375h1.2M294.9 375h1.2M311.9 375h1.2M185.9 376h1.2M189.9 376h1.2M194.9 376h1.2M197.9 376h1.2M204.9 376h1.2M206.9 376h1.2M208.9 376h1.2M212.9 376h1.2M214.9 376h1.2M215.9 376h1.2M216.9 376h1.2M217.9 376h1.2M219.9 376h1.2M220.9 376h1.2M221.9 376h1.2M227.9 376h1.2M230.9 376h1.2M231.9 376h1.2M233.9 376h1.2M234.9 376h1.2M236.9 376h1.2M238.9 376h1.2M239.9 376h1.2M240.9 376h1.2M241.9 376h1.2M242.9 376h1.2M246.9 376h1.2M247.9 376h1.2M249.9 376h1.2M251.9 376h1.2M252.9 376h1.2M257.9 376h1.2M258.9 376h1.2M260.9 376h1.2M265.9 376h1.2M269.9 376h1.2M270.9 376h1.2M271.9 376h1.2M277.9 376h1.2M281.9 376h1.2M294.9 376h1.2M300.9 376h1.2M304.9 376h1.2M305.9 376h1.2M186.9 377h1.2M199.9 377h1.2M200.9 377h1.2M204.9 377h1.2M205.9 377h1.2M210.9 377h1.2M213.9 377h1.2M215.9 377h1.2M217.9 377h1.2M219.9 377h1.2M220.9 377h1.2M223.9 377h1.2M225.9 377h1.2M227.9 377h1.2M228.9 377h1.2M230.9 377h1.2M231.9 377h1.2M232.9 377h1.2M233.9 377h1.2M234.9 377h1.2M235.9 377h1.2M237.9 377h1.2M238.9 377h1.2M239.9 377h1.2M241.9 377h1.2M244.9 377h1.2M246.9 377h1.2M251.9 377h1.2M252.9 377h1.2M253.9 377h1.2M254.9 377h1.2M266.9 377h1.2M270.9 377h1.2M280.9 377h1.2M292.9 377h1.2M316.9 377h1.2M197.9 378h1.2M203.9 378h1.2M206.9 378h1.2M207.9 378h1.2M209.9 378h1.2M212.9 378h1.2M213.9 378h1.2M221.9 378h1.2M223.9 378h1.2M225.9 378h1.2M227.9 378h1.2M228.9 378h1.2M229.9 378h1.2M237.9 378h1.2M240.9 378h1.2M242.9 378h1.2M244.9 378h1.2M248.9 378h1.2M250.9 378h1.2M251.9 378h1.2M256.9 378h1.2M259.9 378h1.2M262.9 378h1.2M269.9 378h1.2M278.9 378h1.2M285.9 378h1.2M301.9 378h1.2M172.9 379h1.2M184.9 379h1.2M185.9 379h1.2M192.9 379h1.2M207.9 379h1.2M209.9 379h1.2M212.9 379h1.2M213.9 379h1.2M214.9 379h1.2M216.9 379h1.2M217.9 379h1.2M220.9 379h1.2M224.9 379h1.2M226.9 379h1.2M227.9 379h1.2M228.9 379h1.2M229.9 379h1.2M231.9 379h1.2M232.9 379h1.2M234.9 379h1.2M240.9 379h1.2M241.9 379h1.2M243.9 379h1.2M244.9 379h1.2M248.9 379h1.2M251.9 379h1.2M257.9 379h1.2M258.9 379h1.2M259.9 379h1.2M260.9 379h1.2M270.9 379h1.2M279.9 379h1.2M280.9 379h1.2M290.9 379h1.2M298.9 379h1.2M204.9 380h1.2M208.9 380h1.2M212.9 380h1.2M213.9 380h1.2M214.9 380h1.2M216.9 380h1.2M220.9 380h1.2M222.9 380h1.2M223.9 380h1.2M224.9 380h1.2M225.9 380h1.2M226.9 380h1.2M228.9 380h1.2M230.9 380h1.2M231.9 380h1.2M234.9 380h1.2M236.9 380h1.2M239.9 380h1.2M240.9 380h1.2M241.9 380h1.2M245.9 380h1.2M247.9 380h1.2M254.9 380h1.2M256.9 380h1.2M257.9 380h1.2M260.9 380h1.2M265.9 380h1.2M272.9 380h1.2M273.9 380h1.2M293.9 380h1.2M155.9 381h1.2M177.9 381h1.2M198.9 381h1.2M202.9 381h1.2M203.9 381h1.2M205.9 381h1.2M208.9 381h1.2M209.9 381h1.2M210.9 381h1.2M211.9 381h1.2M220.9 381h1.2M222.9 381h1.2M223.9 381h1.2M225.9 381h1.2M228.9 381h1.2M229.9 381h1.2M230.9 381h1.2M231.9 381h1.2M232.9 381h1.2M237.9 381h1.2M240.9 381h1.2M241.9 381h1.2M245.9 381h1.2M246.9 381h1.2M249.9 381h1.2M259.9 381h1.2M266.9 381h1.2M267.9 381h1.2M274.9 381h1.2M280.9 381h1.2M304.9 381h1.2M319.9 381h1.2M320.9 381h1.2M321.9 381h1.2M179.9 382h1.2M181.9 382h1.2M183.9 382h1.2M186.9 382h1.2M192.9 382h1.2M202.9 382h1.2M205.9 382h1.2M206.9 382h1.2M207.9 382h1.2M209.9 382h1.2M210.9 382h1.2M212.9 382h1.2M214.9 382h1.2M216.9 382h1.2M217.9 382h1.2M220.9 382h1.2M221.9 382h1.2M222.9 382h1.2M224.9 382h1.2M227.9 382h1.2M230.9 382h1.2M231.9 382h1.2M232.9 382h1.2M234.9 382h1.2M236.9 382h1.2M237.9 382h1.2M238.9 382h1.2M240.9 382h1.2M242.9 382h1.2M247.9 382h1.2M249.9 382h1.2M253.9 382h1.2M254.9 382h1.2M257.9 382h1.2M260.9 382h1.2M281.9 382h1.2M287.9 382h1.2M294.9 382h1.2M180.9 383h1.2M185.9 383h1.2M192.9 383h1.2M195.9 383h1.2M200.9 383h1.2M207.9 383h1.2M210.9 383h1.2M212.9 383h1.2M215.9 383h1.2M216.9 383h1.2M217.9 383h1.2M218.9 383h1.2M221.9 383h1.2M225.9 383h1.2M226.9 383h1.2M228.9 383h1.2M232.9 383h1.2M236.9 383h1.2M237.9 383h1.2M238.9 383h1.2M240.9 383h1.2M241.9 383h1.2M248.9 383h1.2M249.9 383h1.2M250.9 383h1.2M253.9 383h1.2M254.9 383h1.2M270.9 383h1.2M275.9 383h1.2M277.9 383h1.2M321.9 383h1.2M195.9 384h1.2M201.9 384h1.2M205.9 384h1.2M207.9 384h1.2M208.9 384h1.2M211.9 384h1.2M214.9 384h1.2M218.9 384h1.2M220.9 384h1.2M221.9 384h1.2M222.9 384h1.2M224.9 384h1.2M225.9 384h1.2M229.9 384h1.2M231.9 384h1.2M232.9 384h1.2M235.9 384h1.2M237.9 384h1.2M241.9 384h1.2M242.9 384h1.2M245.9 384h1.2M246.9 384h1.2M248.9 384h1.2M249.9 384h1.2M260.9 384h1.2M292.9 384h1.2M297.9 384h1.2M188.9 385h1.2M190.9 385h1.2M202.9 385h1.2M203.9 385h1.2M205.9 385h1.2M206.9 385h1.2M208.9 385h1.2M211.9 385h1.2M216.9 385h1.2M224.9 385h1.2M227.9 385h1.2M237.9 385h1.2M239.9 385h1.2M240.9 385h1.2M246.9 385h1.2M252.9 385h1.2M253.9 385h1.2M258.9 385h1.2M275.9 385h1.2M276.9 385h1.2M282.9 385h1.2M290.9 385h1.2M318.9 385h1.2M162.9 386h1.2M179.9 386h1.2M205.9 386h1.2M208.9 386h1.2M212.9 386h1.2M213.9 386h1.2M216.9 386h1.2M218.9 386h1.2M219.9 386h1.2M220.9 386h1.2M221.9 386h1.2M222.9 386h1.2M223.9 386h1.2M225.9 386h1.2M227.9 386h1.2M228.9 386h1.2M231.9 386h1.2M233.9 386h1.2M236.9 386h1.2M239.9 386h1.2M244.9 386h1.2M250.9 386h1.2M251.9 386h1.2M257.9 386h1.2M275.9 386h1.2M283.9 386h1.2M151.9 387h1.2M207.9 387h1.2M209.9 387h1.2M217.9 387h1.2M218.9 387h1.2M221.9 387h1.2M222.9 387h1.2M224.9 387h1.2M228.9 387h1.2M230.9 387h1.2M232.9 387h1.2M239.9 387h1.2M242.9 387h1.2M243.9 387h1.2M253.9 387h1.2M260.9 387h1.2M261.9 387h1.2M267.9 387h1.2M277.9 387h1.2M281.9 387h1.2M309.9 387h1.2M181.9 388h1.2M190.9 388h1.2M191.9 388h1.2M199.9 388h1.2M208.9 388h1.2M209.9 388h1.2M210.9 388h1.2M214.9 388h1.2M216.9 388h1.2M219.9 388h1.2M220.9 388h1.2M222.9 388h1.2M223.9 388h1.2M224.9 388h1.2M226.9 388h1.2M229.9 388h1.2M231.9 388h1.2M235.9 388h1.2M236.9 388h1.2M241.9 388h1.2M242.9 388h1.2M244.9 388h1.2M251.9 388h1.2M253.9 388h1.2M284.9 388h1.2M296.9 388h1.2M162.9 389h1.2M175.9 389h1.2M177.9 389h1.2M185.9 389h1.2M186.9 389h1.2M189.9 389h1.2M190.9 389h1.2M193.9 389h1.2M195.9 389h1.2M203.9 389h1.2M212.9 389h1.2M213.9 389h1.2M215.9 389h1.2M216.9 389h1.2M218.9 389h1.2M219.9 389h1.2M222.9 389h1.2M229.9 389h1.2M232.9 389h1.2M233.9 389h1.2M235.9 389h1.2M239.9 389h1.2M241.9 389h1.2M245.9 389h1.2M246.9 389h1.2M247.9 389h1.2M250.9 389h1.2M279.9 389h1.2M296.9 389h1.2M181.9 390h1.2M196.9 390h1.2M205.9 390h1.2M207.9 390h1.2M208.9 390h1.2M210.9 390h1.2M212.9 390h1.2M213.9 390h1.2M215.9 390h1.2M216.9 390h1.2M222.9 390h1.2M223.9 390h1.2M225.9 390h1.2M229.9 390h1.2M230.9 390h1.2M233.9 390h1.2M234.9 390h1.2M239.9 390h1.2M240.9 390h1.2M245.9 390h1.2M247.9 390h1.2M249.9 390h1.2M250.9 390h1.2M256.9 390h1.2M262.9 390h1.2M284.9 390h1.2M319.9 390h1.2M172.9 391h1.2M198.9 391h1.2M204.9 391h1.2M226.9 391h1.2M229.9 391h1.2M238.9 391h1.2M239.9 391h1.2M240.9 391h1.2M241.9 391h1.2M242.9 391h1.2M244.9 391h1.2M267.9 391h1.2M268.9 391h1.2M198.9 392h1.2M208.9 392h1.2M211.9 392h1.2M215.9 392h1.2M221.9 392h1.2M222.9 392h1.2M224.9 392h1.2M229.9 392h1.2M230.9 392h1.2M231.9 392h1.2M232.9 392h1.2M238.9 392h1.2M244.9 392h1.2M250.9 392h1.2M254.9 392h1.2M284.9 392h1.2M288.9 392h1.2M306.9 392h1.2M161.9 393h1.2M192.9 393h1.2M201.9 393h1.2M208.9 393h1.2M209.9 393h1.2M212.9 393h1.2M214.9 393h1.2M216.9 393h1.2M231.9 393h1.2M233.9 393h1.2M237.9 393h1.2M242.9 393h1.2M244.9 393h1.2M249.9 393h1.2M251.9 393h1.2M256.9 393h1.2M296.9 393h1.2M155.9 394h1.2M183.9 394h1.2M204.9 394h1.2M205.9 394h1.2M207.9 394h1.2M210.9 394h1.2M215.9 394h1.2M218.9 394h1.2M219.9 394h1.2M220.9 394h1.2M225.9 394h1.2M226.9 394h1.2M232.9 394h1.2M233.9 394h1.2M234.9 394h1.2M237.9 394h1.2M239.9 394h1.2M241.9 394h1.2M246.9 394h1.2M248.9 394h1.2M252.9 394h1.2M254.9 394h1.2M259.9 394h1.2M261.9 394h1.2M295.9 394h1.2M192.9 395h1.2M195.9 395h1.2M200.9 395h1.2M204.9 395h1.2M205.9 395h1.2M206.9 395h1.2M207.9 395h1.2M208.9 395h1.2M220.9 395h1.2M221.9 395h1.2M224.9 395h1.2M226.9 395h1.2M230.9 395h1.2M231.9 395h1.2M232.9 395h1.2M234.9 395h1.2M236.9 395h1.2M239.9 395h1.2M242.9 395h1.2M243.9 395h1.2M245.9 395h1.2M253.9 395h1.2M262.9 395h1.2M173.9 396h1.2M203.9 396h1.2M204.9 396h1.2M206.9 396h1.2M211.9 396h1.2M214.9 396h1.2M216.9 396h1.2M217.9 396h1.2M222.9 396h1.2M224.9 396h1.2M227.9 396h1.2M234.9 396h1.2M235.9 396h1.2M238.9 396h1.2M245.9 396h1.2M246.9 396h1.2M256.9 396h1.2M206.9 397h1.2M210.9 397h1.2M221.9 397h1.2M222.9 397h1.2M225.9 397h1.2M238.9 397h1.2M241.9 397h1.2M244.9 397h1.2M251.9 397h1.2M254.9 397h1.2M257.9 397h1.2M187.9 398h1.2M207.9 398h1.2M211.9 398h1.2M212.9 398h1.2M224.9 398h1.2M235.9 398h1.2M239.9 398h1.2M240.9 398h1.2M207.9 399h1.2M208.9 399h1.2M211.9 399h1.2M213.9 399h1.2M221.9 399h1.2M223.9 399h1.2M226.9 399h1.2M227.9 399h1.2M233.9 399h1.2M240.9 399h1.2M251.9 399h1.2M192.9 400h1.2M219.9 400h1.2M235.9 400h1.2M237.9 400h1.2M254.9 400h1.2M197.9 401h1.2M206.9 401h1.2M208.9 401h1.2M209.9 401h1.2M210.9 401h1.2M218.9 401h1.2M221.9 401h1.2M225.9 401h1.2M226.9 401h1.2M230.9 401h1.2M231.9 401h1.2M233.9 401h1.2M239.9 401h1.2M241.9 401h1.2M250.9 401h1.2M184.9 402h1.2M199.9 402h1.2M207.9 402h1.2M210.9 402h1.2M217.9 402h1.2M218.9 402h1.2M224.9 402h1.2M227.9 402h1.2M241.9 402h1.2M250.9 402h1.2M256.9 402h1.2M200.9 403h1.2M217.9 403h1.2M218.9 403h1.2M221.9 403h1.2M224.9 403h1.2M225.9 403h1.2M229.9 403h1.2M232.9 403h1.2M234.9 403h1.2M240.9 403h1.2M251.9 403h1.2M256.9 403h1.2M162.9 404h1.2M187.9 404h1.2M189.9 404h1.2M206.9 404h1.2M210.9 404h1.2M212.9 404h1.2M216.9 404h1.2M219.9 404h1.2M220.9 404h1.2M223.9 404h1.2M238.9 404h1.2M245.9 404h1.2M252.9 404h1.2M180.9 405h1.2M202.9 405h1.2M207.9 405h1.2M212.9 405h1.2M221.9 405h1.2M229.9 405h1.2M232.9 405h1.2M233.9 405h1.2M243.9 405h1.2M176.9 406h1.2M197.9 406h1.2M204.9 406h1.2M205.9 406h1.2M215.9 406h1.2M222.9 406h1.2M224.9 406h1.2M225.9 406h1.2M232.9 406h1.2M234.9 406h1.2M238.9 406h1.2M240.9 406h1.2M241.9 406h1.2M243.9 406h1.2M256.9 406h1.2M166.9 407h1.2M181.9 407h1.2M193.9 407h1.2M201.9 407h1.2M221.9 407h1.2M223.9 407h1.2M230.9 407h1.2M231.9 407h1.2M246.9 407h1.2M253.9 407h1.2M185.9 408h1.2M207.9 408h1.2M222.9 408h1.2M232.9 408h1.2M253.9 408h1.2M185.9 409h1.2M191.9 409h1.2M197.9 409h1.2M204.9 409h1.2M207.9 409h1.2M217.9 409h1.2M218.9 409h1.2M252.9 409h1.2M182.9 410h1.2M183.9 410h1.2M185.9 410h1.2M191.9 410h1.2M208.9 410h1.2M225.9 410h1.2M230.9 410h1.2M232.9 410h1.2M243.9 410h1.2M245.9 410h1.2M179.9 411h1.2M198.9 411h1.2M199.9 411h1.2M200.9 411h1.2M209.9 411h1.2M236.9 411h1.2M253.9 411h1.2M254.9 411h1.2M257.9 411h1.2M179.9 412h1.2M211.9 412h1.2M220.9 412h1.2M222.9 412h1.2M230.9 412h1.2M235.9 412h1.2M241.9 412h1.2M193.9 413h1.2M206.9 413h1.2M212.9 413h1.2M223.9 413h1.2M245.9 413h1.2M256.9 413h1.2M257.9 413h1.2M172.9 414h1.2M197.9 414h1.2M216.9 414h1.2M220.9 414h1.2M230.9 414h1.2M236.9 414h1.2M249.9 414h1.2M204.9 415h1.2M208.9 415h1.2M217.9 415h1.2M222.9 415h1.2M229.9 415h1.2M230.9 415h1.2M233.9 415h1.2M238.9 415h1.2M241.9 415h1.2M245.9 415h1.2M247.9 415h1.2M196.9 416h1.2M225.9 416h1.2M234.9 416h1.2M186.9 417h1.2M191.9 417h1.2M225.9 417h1.2M227.9 417h1.2M242.9 417h1.2M218.9 418h1.2M178.9 419h1.2M202.9 419h1.2M243.9 419h1.2M250.9 419h1.2M253.9 419h1.2M219.9 420h1.2M233.9 420h1.2M235.9 420h1.2" stroke="#a9a9a9" stroke-width="2.7" stroke-linecap="round" fill="none"/>
<path d="M477.9 23h1.2M422.9 43h1.2M346.9 57h1.2M412.9 54h1.2M460.9 54h1.2M419.9 65h1.2M388.9 74h1.2M373.9 83h1.2M395.9 81h1.2M446.9 76h1.2M378.9 89h1.2M415.9 86h1.2M440.9 89h1.2M458.9 88h1.2M457.9 91h1.2M449.9 95h1.2M458.9 95h1.2M359.9 99h1.2M416.9 97h1.2M385.9 101h1.2M339.9 110h1.2M350.9 110h1.2M368.9 108h1.2M408.9 108h1.2M415.9 111h1.2M424.9 110h1.2M427.9 110h1.2M435.9 107h1.2M373.9 114h1.2M380.9 117h1.2M389.9 116h1.2M402.9 116h1.2M404.9 114h1.2M436.9 117h1.2M438.9 118h1.2M370.9 119h1.2M372.9 121h1.2M417.9 119h1.2M422.9 118h1.2M425.9 121h1.2M457.9 119h1.2M347.9 125h1.2M343.9 128h1.2M350.9 129h1.2M355.9 128h1.2M362.9 129h1.2M365.9 126h1.2M408.9 126h1.2M423.9 128h1.2M462.9 128h1.2M331.9 131h1.2M338.9 134h1.2M345.9 134h1.2M370.9 133h1.2M374.9 129h1.2M378.9 129h1.2M379.9 133h1.2M382.9 134h1.2M387.9 135h1.2M410.9 130h1.2M414.9 131h1.2M352.9 140h1.2M355.9 141h1.2M361.9 135h1.2M370.9 140h1.2M375.9 138h1.2M369.9 144h1.2M387.9 145h1.2M391.9 144h1.2M395.9 141h1.2M399.9 143h1.2M412.9 143h1.2M419.9 146h1.2M463.9 145h1.2M343.9 146h1.2M349.9 145h1.2M377.9 145h1.2M382.9 149h1.2M362.9 149h1.2M477.9 146h1.2M206.9 145h1.2M201.9 157h1.2M216.9 156h1.2M220.9 152h1.2M229.9 168h1.2M149.9 199h1.2M198.9 195h1.2M233.9 206h1.2M214.9 209h1.2M502.9 80h1.2M453.9 176h1.2M464.9 186h1.2M486.9 187h1.2M451.9 247h1.2M458.9 287h1.2M472.9 292h1.2M377.9 160h1.2M382.9 164h1.2M400.9 165h1.2M406.9 165h1.2M410.9 152h1.2M416.9 152h1.2M432.9 165h1.2M436.9 172h1.2M406.9 173h1.2M373.9 177h1.2M377.9 177h1.2M371.9 181h1.2M376.9 180h1.2M381.9 181h1.2M386.9 183h1.2M389.9 174h1.2M388.9 177h1.2M386.9 179h1.2M384.9 185h1.2M378.9 185h1.2M369.9 186h1.2M371.9 190h1.2M386.9 192h1.2M379.9 194h1.2M377.9 199h1.2M371.9 202h1.2M430.9 187h1.2M418.9 194h1.2M441.9 199h1.2M386.9 207h1.2M374.9 209h1.2M371.9 207h1.2M399.9 214h1.2M401.9 218h1.2M404.9 218h1.2M406.9 216h1.2M418.9 217h1.2M386.9 218h1.2M382.9 223h1.2M388.9 226h1.2M374.9 227h1.2M369.9 231h1.2M373.9 233h1.2M380.9 235h1.2M374.9 240h1.2M404.9 239h1.2M399.9 242h1.2M424.9 249h1.2M370.9 245h1.2M372.9 248h1.2M524.9 343h1.2M531.9 347h1.2M452.9 365h1.2M360.9 253h1.2M365.9 256h1.2M372.9 258h1.2M376.9 259h1.2M369.9 270h1.2M376.9 274h1.2M376.9 285h1.2M416.9 256h1.2M430.9 263h1.2M411.9 265h1.2M409.9 268h1.2M428.9 271h1.2M420.9 279h1.2M438.9 288h1.2M407.9 309h1.2M396.9 317h1.2M384.9 313h1.2M386.9 319h1.2M373.9 313h1.2M377.9 315h1.2M376.9 317h1.2M369.9 319h1.2M364.9 319h1.2M362.9 319h1.2M375.9 323h1.2M379.9 328h1.2M370.9 328h1.2M370.9 331h1.2M364.9 333h1.2M362.9 336h1.2M363.9 359h1.2M335.9 365h1.2M325.9 385h1.2M332.9 384h1.2M336.9 385h1.2M339.9 389h1.2M321.9 391h1.2M318.9 404h1.2M318.9 419h1.2M127.9 431h1.2M152.9 433h1.2M161.9 434h1.2M165.9 431h1.2M168.9 432h1.2M171.9 434h1.2M158.9 441h1.2M162.9 441h1.2M160.9 444h1.2M170.9 443h1.2M174.9 439h1.2M161.9 450h1.2M158.9 454h1.2M154.9 456h1.2M175.9 451h1.2M176.9 457h1.2M131.9 476h1.2M170.9 477h1.2M130.9 522h1.2M169.9 527h1.2M73.9 303h1.2M62.9 319h1.2M85.9 319h1.2M113.9 321h1.2M130.9 318h1.2M138.9 312h1.2M53.9 326h1.2M62.9 326h1.2M85.9 326h1.2M121.9 326h1.2M129.9 326h1.2M138.9 326h1.2M147.9 326h1.2M62.9 334h1.2M66.9 334h1.2M86.9 332h1.2M100.9 332h1.2M133.9 336h1.2M138.9 335h1.2M143.9 334h1.2M62.9 347h1.2M73.9 343h1.2M91.9 350h1.2M120.9 344h1.2M133.9 350h1.2M74.9 356h1.2M95.9 360h1.2M111.9 361h1.2M62.9 365h1.2M82.9 369h1.2M136.9 364h1.2M134.9 371h1.2M134.9 377h1.2M145.9 356h1.2M110.9 378h1.2M81.9 391h1.2M88.9 391h1.2M121.9 389h1.2M129.9 391h1.2M147.9 374h1.2M55.9 399h1.2M117.9 407h1.2M121.9 403h1.2M136.9 414h1.2M62.9 414h1.2M72.9 412h1.2M120.9 416h1.2M143.9 405h1.2M141.9 437h1.2M112.9 198h1.2M81.9 244h1.2M70.9 259h1.2M86.9 259h1.2M86.9 275h1.2M164.9 266h1.2M172.9 277h1.2M164.9 290h1.2M172.9 289h1.2M177.9 291h1.2M164.9 298h1.2M168.9 299h1.2M320.9 101h1.2M282.9 122h1.2M279.9 146h1.2M297.9 142h1.2M324.9 138h1.2M328.9 143h1.2M260.9 177h1.2M236.9 211h1.2M232.9 217h1.2M248.9 216h1.2M190.9 226h1.2M209.9 229h1.2M232.9 236h1.2M240.9 239h1.2M240.9 242h1.2M243.9 245h1.2M251.9 225h1.2M252.9 235h1.2M254.9 241h1.2M217.9 247h1.2M198.9 248h1.2M188.9 249h1.2M274.9 193h1.2M278.9 187h1.2M273.9 202h1.2M275.9 202h1.2M168.9 424h1.2M170.9 423h1.2M180.9 421h1.2M184.9 425h1.2M188.9 423h1.2M200.9 420h1.2M206.9 419h1.2M216.9 423h1.2M218.9 428h1.2M222.9 425h1.2M226.9 426h1.2M230.9 428h1.2M234.9 424h1.2M240.9 423h1.2M242.9 425h1.2M162.9 431h1.2M164.9 436h1.2M180.9 431h1.2M182.9 433h1.2M198.9 435h1.2M196.9 438h1.2M204.9 431h1.2M208.9 432h1.2M210.9 436h1.2M216.9 432h1.2M216.9 436h1.2M224.9 434h1.2M230.9 438h1.2M234.9 441h1.2M236.9 440h1.2M244.9 441h1.2M248.9 430h1.2M246.9 444h1.2M250.9 446h1.2M256.9 424h1.2M184.9 440h1.2M176.9 453h1.2M200.9 453h1.2M204.9 448h1.2M216.9 447h1.2M222.9 448h1.2M224.9 452h1.2M236.9 446h1.2M250.9 457h1.2M186.9 462h1.2M206.9 461h1.2M214.9 460h1.2M218.9 460h1.2M214.9 464h1.2M218.9 464h1.2M200.9 467h1.2M208.9 469h1.2M202.9 470h1.2M190.9 481h1.2M264.9 447h1.2M270.9 392h1.2M278.9 393h1.2M283.9 392h1.2M283.9 395h1.2M288.9 391h1.2M289.9 396h1.2M304.9 395h1.2M313.9 390h1.2M267.9 399h1.2M274.9 401h1.2M276.9 400h1.2M262.9 402h1.2M282.9 406h1.2M297.9 403h1.2M300.9 407h1.2M311.9 408h1.2M311.9 411h1.2M262.9 407h1.2M270.9 412h1.2M286.9 412h1.2M290.9 411h1.2M294.9 416h1.2M279.9 419h1.2M289.9 419h1.2M297.9 420h1.2M260.9 422h1.2M274.9 426h1.2M289.9 430h1.2M277.9 434h1.2M258.9 414h1.2M217.9 499h1.2M195.9 507h1.2M191.9 516h1.2" stroke="#a2a2a2" stroke-width="2.7" stroke-linecap="round" fill="none"/>
<g font-size="16" fill="#2a2a2a" stroke="#2a2a2a" stroke-width="0.15"><text transform="translate(37.1 354) scale(1.18 1)" text-anchor="middle">-4</text><text transform="translate(148.6 354) scale(1.18 1)" text-anchor="middle">-2</text><text transform="translate(260.0 354) scale(1.18 1)" text-anchor="middle">0</text><text transform="translate(371.4 354) scale(1.18 1)" text-anchor="middle">2</text><text transform="translate(482.9 354) scale(1.18 1)" text-anchor="middle">4</text><text transform="translate(594.3 354) scale(1.18 1)" text-anchor="middle">6</text></g>
<g stroke="#000" stroke-width="1.5" fill="#14d014"><circle cx="274.0" cy="216.9" r="3.25"/><circle cx="283.7" cy="229.2" r="3.25"/><circle cx="275.5" cy="245.7" r="3.25"/><circle cx="275.5" cy="242.5" r="3.25"/><circle cx="222.5" cy="261.6" r="3.25"/><circle cx="237.6" cy="272.7" r="3.25"/><circle cx="244.1" cy="275.5" r="3.25"/><circle cx="251.1" cy="275.2" r="3.25"/><circle cx="261.8" cy="279.4" r="3.25"/><circle cx="232.0" cy="286.2" r="3.25"/><circle cx="243.9" cy="286.2" r="3.25"/><circle cx="249.7" cy="286.2" r="3.25"/><circle cx="255.4" cy="287.3" r="3.25"/><circle cx="260.9" cy="289.0" r="3.25"/><circle cx="243.9" cy="293.6" r="3.25"/><circle cx="240.0" cy="297.1" r="3.25"/><circle cx="256.7" cy="297.1" r="3.25"/><circle cx="256.7" cy="304.0" r="3.25"/><circle cx="231.6" cy="297.3" r="3.25"/><circle cx="265.7" cy="350.2" r="3.25"/><circle cx="267.6" cy="347.0" r="3.25"/><circle cx="275.5" cy="347.4" r="3.25"/><circle cx="253.8" cy="364.5" r="3.25"/><circle cx="279.5" cy="362.1" r="3.25"/><circle cx="285.4" cy="362.1" r="3.25"/><circle cx="294.2" cy="360.2" r="3.25"/><circle cx="298.4" cy="366.3" r="3.25"/><circle cx="249.8" cy="385.3" r="3.25"/><circle cx="247.0" cy="414.9" r="3.25"/><circle cx="328.5" cy="150.5" r="3.25"/></g>
<g stroke="#000" stroke-width="1.5" fill="#ff2200"><circle cx="232.0" cy="301.2" r="3.25"/><circle cx="229.2" cy="306.5" r="3.25"/><circle cx="237.6" cy="313.1" r="3.25"/><circle cx="233.4" cy="321.4" r="3.25"/><circle cx="334.0" cy="332.2" r="3.25"/><circle cx="309.2" cy="352.4" r="3.25"/><circle cx="302.6" cy="356.6" r="3.25"/><circle cx="312.1" cy="358.4" r="3.25"/><circle cx="304.1" cy="363.5" r="3.25"/><circle cx="324.4" cy="348.3" r="3.25"/><circle cx="334.0" cy="353.8" r="3.25"/><circle cx="360.8" cy="352.5" r="3.25"/><circle cx="370.5" cy="346.8" r="3.25"/><circle cx="381.2" cy="348.5" r="3.25"/><circle cx="47.6" cy="287.5" r="3.25"/><circle cx="181.9" cy="280.7" r="3.25"/><circle cx="162.6" cy="330.8" r="3.25"/><circle cx="141.1" cy="353.5" r="3.25"/></g>
<g font-size="16" fill="#2a2a2a" stroke="#2a2a2a" stroke-width="0.15"><text transform="translate(244.3 547.3) scale(1.15 1)" text-anchor="end">-4</text><text transform="translate(244.3 494.0) scale(1.15 1)" text-anchor="end">-3</text><text transform="translate(244.3 440.7) scale(1.15 1)" text-anchor="end">-2</text><text transform="translate(244.3 387.5) scale(1.15 1)" text-anchor="end">-1</text><text transform="translate(244.3 334.2) scale(1.15 1)" text-anchor="end">0</text><text transform="translate(244.3 280.9) scale(1.15 1)" text-anchor="end">1</text><text transform="translate(244.3 227.7) scale(1.15 1)" text-anchor="end">2</text><text transform="translate(244.3 174.4) scale(1.15 1)" text-anchor="end">3</text><text transform="translate(244.3 121.1) scale(1.15 1)" text-anchor="end">4</text><text transform="translate(244.3 67.8) scale(1.15 1)" text-anchor="end">5</text><text transform="translate(244.3 14.6) scale(1.15 1)" text-anchor="end">6</text></g>
<g font-size="12" fill="#333" stroke="#333" stroke-width="0.3">
<rect x="111" y="21.5" width="2.5" height="2.2" fill="#b0b0b0" stroke="none"/>
<text transform="translate(127.2 28.6) scale(1.2 1)">ns</text>
<circle cx="111.6" cy="49" r="3.25" fill="#14d014" stroke="#000" stroke-width="1.5"/>
<text transform="translate(127.2 54.6) scale(1.2 1)">Baldwin</text>
<circle cx="111.6" cy="74.6" r="3.25" fill="#ff2200" stroke="#000" stroke-width="1.5"/>
<text transform="translate(127.2 80) scale(1.2 1)">canalization</text>
<path d="M99 100.8H125" stroke="#333" stroke-width="1.4"/>
<text transform="translate(126.5 104.8) scale(1.4 1)">y=x</text>
</g>
<g font-size="19.5" fill="#262626">
<text transform="translate(87.8 569) scale(1.118 1)">Differential expression (28°C-18°C) in N clones</text>
<text transform="translate(17.5 500) rotate(-90) scale(1.12 1)">Differential expression (28°C-18°C) in S clones</text>
</g>
</svg>
</body></html>
